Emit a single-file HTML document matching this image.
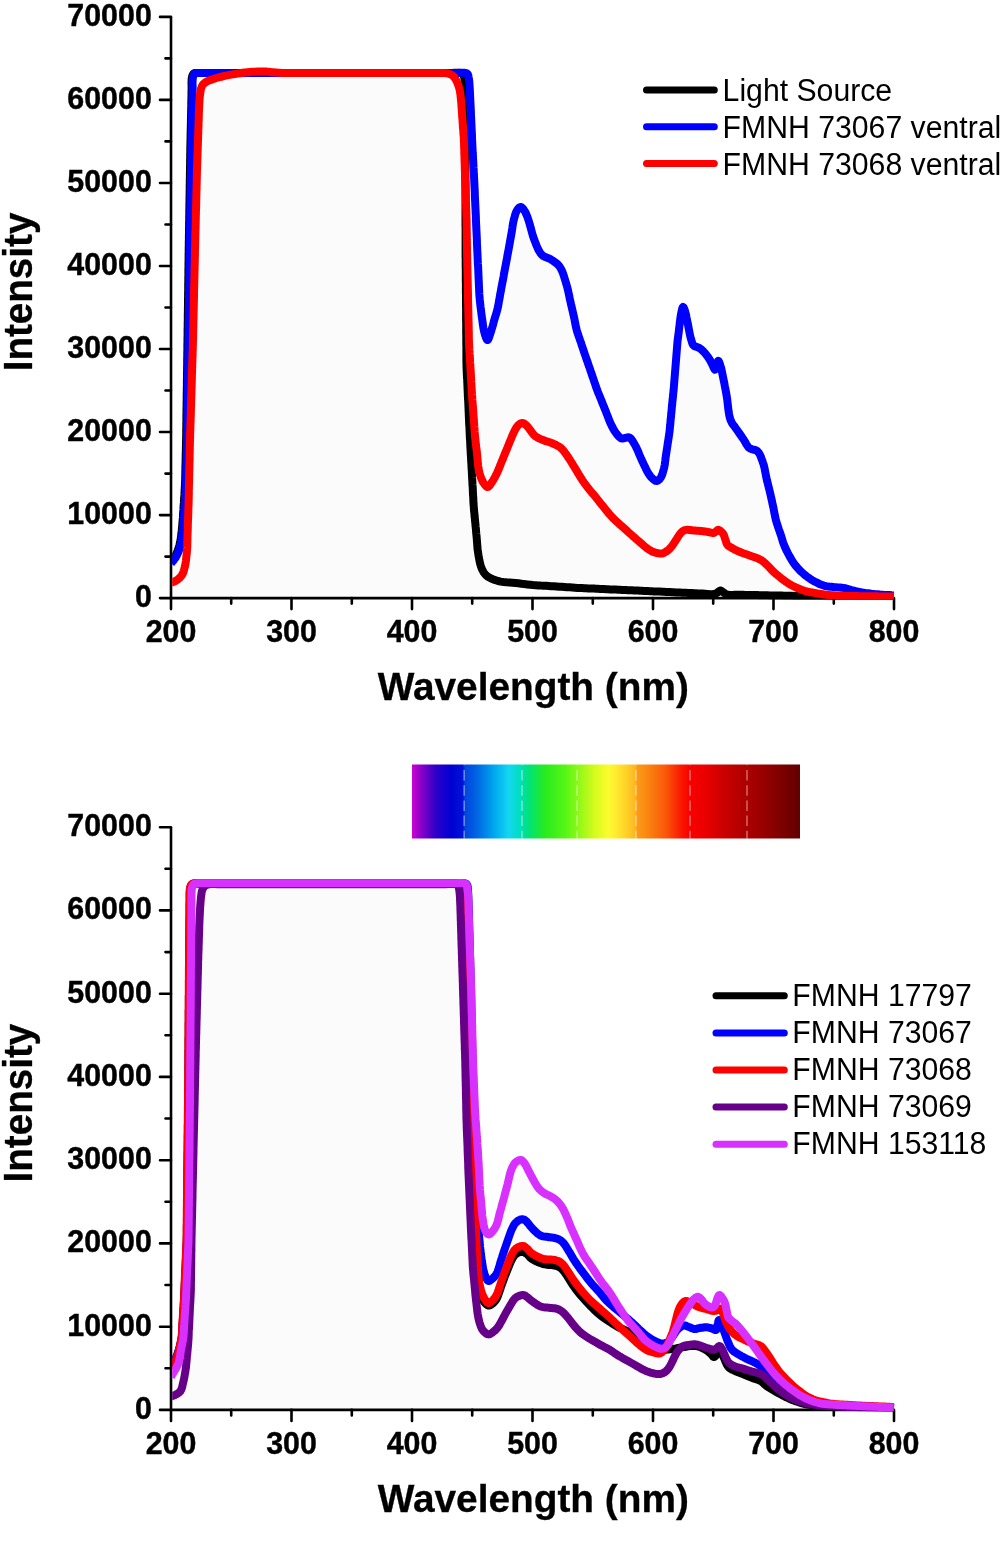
<!DOCTYPE html>
<html><head><meta charset="utf-8"><title>Spectra</title>
<style>
html,body{margin:0;padding:0;background:#fff;}
svg{display:block}
text{font-family:"Liberation Sans",sans-serif;fill:#000}
.tk{font-weight:bold;font-size:30.4px;stroke:#000;stroke-width:0.4px}
.ti{font-weight:bold;stroke:#000;stroke-width:0.3px}
.lg{font-weight:normal}
</style></head><body>
<svg width="1003" height="1548" viewBox="0 0 1003 1548">
<defs>
<clipPath id="ca"><rect x="172.2" y="10" width="722.6" height="589.4"/></clipPath>
<clipPath id="cb"><rect x="172.2" y="820" width="722.6" height="591.2"/></clipPath>
<linearGradient id="sp" x1="0" y1="0" x2="1" y2="0"><stop offset="0.0000" stop-color="rgb(205, 0, 210)"/><stop offset="0.0232" stop-color="rgb(140, 0, 200)"/><stop offset="0.0593" stop-color="rgb(50, 0, 200)"/><stop offset="0.1005" stop-color="rgb(0, 0, 210)"/><stop offset="0.1314" stop-color="rgb(0, 20, 215)"/><stop offset="0.1366" stop-color="rgb(0, 70, 222)"/><stop offset="0.1624" stop-color="rgb(0, 95, 226)"/><stop offset="0.2139" stop-color="rgb(0, 170, 240)"/><stop offset="0.2500" stop-color="rgb(20, 215, 240)"/><stop offset="0.2784" stop-color="rgb(0, 222, 190)"/><stop offset="0.3015" stop-color="rgb(0, 226, 120)"/><stop offset="0.3428" stop-color="rgb(40, 235, 30)"/><stop offset="0.3943" stop-color="rgb(85, 245, 20)"/><stop offset="0.4330" stop-color="rgb(150, 248, 25)"/><stop offset="0.4716" stop-color="rgb(215, 250, 30)"/><stop offset="0.5052" stop-color="rgb(250, 252, 45)"/><stop offset="0.5206" stop-color="rgb(255, 240, 50)"/><stop offset="0.5490" stop-color="rgb(255, 212, 40)"/><stop offset="0.5760" stop-color="rgb(252, 182, 34)"/><stop offset="0.5799" stop-color="rgb(250, 155, 24)"/><stop offset="0.6005" stop-color="rgb(250, 140, 18)"/><stop offset="0.6521" stop-color="rgb(250, 90, 10)"/><stop offset="0.6933" stop-color="rgb(250, 25, 0)"/><stop offset="0.7165" stop-color="rgb(248, 0, 0)"/><stop offset="0.7552" stop-color="rgb(235, 0, 0)"/><stop offset="0.8067" stop-color="rgb(200, 0, 0)"/><stop offset="0.8634" stop-color="rgb(172, 0, 0)"/><stop offset="0.9098" stop-color="rgb(150, 0, 0)"/><stop offset="0.9613" stop-color="rgb(120, 0, 0)"/><stop offset="1.0000" stop-color="rgb(98, 0, 0)"/></linearGradient>
</defs>
<rect width="1003" height="1548" fill="#fff"/>
<!-- plot A -->
<path d="M171.0,563.5 L171.9,562.3 L172.9,561.1 L173.9,559.9 L174.8,558.7 L175.7,557.4 L176.5,556.0 L177.3,554.4 L178.1,552.6 L178.8,550.8 L179.4,549.0 L180.0,547.0 L180.5,545.0 L181.1,542.4 L181.6,539.7 L182.0,536.9 L182.3,534.0 L182.7,531.0 L183.0,528.0 L183.3,524.5 L183.6,520.9 L183.9,517.2 L184.1,513.4 L184.4,509.7 L184.6,506.0 L184.9,502.3 L185.1,498.5 L185.4,494.7 L185.6,491.0 L185.8,487.4 L186.0,484.0 L186.1,481.4 L186.2,478.9 L186.2,476.5 L186.3,474.1 L186.3,471.7 L186.4,469.3 L186.4,466.9 L186.5,464.4 L186.6,462.0 L186.6,459.6 L186.7,457.1 L186.7,454.7 L186.8,452.2 L186.9,449.7 L186.9,447.3 L187.0,444.8 L187.0,442.4 L187.1,440.0 L187.1,437.9 L187.2,435.8 L187.2,433.7 L187.2,431.6 L187.2,429.6 L187.3,427.5 L187.3,425.4 L187.3,423.3 L187.4,421.2 L187.4,419.2 L187.4,417.1 L187.4,415.0 L187.5,412.9 L187.5,410.8 L187.5,408.8 L187.6,406.7 L187.6,404.6 L187.6,402.5 L187.7,400.4 L187.7,398.3 L187.7,396.2 L187.7,394.2 L187.8,392.1 L187.8,390.0 L187.8,387.9 L187.9,385.8 L187.9,383.8 L187.9,381.7 L187.9,379.6 L188.0,377.5 L188.0,375.4 L188.0,373.3 L188.1,371.2 L188.1,369.2 L188.1,367.1 L188.2,365.0 L188.2,362.9 L188.2,360.8 L188.2,358.8 L188.3,356.7 L188.3,354.6 L188.3,352.5 L188.4,350.4 L188.4,348.3 L188.4,346.3 L188.4,344.2 L188.5,342.1 L188.5,340.0 L188.5,337.9 L188.6,335.7 L188.6,333.6 L188.6,331.4 L188.6,329.3 L188.7,327.1 L188.7,325.0 L188.7,322.9 L188.8,320.7 L188.8,318.6 L188.8,316.4 L188.8,314.3 L188.9,312.1 L188.9,310.0 L188.9,307.9 L189.0,305.7 L189.0,303.6 L189.0,301.4 L189.0,299.3 L189.1,297.1 L189.1,295.0 L189.1,292.9 L189.2,290.7 L189.2,288.6 L189.2,286.4 L189.2,284.3 L189.3,282.1 L189.3,280.0 L189.3,277.9 L189.4,275.7 L189.4,273.6 L189.4,271.4 L189.4,269.3 L189.5,267.1 L189.5,265.0 L189.5,262.9 L189.6,260.7 L189.6,258.6 L189.6,256.4 L189.6,254.3 L189.7,252.1 L189.7,250.0 L189.7,247.9 L189.8,245.8 L189.8,243.7 L189.8,241.7 L189.9,239.6 L189.9,237.5 L189.9,235.4 L190.0,233.3 L190.0,231.2 L190.0,229.2 L190.1,227.1 L190.1,225.0 L190.1,222.9 L190.2,220.8 L190.2,218.8 L190.2,216.7 L190.3,214.6 L190.3,212.5 L190.3,210.4 L190.4,208.3 L190.4,206.2 L190.4,204.2 L190.5,202.1 L190.5,200.0 L190.5,197.9 L190.6,195.8 L190.6,193.8 L190.6,191.7 L190.7,189.6 L190.7,187.5 L190.7,185.4 L190.8,183.3 L190.8,181.2 L190.8,179.2 L190.9,177.1 L190.9,175.0 L190.9,172.9 L191.0,170.8 L191.0,168.8 L191.0,166.7 L191.1,164.6 L191.1,162.5 L191.1,160.4 L191.2,158.3 L191.2,156.2 L191.2,154.1 L191.3,152.1 L191.3,150.0 L191.3,148.0 L191.4,146.0 L191.4,144.0 L191.5,142.0 L191.5,140.0 L191.6,138.0 L191.6,136.0 L191.6,134.0 L191.7,132.0 L191.7,130.0 L191.8,128.0 L191.8,126.0 L191.9,124.0 L191.9,122.0 L191.9,120.0 L192.0,118.0 L192.0,116.0 L192.1,114.0 L192.1,112.0 L192.2,110.0 L192.2,108.0 L192.3,106.0 L192.3,104.0 L192.3,102.0 L192.4,100.0 L192.4,98.0 L192.5,96.0 L192.5,94.0 L192.5,92.0 L192.6,90.0 L192.6,87.8 L192.6,85.4 L192.5,83.0 L192.6,80.7 L192.7,78.7 L193.0,77.0 L193.2,76.2 L193.5,75.4 L193.8,74.8 L194.1,74.2 L194.5,73.7 L195.0,73.3 L195.6,73.0 L196.4,72.9 L197.2,72.9 L198.1,72.9 L199.0,73.0 L200.0,73.0 L201.8,73.0 L203.7,73.0 L205.9,73.0 L208.1,73.0 L210.4,73.0 L212.5,73.0 L214.6,73.0 L216.7,73.0 L218.8,73.0 L220.8,73.0 L222.9,73.0 L225.0,73.0 L227.1,73.0 L229.2,73.0 L231.2,73.0 L233.3,73.0 L235.4,73.0 L237.5,73.0 L239.6,73.0 L241.7,73.0 L243.8,73.0 L245.8,73.0 L247.9,73.0 L250.0,73.0 L252.1,73.0 L254.2,73.0 L256.2,73.0 L258.3,73.0 L260.4,73.0 L262.5,73.0 L264.6,73.0 L266.7,73.0 L268.8,73.0 L270.8,73.0 L272.9,73.0 L275.0,73.0 L277.1,73.0 L279.2,73.0 L281.2,73.0 L283.3,73.0 L285.4,73.0 L287.5,73.0 L289.6,73.0 L291.7,73.0 L293.7,73.0 L295.8,73.0 L297.9,73.0 L300.0,73.0 L302.1,73.0 L304.2,73.0 L306.4,73.0 L308.5,73.0 L310.6,73.0 L312.7,73.0 L314.9,73.0 L317.0,73.0 L319.1,73.0 L321.2,73.0 L323.3,73.0 L325.5,73.0 L327.6,73.0 L329.7,73.0 L331.8,73.0 L333.9,73.0 L336.1,73.0 L338.2,73.0 L340.3,73.0 L342.4,73.0 L344.6,73.0 L346.7,73.0 L348.8,73.0 L350.9,73.0 L353.0,73.0 L355.2,73.0 L357.3,73.0 L359.4,73.0 L361.5,73.0 L363.7,73.0 L365.8,73.0 L367.9,73.0 L370.0,73.0 L372.1,73.0 L374.3,73.0 L376.4,73.0 L378.5,73.0 L380.6,73.0 L382.8,73.0 L384.9,73.0 L387.0,73.0 L389.1,73.0 L391.2,73.0 L393.4,73.0 L395.5,73.0 L397.6,73.0 L399.7,73.0 L401.8,73.0 L404.0,73.0 L406.1,73.0 L408.2,73.0 L410.3,73.0 L412.5,73.0 L414.6,73.0 L416.7,73.0 L418.8,73.0 L420.9,73.0 L423.1,73.0 L425.2,73.0 L427.3,73.0 L429.4,73.0 L431.6,73.0 L433.7,73.0 L435.8,73.0 L437.9,73.0 L440.0,73.0 L442.2,73.0 L444.3,73.0 L446.4,73.0 L448.5,73.0 L450.6,73.0 L452.8,73.0 L455.0,73.0 L457.4,72.9 L459.8,72.8 L462.1,72.8 L464.0,72.8 L465.5,73.0 L466.0,73.1 L466.4,73.2 L466.7,73.4 L467.1,73.5 L467.3,73.7 L467.6,74.0 L467.9,74.4 L468.1,75.0 L468.3,75.6 L468.5,76.3 L468.6,77.1 L468.8,78.0 L469.2,80.9 L469.5,84.7 L469.8,89.1 L470.0,93.6 L470.2,98.0 L470.4,101.7 L470.5,103.9 L470.6,106.0 L470.7,108.0 L470.8,109.9 L470.9,111.8 L470.9,113.8 L471.0,115.8 L471.1,117.8 L471.2,119.8 L471.3,121.8 L471.4,123.8 L471.5,125.8 L471.6,127.9 L471.7,129.9 L471.8,131.9 L471.9,133.9 L472.0,135.9 L472.0,137.9 L472.1,139.9 L472.2,141.9 L472.3,143.9 L472.4,145.9 L472.5,147.9 L472.6,150.0 L472.7,152.4 L472.9,154.9 L473.0,157.4 L473.1,159.9 L473.3,162.5 L473.4,165.0 L473.5,167.5 L473.7,170.1 L473.8,172.6 L473.9,175.1 L474.1,177.6 L474.2,180.0 L474.3,182.1 L474.4,184.2 L474.5,186.3 L474.6,188.4 L474.7,190.4 L474.8,192.5 L474.8,194.5 L474.9,196.6 L475.0,198.7 L475.1,200.8 L475.2,202.9 L475.3,204.9 L475.4,207.0 L475.5,209.1 L475.6,211.2 L475.7,213.2 L475.8,215.3 L475.9,217.4 L475.9,219.5 L476.0,221.6 L476.1,223.6 L476.2,225.7 L476.3,227.8 L476.4,229.9 L476.5,231.9 L476.6,234.0 L476.7,236.1 L476.8,238.2 L476.9,240.3 L476.9,242.3 L477.0,244.4 L477.1,246.5 L477.2,248.5 L477.3,250.6 L477.4,252.7 L477.5,254.8 L477.6,257.1 L477.7,259.4 L477.8,261.7 L477.9,264.0 L478.1,266.4 L478.2,268.7 L478.3,271.0 L478.4,273.3 L478.5,275.6 L478.6,278.0 L478.7,280.3 L478.8,282.6 L478.9,284.9 L479.0,287.1 L479.1,289.4 L479.2,291.6 L479.3,294.0 L479.5,296.5 L479.8,299.9 L480.2,303.5 L480.6,307.2 L481.1,311.0 L481.5,314.6 L482.0,318.0 L482.4,320.7 L482.7,323.4 L483.1,326.0 L483.5,328.5 L484.0,330.9 L484.5,333.0 L484.9,334.5 L485.4,336.1 L485.9,337.6 L486.5,338.8 L487.0,339.7 L487.5,340.0 L488.0,339.7 L488.5,338.8 L489.0,337.5 L489.5,336.1 L490.0,334.5 L490.5,333.0 L491.2,330.9 L491.9,328.5 L492.7,325.9 L493.4,323.3 L494.0,320.8 L494.7,318.5 L495.2,316.8 L495.7,315.2 L496.2,313.7 L496.6,312.2 L497.1,310.6 L497.5,309.0 L497.9,307.1 L498.3,305.1 L498.7,303.0 L499.0,301.0 L499.4,298.9 L499.8,296.9 L500.1,294.8 L500.5,292.8 L500.9,290.8 L501.2,288.8 L501.6,286.7 L502.0,284.7 L502.4,282.6 L502.8,280.6 L503.2,278.5 L503.6,276.4 L503.9,274.3 L504.3,272.2 L504.7,270.2 L505.1,268.1 L505.5,266.0 L505.9,263.9 L506.3,261.8 L506.7,259.8 L507.1,257.7 L507.4,255.6 L507.8,253.6 L508.2,251.5 L508.6,249.4 L509.0,247.3 L509.4,245.0 L509.8,242.7 L510.2,240.3 L510.7,237.9 L511.1,235.5 L511.5,233.2 L511.9,230.8 L512.3,228.3 L512.6,225.9 L513.0,223.5 L513.5,221.2 L514.0,219.0 L514.5,217.2 L515.0,215.4 L515.5,213.7 L516.1,212.1 L516.8,210.7 L517.5,209.5 L518.0,208.9 L518.5,208.3 L519.1,207.7 L519.7,207.3 L520.3,207.1 L520.8,207.0 L521.4,207.1 L521.9,207.5 L522.4,208.0 L523.0,208.6 L523.5,209.3 L524.0,210.0 L524.6,211.0 L525.3,212.0 L525.8,213.2 L526.4,214.5 L527.0,215.9 L527.6,217.4 L528.6,220.5 L529.7,224.1 L530.8,228.1 L531.9,232.2 L533.0,236.2 L534.3,239.8 L535.4,242.6 L536.5,245.5 L537.7,248.2 L538.9,250.7 L540.3,252.9 L541.8,254.8 L543.1,255.9 L544.6,256.7 L546.1,257.3 L547.7,257.9 L549.2,258.5 L550.7,259.3 L552.3,260.3 L553.9,261.4 L555.4,262.5 L557.0,263.7 L558.4,265.1 L559.7,266.7 L561.2,269.2 L562.5,272.0 L563.6,275.1 L564.6,278.4 L565.6,281.6 L566.5,284.7 L567.3,287.5 L568.0,290.3 L568.6,293.0 L569.2,295.8 L569.7,298.6 L570.4,301.4 L571.0,304.2 L571.7,307.0 L572.3,309.8 L573.0,312.6 L573.6,315.4 L574.2,318.0 L574.6,320.1 L575.0,322.1 L575.4,324.1 L575.8,326.1 L576.2,328.0 L576.7,330.0 L577.3,332.1 L578.0,334.1 L578.7,336.2 L579.4,338.2 L580.1,340.3 L580.9,342.4 L581.5,344.4 L582.2,346.5 L582.9,348.6 L583.6,350.6 L584.3,352.7 L585.0,354.7 L585.7,356.7 L586.3,358.6 L587.0,360.5 L587.7,362.4 L588.3,364.4 L589.0,366.3 L589.7,368.2 L590.3,370.2 L591.0,372.1 L591.7,374.0 L592.3,376.0 L593.0,377.9 L593.7,379.8 L594.3,381.8 L595.0,383.7 L595.6,385.6 L596.3,387.6 L597.0,389.5 L597.7,391.4 L598.5,393.4 L599.3,395.3 L600.1,397.3 L600.9,399.2 L601.7,401.1 L602.4,403.1 L603.2,405.0 L604.0,406.9 L604.8,408.9 L605.6,410.8 L606.3,412.8 L607.1,414.7 L607.9,416.7 L608.6,418.7 L609.4,420.7 L610.2,422.6 L611.0,424.4 L611.8,426.0 L612.6,427.5 L613.4,429.0 L614.2,430.4 L615.1,431.7 L616.0,433.0 L616.8,434.1 L617.7,435.2 L618.7,436.3 L619.6,437.2 L620.5,437.9 L621.4,438.4 L622.0,438.5 L622.6,438.5 L623.2,438.4 L623.8,438.3 L624.4,438.1 L625.0,438.0 L625.7,437.9 L626.5,437.7 L627.3,437.5 L628.0,437.3 L628.8,437.3 L629.5,437.5 L630.5,438.2 L631.4,439.2 L632.3,440.5 L633.2,441.9 L634.1,443.5 L635.0,445.0 L636.1,447.1 L637.2,449.4 L638.3,451.9 L639.3,454.5 L640.4,457.0 L641.5,459.5 L642.7,462.0 L643.9,464.6 L645.1,467.1 L646.3,469.6 L647.5,471.9 L648.7,473.8 L649.4,474.9 L650.1,475.9 L650.8,476.8 L651.5,477.6 L652.3,478.3 L653.0,479.0 L653.6,479.5 L654.3,480.0 L654.9,480.4 L655.5,480.8 L656.2,481.0 L656.8,481.0 L657.4,480.8 L658.1,480.5 L658.7,480.0 L659.4,479.4 L659.9,478.7 L660.5,478.0 L661.2,476.8 L661.9,475.3 L662.5,473.7 L663.0,471.9 L663.5,470.1 L664.0,468.4 L664.4,466.5 L664.8,464.5 L665.0,462.5 L665.3,460.5 L665.5,458.4 L665.8,456.4 L666.1,454.4 L666.4,452.4 L666.7,450.4 L667.0,448.5 L667.3,446.5 L667.6,444.5 L667.9,442.5 L668.2,440.5 L668.5,438.6 L668.8,436.6 L669.1,434.6 L669.4,432.5 L669.7,430.1 L669.9,427.6 L670.2,425.1 L670.4,422.6 L670.6,420.1 L670.9,417.6 L671.1,415.1 L671.4,412.6 L671.6,410.1 L671.8,407.6 L672.1,405.1 L672.3,402.6 L672.6,400.1 L672.8,397.7 L673.1,395.2 L673.3,392.7 L673.6,390.2 L673.8,387.7 L674.0,385.2 L674.2,382.7 L674.4,380.2 L674.6,377.7 L674.8,375.2 L675.0,372.7 L675.2,370.2 L675.4,367.7 L675.6,365.2 L675.8,362.8 L676.0,360.3 L676.2,357.8 L676.4,355.3 L676.6,352.7 L676.8,350.2 L677.0,347.7 L677.2,345.2 L677.4,342.8 L677.6,340.5 L677.9,338.3 L678.2,336.1 L678.5,333.8 L678.8,331.6 L679.0,329.4 L679.3,327.1 L679.6,324.8 L679.8,322.5 L680.1,320.3 L680.4,318.1 L680.7,316.0 L681.0,314.2 L681.4,312.2 L681.8,310.3 L682.2,308.6 L682.6,307.5 L683.0,307.0 L683.3,307.2 L683.7,307.6 L684.0,308.3 L684.4,309.2 L684.7,310.1 L685.0,311.0 L685.4,312.4 L685.8,314.0 L686.2,315.7 L686.5,317.5 L686.9,319.4 L687.3,321.3 L687.9,324.1 L688.5,327.2 L689.1,330.4 L689.7,333.6 L690.3,336.5 L691.0,339.0 L691.4,340.3 L691.8,341.6 L692.1,342.8 L692.5,343.8 L693.0,344.8 L693.6,345.5 L694.1,345.9 L694.6,346.2 L695.2,346.4 L695.8,346.6 L696.4,346.8 L697.0,347.0 L697.6,347.3 L698.2,347.5 L698.9,347.8 L699.5,348.1 L700.1,348.5 L700.8,349.0 L701.9,350.0 L703.2,351.2 L704.5,352.6 L705.8,354.1 L706.9,355.6 L708.0,357.0 L708.8,358.2 L709.5,359.4 L710.2,360.5 L710.8,361.7 L711.4,362.9 L712.0,364.0 L712.5,365.1 L713.1,366.4 L713.6,367.6 L714.1,368.7 L714.6,369.4 L715.0,369.7 L715.3,369.5 L715.6,369.0 L715.8,368.3 L716.0,367.6 L716.3,366.7 L716.5,366.0 L716.8,365.1 L717.1,364.0 L717.4,362.8 L717.7,361.8 L718.0,361.1 L718.3,360.8 L718.6,361.0 L719.0,361.7 L719.4,362.6 L719.8,363.7 L720.1,364.9 L720.5,366.0 L721.0,367.5 L721.4,369.2 L721.8,371.0 L722.2,372.9 L722.6,374.9 L723.0,377.0 L723.6,379.9 L724.3,383.1 L724.9,386.5 L725.6,389.9 L726.2,393.3 L726.8,396.7 L727.3,400.1 L727.7,403.7 L728.1,407.2 L728.5,410.6 L729.0,413.7 L729.5,416.4 L729.9,417.7 L730.2,419.0 L730.6,420.1 L731.1,421.1 L731.5,422.1 L732.0,423.0 L732.4,423.7 L732.9,424.4 L733.3,424.9 L733.8,425.5 L734.3,426.2 L734.9,427.0 L736.1,428.7 L737.6,430.8 L739.2,433.1 L740.8,435.4 L742.4,437.7 L743.8,439.7 L744.7,441.2 L745.6,442.8 L746.4,444.3 L747.3,445.7 L748.1,446.9 L749.0,447.8 L749.6,448.3 L750.3,448.6 L751.0,448.9 L751.7,449.1 L752.3,449.3 L753.0,449.5 L753.6,449.7 L754.2,449.8 L754.8,449.9 L755.3,450.0 L755.9,450.2 L756.4,450.5 L757.0,450.9 L757.5,451.4 L758.1,452.0 L758.6,452.6 L759.1,453.3 L759.5,454.0 L760.0,454.8 L760.4,455.7 L760.7,456.6 L761.1,457.6 L761.4,458.5 L761.8,459.5 L762.2,460.5 L762.6,461.5 L762.9,462.6 L763.3,463.7 L763.7,464.8 L764.0,466.0 L764.4,467.7 L764.8,469.5 L765.1,471.3 L765.5,473.3 L765.9,475.3 L766.3,477.4 L766.9,480.1 L767.7,483.1 L768.4,486.1 L769.2,489.2 L769.9,492.2 L770.6,495.0 L771.1,497.3 L771.6,499.5 L772.1,501.7 L772.5,503.9 L773.0,506.0 L773.5,508.2 L773.9,510.4 L774.3,512.6 L774.8,514.8 L775.2,517.0 L775.7,519.2 L776.3,521.4 L776.9,523.5 L777.6,525.6 L778.3,527.7 L779.0,529.8 L779.8,531.9 L780.5,534.0 L781.2,536.0 L781.8,538.1 L782.4,540.1 L783.0,542.2 L783.8,544.3 L784.7,546.5 L786.1,549.6 L787.8,553.0 L789.6,556.4 L791.6,559.8 L793.7,563.1 L795.9,566.0 L798.0,568.4 L800.2,570.8 L802.5,572.9 L804.9,575.0 L807.4,576.9 L809.8,578.6 L812.1,580.1 L814.5,581.5 L816.9,582.7 L819.3,583.9 L821.6,584.8 L823.8,585.6 L825.4,586.0 L826.9,586.3 L828.5,586.6 L829.9,586.7 L831.5,586.8 L833.0,587.0 L834.7,587.2 L836.4,587.3 L838.1,587.4 L839.9,587.5 L841.6,587.7 L843.3,587.9 L844.9,588.2 L846.6,588.7 L848.2,589.1 L849.8,589.6 L851.4,590.1 L853.0,590.5 L854.6,590.9 L856.2,591.3 L857.8,591.6 L859.4,592.0 L861.1,592.3 L862.9,592.6 L865.5,593.0 L868.3,593.3 L871.3,593.7 L874.2,594.0 L877.2,594.2 L880.0,594.5 L882.4,594.7 L884.8,594.9 L887.1,595.0 L889.4,595.1 L891.7,595.3 L894.0,595.4 L894.0,598.1 L171.0,598.1 Z" fill="#fbfbfb" stroke="none" clip-path="url(#ca)"/>
<path d="M171,16.9 V598.1 H894" fill="none" stroke="#000" stroke-width="2.6" stroke-linejoin="miter"/>
<path d="M171,598.1 h-11 M171,556.6 h-5.5 M171,515.1 h-11 M171,473.6 h-5.5 M171,432.0 h-11 M171,390.5 h-5.5 M171,349.0 h-11 M171,307.5 h-5.5 M171,266.0 h-11 M171,224.5 h-5.5 M171,183.0 h-11 M171,141.4 h-5.5 M171,99.9 h-11 M171,58.4 h-5.5 M171,16.9 h-11 M171.0,598.1 v11 M231.2,598.1 v5.5 M291.5,598.1 v11 M351.8,598.1 v5.5 M412.0,598.1 v11 M472.2,598.1 v5.5 M532.5,598.1 v11 M592.8,598.1 v5.5 M653.0,598.1 v11 M713.2,598.1 v5.5 M773.5,598.1 v11 M833.8,598.1 v5.5 M894.0,598.1 v11" fill="none" stroke="#000" stroke-width="2.6" stroke-linecap="round"/>
<text transform="translate(151.8,607.0) scale(1,1.045)" text-anchor="end" class="tk">0</text>
<text transform="translate(151.8,524.0) scale(1,1.045)" text-anchor="end" class="tk">10000</text>
<text transform="translate(151.8,440.9) scale(1,1.045)" text-anchor="end" class="tk">20000</text>
<text transform="translate(151.8,357.9) scale(1,1.045)" text-anchor="end" class="tk">30000</text>
<text transform="translate(151.8,274.9) scale(1,1.045)" text-anchor="end" class="tk">40000</text>
<text transform="translate(151.8,191.9) scale(1,1.045)" text-anchor="end" class="tk">50000</text>
<text transform="translate(151.8,108.8) scale(1,1.045)" text-anchor="end" class="tk">60000</text>
<text transform="translate(151.8,25.8) scale(1,1.045)" text-anchor="end" class="tk">70000</text>
<text transform="translate(171.0,641.8) scale(1,1.04)" text-anchor="middle" class="tk">200</text>
<text transform="translate(291.5,641.8) scale(1,1.04)" text-anchor="middle" class="tk">300</text>
<text transform="translate(412.0,641.8) scale(1,1.04)" text-anchor="middle" class="tk">400</text>
<text transform="translate(532.5,641.8) scale(1,1.04)" text-anchor="middle" class="tk">500</text>
<text transform="translate(653.0,641.8) scale(1,1.04)" text-anchor="middle" class="tk">600</text>
<text transform="translate(773.5,641.8) scale(1,1.04)" text-anchor="middle" class="tk">700</text>
<text transform="translate(894.0,641.8) scale(1,1.04)" text-anchor="middle" class="tk">800</text>
<text x="533.3" y="700.3" text-anchor="middle" class="ti" font-size="38.8">Wavelength (nm)</text>
<text transform="translate(32.3,292.0) rotate(-90) scale(1,1.035)" text-anchor="middle" class="ti" font-size="38.6">Intensity</text>
<path d="M171.0,562.5 L171.8,561.4 L172.5,560.2 L173.3,559.1 L174.1,558.0 L174.8,556.8 L175.5,555.5 L176.3,553.9 L177.0,552.3 L177.7,550.6 L178.3,548.8 L179.0,546.9 L179.5,545.0 L180.1,542.4 L180.6,539.7 L181.0,536.9 L181.3,534.0 L181.7,531.0 L182.0,528.0 L182.3,524.5 L182.6,520.9 L182.9,517.2 L183.1,513.4 L183.4,509.7 L183.6,506.0 L183.9,502.3 L184.1,498.5 L184.4,494.7 L184.6,491.0 L184.8,487.4 L185.0,484.0 L185.1,481.4 L185.2,478.9 L185.2,476.5 L185.3,474.1 L185.3,471.7 L185.4,469.3 L185.4,466.9 L185.5,464.4 L185.6,462.0 L185.6,459.6 L185.7,457.1 L185.7,454.7 L185.8,452.2 L185.9,449.7 L185.9,447.3 L186.0,444.8 L186.0,442.4 L186.1,440.0 L186.1,437.9 L186.2,435.8 L186.2,433.7 L186.2,431.6 L186.2,429.6 L186.3,427.5 L186.3,425.4 L186.3,423.3 L186.4,421.2 L186.4,419.2 L186.4,417.1 L186.4,415.0 L186.5,412.9 L186.5,410.8 L186.5,408.8 L186.6,406.7 L186.6,404.6 L186.6,402.5 L186.7,400.4 L186.7,398.3 L186.7,396.2 L186.7,394.2 L186.8,392.1 L186.8,390.0 L186.8,387.9 L186.9,385.8 L186.9,383.8 L186.9,381.7 L186.9,379.6 L187.0,377.5 L187.0,375.4 L187.0,373.3 L187.1,371.2 L187.1,369.2 L187.1,367.1 L187.2,365.0 L187.2,362.9 L187.2,360.8 L187.2,358.8 L187.3,356.7 L187.3,354.6 L187.3,352.5 L187.4,350.4 L187.4,348.3 L187.4,346.3 L187.4,344.2 L187.5,342.1 L187.5,340.0 L187.5,337.9 L187.6,335.7 L187.6,333.6 L187.6,331.4 L187.6,329.3 L187.7,327.1 L187.7,325.0 L187.7,322.9 L187.8,320.7 L187.8,318.6 L187.8,316.4 L187.8,314.3 L187.9,312.1 L187.9,310.0 L187.9,307.9 L188.0,305.7 L188.0,303.6 L188.0,301.4 L188.0,299.3 L188.1,297.1 L188.1,295.0 L188.1,292.9 L188.2,290.7 L188.2,288.6 L188.2,286.4 L188.2,284.3 L188.3,282.1 L188.3,280.0 L188.3,277.9 L188.4,275.7 L188.4,273.6 L188.4,271.4 L188.4,269.3 L188.5,267.1 L188.5,265.0 L188.5,262.9 L188.6,260.7 L188.6,258.6 L188.6,256.4 L188.6,254.3 L188.7,252.1 L188.7,250.0 L188.7,247.9 L188.8,245.8 L188.8,243.7 L188.8,241.7 L188.9,239.6 L188.9,237.5 L188.9,235.4 L189.0,233.3 L189.0,231.2 L189.0,229.2 L189.1,227.1 L189.1,225.0 L189.1,222.9 L189.2,220.8 L189.2,218.8 L189.2,216.7 L189.3,214.6 L189.3,212.5 L189.3,210.4 L189.4,208.3 L189.4,206.2 L189.4,204.2 L189.5,202.1 L189.5,200.0 L189.5,197.9 L189.6,195.8 L189.6,193.8 L189.6,191.7 L189.7,189.6 L189.7,187.5 L189.7,185.4 L189.8,183.3 L189.8,181.2 L189.8,179.2 L189.9,177.1 L189.9,175.0 L189.9,172.9 L190.0,170.8 L190.0,168.8 L190.0,166.7 L190.1,164.6 L190.1,162.5 L190.1,160.4 L190.2,158.3 L190.2,156.2 L190.2,154.1 L190.3,152.1 L190.3,150.0 L190.3,148.0 L190.4,146.0 L190.4,144.0 L190.5,142.0 L190.5,140.0 L190.6,138.0 L190.6,136.0 L190.6,134.0 L190.7,132.0 L190.7,130.0 L190.8,128.0 L190.8,126.0 L190.9,124.0 L190.9,122.0 L190.9,120.0 L191.0,118.0 L191.0,116.0 L191.1,114.0 L191.1,112.0 L191.2,110.0 L191.2,108.0 L191.3,106.0 L191.3,104.0 L191.3,102.0 L191.4,100.0 L191.4,98.0 L191.5,96.0 L191.5,94.0 L191.5,92.0 L191.6,90.0 L191.6,87.8 L191.6,85.4 L191.5,83.0 L191.6,80.7 L191.7,78.7 L192.0,77.0 L192.2,76.2 L192.5,75.4 L192.8,74.8 L193.1,74.2 L193.5,73.7 L194.0,73.3 L194.6,73.0 L195.4,72.9 L196.2,72.9 L197.1,72.9 L198.0,73.0 L199.0,73.0 L200.8,73.0 L202.8,73.0 L205.0,73.0 L207.2,73.0 L209.5,73.0 L211.6,73.0 L213.7,73.0 L215.8,73.0 L217.9,73.0 L220.0,73.0 L222.1,73.0 L224.2,73.0 L226.4,73.0 L228.5,73.0 L230.6,73.0 L232.7,73.0 L234.8,73.0 L236.9,73.0 L239.0,73.0 L241.1,73.0 L243.2,73.0 L245.3,73.0 L247.4,73.0 L249.5,73.0 L251.6,73.0 L253.7,73.0 L255.8,73.0 L257.9,73.0 L260.0,73.0 L262.1,73.0 L264.2,73.0 L266.3,73.0 L268.4,73.0 L270.5,73.0 L272.6,73.0 L274.8,73.0 L276.9,73.0 L279.0,73.0 L281.1,73.0 L283.2,73.0 L285.3,73.0 L287.4,73.0 L289.5,73.0 L291.6,73.0 L293.7,73.0 L295.8,73.0 L297.9,73.0 L300.0,73.0 L302.1,73.0 L304.1,73.0 L306.2,73.0 L308.2,73.0 L310.3,73.0 L312.3,73.0 L314.4,73.0 L316.4,73.0 L318.5,73.0 L320.5,73.0 L322.6,73.0 L324.6,73.0 L326.7,73.0 L328.7,73.0 L330.8,73.0 L332.8,73.0 L334.9,73.0 L336.9,73.0 L339.0,73.0 L341.0,73.0 L343.1,73.0 L345.1,73.0 L347.2,73.0 L349.2,73.0 L351.3,73.0 L353.3,73.0 L355.4,73.0 L357.4,73.0 L359.5,73.0 L361.5,73.0 L363.6,73.0 L365.6,73.0 L367.7,73.0 L369.7,73.0 L371.8,73.0 L373.8,73.0 L375.9,73.0 L377.9,73.0 L380.0,73.0 L382.1,73.0 L384.1,73.0 L386.2,73.0 L388.2,73.0 L390.3,73.0 L392.3,73.0 L394.4,73.0 L396.4,73.0 L398.5,73.0 L400.5,73.0 L402.6,73.0 L404.6,73.0 L406.7,73.0 L408.7,73.0 L410.8,73.0 L412.8,73.0 L414.9,73.0 L416.9,73.0 L419.0,73.0 L421.0,73.0 L423.1,73.0 L425.1,73.0 L427.2,73.0 L429.2,73.0 L431.3,73.0 L433.3,73.0 L435.4,73.0 L437.4,73.0 L439.5,73.0 L441.5,73.0 L443.6,73.0 L445.6,73.0 L447.7,73.0 L449.9,73.0 L452.1,72.9 L454.4,72.8 L456.6,72.8 L458.5,72.8 L460.0,73.0 L460.5,73.1 L461.0,73.2 L461.4,73.3 L461.8,73.5 L462.2,73.7 L462.5,74.0 L462.9,74.5 L463.3,75.0 L463.6,75.6 L463.8,76.3 L464.1,77.1 L464.3,78.0 L464.6,80.1 L464.8,82.7 L464.9,85.7 L464.9,88.8 L465.0,91.9 L465.0,95.0 L465.1,98.3 L465.1,101.7 L465.2,105.2 L465.2,108.6 L465.3,111.9 L465.3,115.0 L465.3,117.2 L465.3,119.3 L465.3,121.3 L465.3,123.3 L465.3,125.3 L465.3,127.3 L465.3,129.3 L465.3,131.4 L465.3,133.4 L465.3,135.5 L465.3,137.5 L465.4,139.5 L465.4,141.6 L465.4,143.6 L465.4,145.7 L465.4,147.7 L465.4,149.8 L465.4,151.8 L465.4,153.9 L465.4,155.9 L465.4,158.0 L465.4,160.0 L465.4,162.0 L465.4,164.1 L465.4,166.1 L465.4,168.2 L465.4,170.2 L465.4,172.3 L465.4,174.3 L465.4,176.4 L465.4,178.4 L465.4,180.5 L465.5,182.5 L465.5,184.5 L465.5,186.6 L465.5,188.6 L465.5,190.7 L465.5,192.7 L465.5,194.8 L465.5,196.8 L465.5,198.9 L465.5,200.9 L465.5,203.0 L465.5,205.0 L465.5,207.0 L465.5,209.1 L465.5,211.1 L465.5,213.2 L465.5,215.2 L465.5,217.3 L465.5,219.3 L465.5,221.4 L465.5,223.4 L465.5,225.5 L465.6,227.5 L465.6,229.5 L465.6,231.6 L465.6,233.6 L465.6,235.7 L465.6,237.7 L465.6,239.8 L465.6,241.8 L465.6,243.8 L465.6,245.9 L465.6,247.9 L465.6,250.0 L465.6,252.1 L465.6,254.3 L465.6,256.4 L465.7,258.6 L465.7,260.7 L465.7,262.9 L465.7,265.0 L465.7,267.2 L465.8,269.3 L465.8,271.5 L465.8,273.6 L465.8,275.8 L465.8,277.9 L465.8,280.1 L465.9,282.2 L465.9,284.4 L465.9,286.5 L465.9,288.7 L465.9,290.8 L465.9,293.0 L466.0,295.1 L466.0,297.3 L466.0,299.4 L466.0,301.6 L466.0,303.7 L466.0,305.9 L466.1,308.0 L466.1,310.1 L466.1,312.3 L466.1,314.4 L466.1,316.6 L466.1,318.7 L466.1,320.9 L466.2,323.0 L466.2,325.2 L466.2,327.3 L466.2,329.5 L466.2,331.6 L466.2,333.8 L466.3,335.9 L466.3,338.1 L466.3,340.2 L466.3,342.4 L466.3,344.5 L466.4,346.7 L466.4,348.8 L466.4,351.0 L466.4,353.1 L466.4,355.3 L466.4,357.4 L466.4,359.5 L466.4,361.7 L466.5,363.8 L466.5,366.0 L466.6,368.3 L466.7,370.6 L466.8,373.0 L466.9,375.3 L467.0,377.7 L467.2,380.0 L467.3,382.3 L467.4,384.7 L467.5,387.0 L467.6,389.3 L467.7,391.7 L467.8,394.0 L467.9,396.3 L468.0,398.7 L468.2,401.0 L468.3,403.3 L468.4,405.7 L468.5,408.0 L468.6,410.3 L468.7,412.7 L468.8,415.0 L468.9,417.3 L469.0,419.7 L469.1,422.0 L469.2,424.3 L469.4,426.7 L469.5,429.0 L469.6,431.3 L469.7,433.7 L469.8,436.0 L469.9,438.3 L470.1,440.7 L470.2,443.0 L470.3,445.3 L470.4,447.7 L470.6,450.0 L470.7,452.3 L470.8,454.7 L471.0,457.0 L471.1,459.3 L471.2,461.7 L471.4,464.0 L471.5,466.3 L471.6,468.7 L471.8,471.0 L471.9,473.3 L472.0,475.7 L472.1,478.0 L472.3,480.3 L472.4,482.7 L472.5,485.0 L472.7,487.3 L472.8,489.7 L472.9,492.0 L473.0,494.3 L473.2,496.6 L473.3,499.0 L473.4,501.3 L473.5,503.6 L473.7,506.0 L473.9,508.5 L474.1,511.1 L474.4,513.6 L474.6,516.2 L474.9,518.8 L475.1,521.3 L475.4,523.9 L475.6,526.4 L475.9,529.0 L476.1,531.6 L476.3,534.1 L476.6,536.7 L476.8,539.2 L477.0,541.8 L477.2,544.3 L477.4,546.9 L477.6,549.4 L478.0,552.0 L478.4,554.7 L478.9,557.6 L479.4,560.4 L480.0,563.2 L480.7,565.7 L481.5,568.0 L482.2,569.5 L482.9,570.9 L483.6,572.2 L484.4,573.4 L485.4,574.5 L486.5,575.6 L488.0,576.8 L489.8,577.8 L491.7,578.8 L493.7,579.6 L495.8,580.3 L498.0,581.0 L500.7,581.6 L503.5,582.0 L506.5,582.3 L509.5,582.5 L512.5,582.7 L515.5,583.0 L518.4,583.3 L521.4,583.7 L524.3,584.1 L527.2,584.4 L530.1,584.7 L533.0,585.0 L535.7,585.2 L538.3,585.4 L540.9,585.6 L543.5,585.7 L546.1,585.8 L548.7,586.0 L551.3,586.2 L553.9,586.3 L556.5,586.5 L559.1,586.7 L561.7,586.8 L564.3,587.0 L567.0,587.2 L569.6,587.3 L572.3,587.5 L574.9,587.7 L577.5,587.9 L580.0,588.0 L582.1,588.1 L584.1,588.2 L586.1,588.3 L588.1,588.4 L590.0,588.5 L592.0,588.5 L594.0,588.6 L596.0,588.7 L598.0,588.8 L600.0,588.9 L602.0,589.0 L604.0,589.1 L606.0,589.2 L608.0,589.3 L610.0,589.4 L612.0,589.4 L614.0,589.5 L616.0,589.6 L618.0,589.7 L620.0,589.8 L622.0,589.9 L624.0,590.0 L626.0,590.1 L628.0,590.2 L630.0,590.2 L632.0,590.3 L634.0,590.4 L636.0,590.5 L638.0,590.6 L640.0,590.7 L642.0,590.8 L644.0,590.9 L646.0,591.0 L648.0,591.1 L650.0,591.2 L652.0,591.3 L654.0,591.4 L656.0,591.4 L658.0,591.5 L660.0,591.6 L662.0,591.7 L664.0,591.8 L666.0,591.9 L668.0,592.0 L670.0,592.1 L672.0,592.2 L674.0,592.3 L676.0,592.4 L678.0,592.5 L680.0,592.6 L682.0,592.7 L684.0,592.8 L686.0,592.8 L688.0,592.9 L690.0,593.0 L692.0,593.1 L693.9,593.2 L695.9,593.3 L697.9,593.4 L700.0,593.5 L702.4,593.6 L704.9,593.8 L707.5,594.0 L710.0,594.2 L712.2,594.2 L714.0,594.0 L714.7,593.8 L715.4,593.6 L715.9,593.4 L716.5,593.1 L717.0,592.8 L717.5,592.5 L718.0,592.2 L718.5,591.7 L719.0,591.3 L719.5,590.9 L720.0,590.6 L720.5,590.5 L721.0,590.6 L721.5,590.9 L722.0,591.3 L722.5,591.7 L723.0,592.1 L723.5,592.5 L724.0,592.9 L724.5,593.2 L725.1,593.6 L725.6,593.9 L726.3,594.2 L727.0,594.5 L728.6,594.8 L730.5,594.9 L732.6,594.9 L734.8,594.8 L737.0,594.8 L739.2,594.8 L741.2,594.8 L743.2,594.8 L745.3,594.9 L747.3,594.9 L749.3,595.0 L751.3,595.0 L753.4,595.0 L755.4,595.1 L757.4,595.1 L759.4,595.2 L761.5,595.2 L763.5,595.2 L765.5,595.3 L767.6,595.3 L769.6,595.4 L771.6,595.4 L773.6,595.5 L775.7,595.5 L777.7,595.5 L779.7,595.6 L781.8,595.6 L783.8,595.7 L785.8,595.7 L787.8,595.8 L789.9,595.8 L791.9,595.8 L793.9,595.9 L795.9,595.9 L797.9,596.0 L800.0,596.0 L802.2,596.0 L804.4,596.1 L806.7,596.1 L808.9,596.1 L811.2,596.1 L813.4,596.1 L815.7,596.2 L817.9,596.2 L820.1,596.2 L822.4,596.2 L824.6,596.3 L826.9,596.3 L829.1,596.3 L831.3,596.3 L833.6,596.4 L835.8,596.4 L838.0,596.4 L840.3,596.4 L842.5,596.5 L844.8,596.5 L847.0,596.5 L849.2,596.5 L851.5,596.5 L853.7,596.6 L856.0,596.6 L858.2,596.6 L860.4,596.6 L862.7,596.7 L864.9,596.7 L867.1,596.7 L869.4,596.7 L871.6,596.8 L873.9,596.8 L876.1,596.8 L878.3,596.8 L880.6,596.9 L882.8,596.9 L885.0,596.9 L887.3,596.9 L889.5,597.0 L891.8,597.0 L894.0,597.0" fill="none" stroke="#000000" stroke-width="8" stroke-linejoin="round" stroke-linecap="butt" clip-path="url(#ca)"/>
<path d="M171.0,563.5 L171.9,562.3 L172.9,561.1 L173.9,559.9 L174.8,558.7 L175.7,557.4 L176.5,556.0 L177.3,554.4 L178.1,552.6 L178.8,550.8 L179.4,549.0 L180.0,547.0 L180.5,545.0 L181.1,542.4 L181.6,539.7 L182.0,536.9 L182.3,534.0 L182.7,531.0 L183.0,528.0 L183.3,524.5 L183.6,520.9 L183.9,517.2 L184.1,513.4 L184.4,509.7 L184.6,506.0 L184.9,502.3 L185.1,498.5 L185.4,494.7 L185.6,491.0 L185.8,487.4 L186.0,484.0 L186.1,481.4 L186.2,478.9 L186.2,476.5 L186.3,474.1 L186.3,471.7 L186.4,469.3 L186.4,466.9 L186.5,464.4 L186.6,462.0 L186.6,459.6 L186.7,457.1 L186.7,454.7 L186.8,452.2 L186.9,449.7 L186.9,447.3 L187.0,444.8 L187.0,442.4 L187.1,440.0 L187.1,437.9 L187.2,435.8 L187.2,433.7 L187.2,431.6 L187.2,429.6 L187.3,427.5 L187.3,425.4 L187.3,423.3 L187.4,421.2 L187.4,419.2 L187.4,417.1 L187.4,415.0 L187.5,412.9 L187.5,410.8 L187.5,408.8 L187.6,406.7 L187.6,404.6 L187.6,402.5 L187.7,400.4 L187.7,398.3 L187.7,396.2 L187.7,394.2 L187.8,392.1 L187.8,390.0 L187.8,387.9 L187.9,385.8 L187.9,383.8 L187.9,381.7 L187.9,379.6 L188.0,377.5 L188.0,375.4 L188.0,373.3 L188.1,371.2 L188.1,369.2 L188.1,367.1 L188.2,365.0 L188.2,362.9 L188.2,360.8 L188.2,358.8 L188.3,356.7 L188.3,354.6 L188.3,352.5 L188.4,350.4 L188.4,348.3 L188.4,346.3 L188.4,344.2 L188.5,342.1 L188.5,340.0 L188.5,337.9 L188.6,335.7 L188.6,333.6 L188.6,331.4 L188.6,329.3 L188.7,327.1 L188.7,325.0 L188.7,322.9 L188.8,320.7 L188.8,318.6 L188.8,316.4 L188.8,314.3 L188.9,312.1 L188.9,310.0 L188.9,307.9 L189.0,305.7 L189.0,303.6 L189.0,301.4 L189.0,299.3 L189.1,297.1 L189.1,295.0 L189.1,292.9 L189.2,290.7 L189.2,288.6 L189.2,286.4 L189.2,284.3 L189.3,282.1 L189.3,280.0 L189.3,277.9 L189.4,275.7 L189.4,273.6 L189.4,271.4 L189.4,269.3 L189.5,267.1 L189.5,265.0 L189.5,262.9 L189.6,260.7 L189.6,258.6 L189.6,256.4 L189.6,254.3 L189.7,252.1 L189.7,250.0 L189.7,247.9 L189.8,245.8 L189.8,243.7 L189.8,241.7 L189.9,239.6 L189.9,237.5 L189.9,235.4 L190.0,233.3 L190.0,231.2 L190.0,229.2 L190.1,227.1 L190.1,225.0 L190.1,222.9 L190.2,220.8 L190.2,218.8 L190.2,216.7 L190.3,214.6 L190.3,212.5 L190.3,210.4 L190.4,208.3 L190.4,206.2 L190.4,204.2 L190.5,202.1 L190.5,200.0 L190.5,197.9 L190.6,195.8 L190.6,193.8 L190.6,191.7 L190.7,189.6 L190.7,187.5 L190.7,185.4 L190.8,183.3 L190.8,181.2 L190.8,179.2 L190.9,177.1 L190.9,175.0 L190.9,172.9 L191.0,170.8 L191.0,168.8 L191.0,166.7 L191.1,164.6 L191.1,162.5 L191.1,160.4 L191.2,158.3 L191.2,156.2 L191.2,154.1 L191.3,152.1 L191.3,150.0 L191.3,148.0 L191.4,146.0 L191.4,144.0 L191.5,142.0 L191.5,140.0 L191.6,138.0 L191.6,136.0 L191.6,134.0 L191.7,132.0 L191.7,130.0 L191.8,128.0 L191.8,126.0 L191.9,124.0 L191.9,122.0 L191.9,120.0 L192.0,118.0 L192.0,116.0 L192.1,114.0 L192.1,112.0 L192.2,110.0 L192.2,108.0 L192.3,106.0 L192.3,104.0 L192.3,102.0 L192.4,100.0 L192.4,98.0 L192.5,96.0 L192.5,94.0 L192.5,92.0 L192.6,90.0 L192.6,87.8 L192.6,85.4 L192.5,83.0 L192.6,80.7 L192.7,78.7 L193.0,77.0 L193.2,76.2 L193.5,75.4 L193.8,74.8 L194.1,74.2 L194.5,73.7 L195.0,73.3 L195.6,73.0 L196.4,72.9 L197.2,72.9 L198.1,72.9 L199.0,73.0 L200.0,73.0 L201.8,73.0 L203.7,73.0 L205.9,73.0 L208.1,73.0 L210.4,73.0 L212.5,73.0 L214.6,73.0 L216.7,73.0 L218.8,73.0 L220.8,73.0 L222.9,73.0 L225.0,73.0 L227.1,73.0 L229.2,73.0 L231.2,73.0 L233.3,73.0 L235.4,73.0 L237.5,73.0 L239.6,73.0 L241.7,73.0 L243.8,73.0 L245.8,73.0 L247.9,73.0 L250.0,73.0 L252.1,73.0 L254.2,73.0 L256.2,73.0 L258.3,73.0 L260.4,73.0 L262.5,73.0 L264.6,73.0 L266.7,73.0 L268.8,73.0 L270.8,73.0 L272.9,73.0 L275.0,73.0 L277.1,73.0 L279.2,73.0 L281.2,73.0 L283.3,73.0 L285.4,73.0 L287.5,73.0 L289.6,73.0 L291.7,73.0 L293.7,73.0 L295.8,73.0 L297.9,73.0 L300.0,73.0 L302.1,73.0 L304.2,73.0 L306.4,73.0 L308.5,73.0 L310.6,73.0 L312.7,73.0 L314.9,73.0 L317.0,73.0 L319.1,73.0 L321.2,73.0 L323.3,73.0 L325.5,73.0 L327.6,73.0 L329.7,73.0 L331.8,73.0 L333.9,73.0 L336.1,73.0 L338.2,73.0 L340.3,73.0 L342.4,73.0 L344.6,73.0 L346.7,73.0 L348.8,73.0 L350.9,73.0 L353.0,73.0 L355.2,73.0 L357.3,73.0 L359.4,73.0 L361.5,73.0 L363.7,73.0 L365.8,73.0 L367.9,73.0 L370.0,73.0 L372.1,73.0 L374.3,73.0 L376.4,73.0 L378.5,73.0 L380.6,73.0 L382.8,73.0 L384.9,73.0 L387.0,73.0 L389.1,73.0 L391.2,73.0 L393.4,73.0 L395.5,73.0 L397.6,73.0 L399.7,73.0 L401.8,73.0 L404.0,73.0 L406.1,73.0 L408.2,73.0 L410.3,73.0 L412.5,73.0 L414.6,73.0 L416.7,73.0 L418.8,73.0 L420.9,73.0 L423.1,73.0 L425.2,73.0 L427.3,73.0 L429.4,73.0 L431.6,73.0 L433.7,73.0 L435.8,73.0 L437.9,73.0 L440.0,73.0 L442.2,73.0 L444.3,73.0 L446.4,73.0 L448.5,73.0 L450.6,73.0 L452.8,73.0 L455.0,73.0 L457.4,72.9 L459.8,72.8 L462.1,72.8 L464.0,72.8 L465.5,73.0 L466.0,73.1 L466.4,73.2 L466.7,73.4 L467.1,73.5 L467.3,73.7 L467.6,74.0 L467.9,74.4 L468.1,75.0 L468.3,75.6 L468.5,76.3 L468.6,77.1 L468.8,78.0 L469.2,80.9 L469.5,84.7 L469.8,89.1 L470.0,93.6 L470.2,98.0 L470.4,101.7 L470.5,103.9 L470.6,106.0 L470.7,108.0 L470.8,109.9 L470.9,111.8 L470.9,113.8 L471.0,115.8 L471.1,117.8 L471.2,119.8 L471.3,121.8 L471.4,123.8 L471.5,125.8 L471.6,127.9 L471.7,129.9 L471.8,131.9 L471.9,133.9 L472.0,135.9 L472.0,137.9 L472.1,139.9 L472.2,141.9 L472.3,143.9 L472.4,145.9 L472.5,147.9 L472.6,150.0 L472.7,152.4 L472.9,154.9 L473.0,157.4 L473.1,159.9 L473.3,162.5 L473.4,165.0 L473.5,167.5 L473.7,170.1 L473.8,172.6 L473.9,175.1 L474.1,177.6 L474.2,180.0 L474.3,182.1 L474.4,184.2 L474.5,186.3 L474.6,188.4 L474.7,190.4 L474.8,192.5 L474.8,194.5 L474.9,196.6 L475.0,198.7 L475.1,200.8 L475.2,202.9 L475.3,204.9 L475.4,207.0 L475.5,209.1 L475.6,211.2 L475.7,213.2 L475.8,215.3 L475.9,217.4 L475.9,219.5 L476.0,221.6 L476.1,223.6 L476.2,225.7 L476.3,227.8 L476.4,229.9 L476.5,231.9 L476.6,234.0 L476.7,236.1 L476.8,238.2 L476.9,240.3 L476.9,242.3 L477.0,244.4 L477.1,246.5 L477.2,248.5 L477.3,250.6 L477.4,252.7 L477.5,254.8 L477.6,257.1 L477.7,259.4 L477.8,261.7 L477.9,264.0 L478.1,266.4 L478.2,268.7 L478.3,271.0 L478.4,273.3 L478.5,275.6 L478.6,278.0 L478.7,280.3 L478.8,282.6 L478.9,284.9 L479.0,287.1 L479.1,289.4 L479.2,291.6 L479.3,294.0 L479.5,296.5 L479.8,299.9 L480.2,303.5 L480.6,307.2 L481.1,311.0 L481.5,314.6 L482.0,318.0 L482.4,320.7 L482.7,323.4 L483.1,326.0 L483.5,328.5 L484.0,330.9 L484.5,333.0 L484.9,334.5 L485.4,336.1 L485.9,337.6 L486.5,338.8 L487.0,339.7 L487.5,340.0 L488.0,339.7 L488.5,338.8 L489.0,337.5 L489.5,336.1 L490.0,334.5 L490.5,333.0 L491.2,330.9 L491.9,328.5 L492.7,325.9 L493.4,323.3 L494.0,320.8 L494.7,318.5 L495.2,316.8 L495.7,315.2 L496.2,313.7 L496.6,312.2 L497.1,310.6 L497.5,309.0 L497.9,307.1 L498.3,305.1 L498.7,303.0 L499.0,301.0 L499.4,298.9 L499.8,296.9 L500.1,294.8 L500.5,292.8 L500.9,290.8 L501.2,288.8 L501.6,286.7 L502.0,284.7 L502.4,282.6 L502.8,280.6 L503.2,278.5 L503.6,276.4 L503.9,274.3 L504.3,272.2 L504.7,270.2 L505.1,268.1 L505.5,266.0 L505.9,263.9 L506.3,261.8 L506.7,259.8 L507.1,257.7 L507.4,255.6 L507.8,253.6 L508.2,251.5 L508.6,249.4 L509.0,247.3 L509.4,245.0 L509.8,242.7 L510.2,240.3 L510.7,237.9 L511.1,235.5 L511.5,233.2 L511.9,230.8 L512.3,228.3 L512.6,225.9 L513.0,223.5 L513.5,221.2 L514.0,219.0 L514.5,217.2 L515.0,215.4 L515.5,213.7 L516.1,212.1 L516.8,210.7 L517.5,209.5 L518.0,208.9 L518.5,208.3 L519.1,207.7 L519.7,207.3 L520.3,207.1 L520.8,207.0 L521.4,207.1 L521.9,207.5 L522.4,208.0 L523.0,208.6 L523.5,209.3 L524.0,210.0 L524.6,211.0 L525.3,212.0 L525.8,213.2 L526.4,214.5 L527.0,215.9 L527.6,217.4 L528.6,220.5 L529.7,224.1 L530.8,228.1 L531.9,232.2 L533.0,236.2 L534.3,239.8 L535.4,242.6 L536.5,245.5 L537.7,248.2 L538.9,250.7 L540.3,252.9 L541.8,254.8 L543.1,255.9 L544.6,256.7 L546.1,257.3 L547.7,257.9 L549.2,258.5 L550.7,259.3 L552.3,260.3 L553.9,261.4 L555.4,262.5 L557.0,263.7 L558.4,265.1 L559.7,266.7 L561.2,269.2 L562.5,272.0 L563.6,275.1 L564.6,278.4 L565.6,281.6 L566.5,284.7 L567.3,287.5 L568.0,290.3 L568.6,293.0 L569.2,295.8 L569.7,298.6 L570.4,301.4 L571.0,304.2 L571.7,307.0 L572.3,309.8 L573.0,312.6 L573.6,315.4 L574.2,318.0 L574.6,320.1 L575.0,322.1 L575.4,324.1 L575.8,326.1 L576.2,328.0 L576.7,330.0 L577.3,332.1 L578.0,334.1 L578.7,336.2 L579.4,338.2 L580.1,340.3 L580.9,342.4 L581.5,344.4 L582.2,346.5 L582.9,348.6 L583.6,350.6 L584.3,352.7 L585.0,354.7 L585.7,356.7 L586.3,358.6 L587.0,360.5 L587.7,362.4 L588.3,364.4 L589.0,366.3 L589.7,368.2 L590.3,370.2 L591.0,372.1 L591.7,374.0 L592.3,376.0 L593.0,377.9 L593.7,379.8 L594.3,381.8 L595.0,383.7 L595.6,385.6 L596.3,387.6 L597.0,389.5 L597.7,391.4 L598.5,393.4 L599.3,395.3 L600.1,397.3 L600.9,399.2 L601.7,401.1 L602.4,403.1 L603.2,405.0 L604.0,406.9 L604.8,408.9 L605.6,410.8 L606.3,412.8 L607.1,414.7 L607.9,416.7 L608.6,418.7 L609.4,420.7 L610.2,422.6 L611.0,424.4 L611.8,426.0 L612.6,427.5 L613.4,429.0 L614.2,430.4 L615.1,431.7 L616.0,433.0 L616.8,434.1 L617.7,435.2 L618.7,436.3 L619.6,437.2 L620.5,437.9 L621.4,438.4 L622.0,438.5 L622.6,438.5 L623.2,438.4 L623.8,438.3 L624.4,438.1 L625.0,438.0 L625.7,437.9 L626.5,437.7 L627.3,437.5 L628.0,437.3 L628.8,437.3 L629.5,437.5 L630.5,438.2 L631.4,439.2 L632.3,440.5 L633.2,441.9 L634.1,443.5 L635.0,445.0 L636.1,447.1 L637.2,449.4 L638.3,451.9 L639.3,454.5 L640.4,457.0 L641.5,459.5 L642.7,462.0 L643.9,464.6 L645.1,467.1 L646.3,469.6 L647.5,471.9 L648.7,473.8 L649.4,474.9 L650.1,475.9 L650.8,476.8 L651.5,477.6 L652.3,478.3 L653.0,479.0 L653.6,479.5 L654.3,480.0 L654.9,480.4 L655.5,480.8 L656.2,481.0 L656.8,481.0 L657.4,480.8 L658.1,480.5 L658.7,480.0 L659.4,479.4 L659.9,478.7 L660.5,478.0 L661.2,476.8 L661.9,475.3 L662.5,473.7 L663.0,471.9 L663.5,470.1 L664.0,468.4 L664.4,466.5 L664.8,464.5 L665.0,462.5 L665.3,460.5 L665.5,458.4 L665.8,456.4 L666.1,454.4 L666.4,452.4 L666.7,450.4 L667.0,448.5 L667.3,446.5 L667.6,444.5 L667.9,442.5 L668.2,440.5 L668.5,438.6 L668.8,436.6 L669.1,434.6 L669.4,432.5 L669.7,430.1 L669.9,427.6 L670.2,425.1 L670.4,422.6 L670.6,420.1 L670.9,417.6 L671.1,415.1 L671.4,412.6 L671.6,410.1 L671.8,407.6 L672.1,405.1 L672.3,402.6 L672.6,400.1 L672.8,397.7 L673.1,395.2 L673.3,392.7 L673.6,390.2 L673.8,387.7 L674.0,385.2 L674.2,382.7 L674.4,380.2 L674.6,377.7 L674.8,375.2 L675.0,372.7 L675.2,370.2 L675.4,367.7 L675.6,365.2 L675.8,362.8 L676.0,360.3 L676.2,357.8 L676.4,355.3 L676.6,352.7 L676.8,350.2 L677.0,347.7 L677.2,345.2 L677.4,342.8 L677.6,340.5 L677.9,338.3 L678.2,336.1 L678.5,333.8 L678.8,331.6 L679.0,329.4 L679.3,327.1 L679.6,324.8 L679.8,322.5 L680.1,320.3 L680.4,318.1 L680.7,316.0 L681.0,314.2 L681.4,312.2 L681.8,310.3 L682.2,308.6 L682.6,307.5 L683.0,307.0 L683.3,307.2 L683.7,307.6 L684.0,308.3 L684.4,309.2 L684.7,310.1 L685.0,311.0 L685.4,312.4 L685.8,314.0 L686.2,315.7 L686.5,317.5 L686.9,319.4 L687.3,321.3 L687.9,324.1 L688.5,327.2 L689.1,330.4 L689.7,333.6 L690.3,336.5 L691.0,339.0 L691.4,340.3 L691.8,341.6 L692.1,342.8 L692.5,343.8 L693.0,344.8 L693.6,345.5 L694.1,345.9 L694.6,346.2 L695.2,346.4 L695.8,346.6 L696.4,346.8 L697.0,347.0 L697.6,347.3 L698.2,347.5 L698.9,347.8 L699.5,348.1 L700.1,348.5 L700.8,349.0 L701.9,350.0 L703.2,351.2 L704.5,352.6 L705.8,354.1 L706.9,355.6 L708.0,357.0 L708.8,358.2 L709.5,359.4 L710.2,360.5 L710.8,361.7 L711.4,362.9 L712.0,364.0 L712.5,365.1 L713.1,366.4 L713.6,367.6 L714.1,368.7 L714.6,369.4 L715.0,369.7 L715.3,369.5 L715.6,369.0 L715.8,368.3 L716.0,367.6 L716.3,366.7 L716.5,366.0 L716.8,365.1 L717.1,364.0 L717.4,362.8 L717.7,361.8 L718.0,361.1 L718.3,360.8 L718.6,361.0 L719.0,361.7 L719.4,362.6 L719.8,363.7 L720.1,364.9 L720.5,366.0 L721.0,367.5 L721.4,369.2 L721.8,371.0 L722.2,372.9 L722.6,374.9 L723.0,377.0 L723.6,379.9 L724.3,383.1 L724.9,386.5 L725.6,389.9 L726.2,393.3 L726.8,396.7 L727.3,400.1 L727.7,403.7 L728.1,407.2 L728.5,410.6 L729.0,413.7 L729.5,416.4 L729.9,417.7 L730.2,419.0 L730.6,420.1 L731.1,421.1 L731.5,422.1 L732.0,423.0 L732.4,423.7 L732.9,424.4 L733.3,424.9 L733.8,425.5 L734.3,426.2 L734.9,427.0 L736.1,428.7 L737.6,430.8 L739.2,433.1 L740.8,435.4 L742.4,437.7 L743.8,439.7 L744.7,441.2 L745.6,442.8 L746.4,444.3 L747.3,445.7 L748.1,446.9 L749.0,447.8 L749.6,448.3 L750.3,448.6 L751.0,448.9 L751.7,449.1 L752.3,449.3 L753.0,449.5 L753.6,449.7 L754.2,449.8 L754.8,449.9 L755.3,450.0 L755.9,450.2 L756.4,450.5 L757.0,450.9 L757.5,451.4 L758.1,452.0 L758.6,452.6 L759.1,453.3 L759.5,454.0 L760.0,454.8 L760.4,455.7 L760.7,456.6 L761.1,457.6 L761.4,458.5 L761.8,459.5 L762.2,460.5 L762.6,461.5 L762.9,462.6 L763.3,463.7 L763.7,464.8 L764.0,466.0 L764.4,467.7 L764.8,469.5 L765.1,471.3 L765.5,473.3 L765.9,475.3 L766.3,477.4 L766.9,480.1 L767.7,483.1 L768.4,486.1 L769.2,489.2 L769.9,492.2 L770.6,495.0 L771.1,497.3 L771.6,499.5 L772.1,501.7 L772.5,503.9 L773.0,506.0 L773.5,508.2 L773.9,510.4 L774.3,512.6 L774.8,514.8 L775.2,517.0 L775.7,519.2 L776.3,521.4 L776.9,523.5 L777.6,525.6 L778.3,527.7 L779.0,529.8 L779.8,531.9 L780.5,534.0 L781.2,536.0 L781.8,538.1 L782.4,540.1 L783.0,542.2 L783.8,544.3 L784.7,546.5 L786.1,549.6 L787.8,553.0 L789.6,556.4 L791.6,559.8 L793.7,563.1 L795.9,566.0 L798.0,568.4 L800.2,570.8 L802.5,572.9 L804.9,575.0 L807.4,576.9 L809.8,578.6 L812.1,580.1 L814.5,581.5 L816.9,582.7 L819.3,583.9 L821.6,584.8 L823.8,585.6 L825.4,586.0 L826.9,586.3 L828.5,586.6 L829.9,586.7 L831.5,586.8 L833.0,587.0 L834.7,587.2 L836.4,587.3 L838.1,587.4 L839.9,587.5 L841.6,587.7 L843.3,587.9 L844.9,588.2 L846.6,588.7 L848.2,589.1 L849.8,589.6 L851.4,590.1 L853.0,590.5 L854.6,590.9 L856.2,591.3 L857.8,591.6 L859.4,592.0 L861.1,592.3 L862.9,592.6 L865.5,593.0 L868.3,593.3 L871.3,593.7 L874.2,594.0 L877.2,594.2 L880.0,594.5 L882.4,594.7 L884.8,594.9 L887.1,595.0 L889.4,595.1 L891.7,595.3 L894.0,595.4" fill="none" stroke="#0000ff" stroke-width="8" stroke-linejoin="round" stroke-linecap="butt" clip-path="url(#ca)"/>
<path d="M171.0,583.0 L172.0,582.5 L173.0,582.1 L174.1,581.6 L175.1,581.1 L176.1,580.6 L177.0,580.0 L177.9,579.3 L178.8,578.6 L179.7,577.8 L180.5,576.9 L181.3,576.0 L182.0,575.0 L182.7,573.7 L183.3,572.4 L183.8,570.9 L184.2,569.3 L184.6,567.7 L185.0,566.0 L185.5,563.6 L185.9,561.0 L186.2,558.3 L186.5,555.5 L186.8,552.7 L187.0,550.0 L187.2,547.5 L187.3,545.1 L187.3,542.6 L187.4,540.2 L187.4,537.8 L187.5,535.3 L187.6,532.9 L187.7,530.4 L187.8,528.0 L187.8,525.6 L187.9,523.1 L188.0,520.7 L188.1,518.2 L188.2,515.7 L188.3,513.3 L188.3,510.8 L188.4,508.4 L188.5,506.0 L188.6,503.8 L188.6,501.5 L188.7,499.4 L188.7,497.2 L188.8,495.0 L188.8,492.8 L188.8,490.6 L188.9,488.4 L188.9,486.2 L189.0,484.0 L189.1,481.8 L189.1,479.6 L189.1,477.4 L189.2,475.2 L189.2,473.0 L189.3,470.8 L189.3,468.6 L189.4,466.4 L189.4,464.2 L189.5,462.0 L189.6,459.8 L189.6,457.6 L189.6,455.4 L189.7,453.2 L189.7,451.0 L189.8,448.8 L189.8,446.6 L189.9,444.4 L189.9,442.2 L190.0,440.0 L190.1,437.9 L190.1,435.8 L190.2,433.7 L190.2,431.7 L190.3,429.6 L190.4,427.5 L190.4,425.4 L190.5,423.3 L190.6,421.2 L190.6,419.2 L190.7,417.1 L190.8,415.0 L190.8,412.9 L190.9,410.8 L190.9,408.8 L191.0,406.7 L191.1,404.6 L191.1,402.5 L191.2,400.4 L191.2,398.3 L191.3,396.2 L191.4,394.2 L191.4,392.1 L191.5,390.0 L191.6,387.9 L191.6,385.8 L191.7,383.8 L191.8,381.7 L191.8,379.6 L191.9,377.5 L191.9,375.4 L192.0,373.3 L192.1,371.2 L192.1,369.2 L192.2,367.1 L192.2,365.0 L192.3,362.9 L192.4,360.8 L192.4,358.8 L192.5,356.7 L192.6,354.6 L192.6,352.5 L192.7,350.4 L192.8,348.3 L192.8,346.3 L192.9,344.2 L192.9,342.1 L193.0,340.0 L193.1,337.9 L193.1,335.7 L193.1,333.6 L193.2,331.4 L193.2,329.3 L193.3,327.1 L193.3,325.0 L193.4,322.9 L193.4,320.7 L193.5,318.6 L193.5,316.4 L193.6,314.3 L193.6,312.1 L193.7,310.0 L193.7,307.9 L193.8,305.7 L193.8,303.6 L193.9,301.4 L193.9,299.3 L194.0,297.1 L194.0,295.0 L194.0,292.9 L194.1,290.7 L194.1,288.6 L194.2,286.4 L194.2,284.3 L194.3,282.1 L194.3,280.0 L194.4,277.9 L194.4,275.7 L194.5,273.6 L194.5,271.4 L194.6,269.3 L194.6,267.1 L194.7,265.0 L194.7,262.9 L194.8,260.7 L194.8,258.6 L194.9,256.4 L194.9,254.3 L194.9,252.2 L195.0,250.0 L195.1,247.8 L195.1,245.6 L195.2,243.3 L195.2,241.1 L195.3,238.9 L195.3,236.7 L195.4,234.4 L195.4,232.2 L195.5,230.0 L195.6,227.8 L195.6,225.6 L195.7,223.3 L195.7,221.1 L195.8,218.9 L195.8,216.7 L195.9,214.4 L195.9,212.2 L196.0,210.0 L196.1,207.8 L196.1,205.6 L196.2,203.3 L196.2,201.1 L196.3,198.9 L196.3,196.7 L196.4,194.4 L196.4,192.2 L196.5,190.0 L196.6,187.8 L196.6,185.6 L196.7,183.3 L196.7,181.1 L196.8,178.9 L196.8,176.6 L196.9,174.4 L196.9,172.2 L197.0,170.0 L197.1,168.0 L197.1,166.0 L197.2,164.0 L197.3,162.0 L197.3,160.0 L197.4,158.0 L197.5,156.0 L197.5,154.0 L197.6,152.0 L197.7,150.0 L197.7,148.0 L197.8,146.0 L197.9,144.0 L197.9,142.0 L198.0,140.0 L198.1,138.0 L198.1,136.0 L198.2,134.0 L198.3,132.0 L198.3,130.0 L198.4,128.0 L198.5,126.0 L198.5,124.0 L198.6,122.0 L198.7,120.0 L198.7,118.0 L198.8,116.1 L198.8,114.1 L198.9,112.1 L199.0,110.0 L199.1,107.6 L199.2,105.0 L199.4,102.4 L199.5,99.8 L199.7,97.3 L200.0,95.0 L200.2,93.3 L200.5,91.7 L200.7,90.1 L201.0,88.6 L201.5,87.2 L202.0,86.0 L202.5,85.2 L203.1,84.4 L203.8,83.7 L204.5,83.1 L205.2,82.5 L206.0,82.0 L206.9,81.5 L207.8,81.0 L208.8,80.6 L209.9,80.2 L210.9,79.9 L212.0,79.5 L213.2,79.1 L214.5,78.6 L215.8,78.2 L217.1,77.8 L218.5,77.4 L220.0,77.0 L222.2,76.5 L224.6,75.9 L227.2,75.4 L229.8,74.9 L232.4,74.4 L235.0,74.0 L237.5,73.6 L240.0,73.2 L242.5,72.8 L245.0,72.5 L247.5,72.2 L250.0,72.0 L252.5,71.8 L255.1,71.7 L257.7,71.5 L260.2,71.5 L262.7,71.5 L265.0,71.5 L266.8,71.6 L268.5,71.8 L270.1,72.0 L271.7,72.2 L273.4,72.3 L275.0,72.5 L276.7,72.6 L278.3,72.7 L279.9,72.8 L281.6,72.9 L283.3,72.9 L285.0,73.0 L287.1,73.0 L289.2,73.0 L291.4,73.0 L293.5,73.0 L295.7,73.0 L297.9,73.0 L300.1,73.0 L302.2,73.0 L304.4,73.0 L306.5,73.0 L308.7,73.0 L310.8,73.0 L313.0,73.0 L315.1,73.0 L317.3,73.0 L319.4,73.0 L321.6,73.0 L323.8,73.0 L325.9,73.0 L328.1,73.0 L330.2,73.0 L332.4,73.0 L334.5,73.0 L336.7,73.0 L338.8,73.0 L341.0,73.0 L343.1,73.0 L345.3,73.0 L347.4,73.0 L349.6,73.0 L351.7,73.0 L353.9,73.0 L356.0,73.0 L358.2,73.0 L360.3,73.0 L362.5,73.0 L364.7,73.0 L366.8,73.0 L369.0,73.0 L371.1,73.0 L373.3,73.0 L375.4,73.0 L377.6,73.0 L379.7,73.0 L381.9,73.0 L384.0,73.0 L386.2,73.0 L388.3,73.0 L390.5,73.0 L392.6,73.0 L394.8,73.0 L396.9,73.0 L399.1,73.0 L401.2,73.0 L403.4,73.0 L405.6,73.0 L407.7,73.0 L409.9,73.0 L412.0,73.0 L414.2,73.0 L416.3,73.0 L418.5,73.0 L420.6,73.0 L422.8,73.0 L424.9,73.0 L427.1,73.0 L429.3,73.0 L431.5,73.0 L433.7,73.0 L435.9,72.9 L438.0,73.0 L440.0,73.0 L441.5,73.0 L442.9,73.0 L444.3,73.1 L445.6,73.1 L446.8,73.3 L448.0,73.5 L448.9,73.8 L449.8,74.1 L450.7,74.5 L451.5,74.9 L452.3,75.4 L453.0,76.0 L453.7,76.7 L454.3,77.4 L454.9,78.3 L455.5,79.1 L456.0,80.0 L456.5,81.0 L457.1,82.2 L457.6,83.4 L458.1,84.7 L458.6,86.0 L459.0,87.4 L459.4,88.8 L459.8,90.5 L460.1,92.3 L460.4,94.2 L460.6,96.1 L460.8,98.0 L461.0,100.0 L461.2,102.2 L461.4,104.4 L461.5,106.6 L461.7,108.8 L461.8,111.1 L462.0,113.3 L462.1,115.6 L462.3,117.8 L462.5,120.0 L462.6,122.2 L462.8,124.4 L462.9,126.7 L463.1,128.9 L463.3,131.1 L463.4,133.3 L463.6,135.6 L463.8,137.8 L463.9,140.0 L464.0,142.2 L464.1,144.3 L464.1,146.5 L464.2,148.7 L464.3,150.8 L464.3,153.0 L464.4,155.2 L464.5,157.3 L464.5,159.5 L464.6,161.7 L464.7,163.8 L464.8,166.0 L464.8,168.2 L464.9,170.3 L465.0,172.5 L465.1,174.7 L465.1,176.8 L465.2,179.0 L465.3,181.2 L465.3,183.3 L465.4,185.5 L465.5,187.7 L465.6,189.8 L465.6,192.0 L465.7,194.2 L465.8,196.3 L465.9,198.5 L465.9,200.7 L466.0,202.8 L466.1,205.0 L466.1,207.2 L466.2,209.3 L466.3,211.4 L466.4,213.6 L466.4,215.8 L466.5,218.0 L466.6,220.6 L466.6,223.2 L466.6,225.9 L466.7,228.6 L466.7,231.3 L466.8,234.0 L466.8,236.7 L466.8,239.4 L466.9,242.1 L466.9,244.8 L467.0,247.4 L467.0,250.0 L467.0,252.3 L467.1,254.5 L467.1,256.7 L467.2,258.9 L467.2,261.1 L467.3,263.3 L467.3,265.5 L467.4,267.7 L467.4,269.9 L467.5,272.1 L467.5,274.4 L467.6,276.6 L467.6,278.8 L467.7,281.0 L467.7,283.2 L467.8,285.4 L467.8,287.6 L467.9,289.9 L467.9,292.1 L468.0,294.3 L468.0,296.5 L468.0,298.7 L468.1,300.9 L468.1,303.1 L468.2,305.4 L468.2,307.6 L468.3,309.8 L468.3,312.0 L468.4,314.2 L468.4,316.4 L468.5,318.6 L468.5,320.9 L468.6,323.1 L468.6,325.3 L468.7,327.5 L468.7,329.7 L468.8,331.9 L468.8,334.1 L468.8,336.4 L468.9,338.6 L468.9,340.8 L469.0,343.0 L469.1,345.2 L469.2,347.3 L469.3,349.5 L469.5,351.7 L469.6,353.8 L469.8,356.0 L469.9,358.2 L470.0,360.3 L470.1,362.5 L470.3,364.7 L470.4,366.8 L470.5,369.0 L470.6,371.2 L470.8,373.3 L470.9,375.5 L471.0,377.7 L471.1,379.8 L471.2,382.0 L471.4,384.2 L471.5,386.3 L471.6,388.5 L471.7,390.6 L471.9,392.8 L472.0,395.0 L472.2,397.3 L472.3,399.5 L472.5,401.8 L472.7,404.1 L472.8,406.4 L473.0,408.7 L473.2,410.9 L473.3,413.2 L473.5,415.5 L473.7,417.8 L473.8,420.1 L474.0,422.3 L474.2,424.6 L474.3,426.8 L474.5,429.1 L474.6,431.3 L474.8,433.6 L475.0,436.0 L475.3,438.8 L475.6,441.7 L475.9,444.6 L476.3,447.6 L476.7,450.6 L477.0,453.5 L477.3,456.5 L477.5,459.5 L477.8,462.5 L478.1,465.5 L478.5,468.3 L479.0,471.0 L479.5,473.1 L480.1,475.1 L480.7,477.0 L481.4,478.8 L482.2,480.5 L483.0,482.0 L483.7,483.1 L484.5,484.3 L485.3,485.3 L486.1,486.2 L486.9,486.8 L487.7,487.0 L488.4,486.8 L489.2,486.1 L489.9,485.2 L490.6,484.2 L491.3,483.1 L492.0,482.0 L492.9,480.7 L493.7,479.3 L494.6,477.8 L495.4,476.2 L496.2,474.6 L497.0,473.0 L497.9,471.0 L498.8,469.0 L499.6,466.8 L500.5,464.7 L501.3,462.5 L502.2,460.4 L503.1,458.3 L503.9,456.2 L504.7,454.2 L505.6,452.1 L506.5,449.9 L507.4,447.7 L508.6,444.8 L509.9,441.6 L511.2,438.4 L512.5,435.2 L513.8,432.4 L515.0,430.0 L515.7,428.8 L516.3,427.7 L517.0,426.8 L517.6,425.9 L518.3,425.1 L519.0,424.5 L519.6,424.1 L520.2,423.7 L520.8,423.4 L521.4,423.1 L522.0,423.0 L522.6,423.0 L523.3,423.2 L524.0,423.5 L524.7,424.0 L525.5,424.6 L526.2,425.3 L527.0,426.0 L528.2,427.4 L529.5,429.1 L530.8,430.9 L532.2,432.8 L533.6,434.6 L535.0,436.0 L536.3,436.9 L537.6,437.7 L538.9,438.3 L540.3,438.9 L541.6,439.4 L543.0,440.0 L544.4,440.6 L545.9,441.1 L547.4,441.5 L548.8,442.0 L550.2,442.5 L551.6,443.0 L552.8,443.5 L553.9,444.0 L555.0,444.4 L556.0,444.9 L557.0,445.5 L558.0,446.0 L558.7,446.4 L559.4,446.9 L560.1,447.3 L560.7,447.8 L561.3,448.4 L562.0,449.0 L563.0,450.1 L564.0,451.3 L564.9,452.6 L566.0,454.0 L567.0,455.5 L568.0,457.0 L569.3,458.9 L570.6,461.0 L572.0,463.2 L573.3,465.4 L574.7,467.6 L576.0,469.8 L577.3,471.9 L578.5,474.0 L579.8,476.1 L581.1,478.2 L582.5,480.4 L584.0,482.6 L586.1,485.4 L588.3,488.3 L590.7,491.2 L593.2,494.1 L595.6,497.1 L598.0,500.0 L600.3,502.9 L602.6,505.8 L605.0,508.8 L607.3,511.6 L609.6,514.4 L612.0,517.0 L614.1,519.2 L616.3,521.3 L618.5,523.2 L620.7,525.2 L622.9,527.1 L625.0,529.0 L627.0,530.8 L628.9,532.6 L630.9,534.4 L632.8,536.1 L634.8,537.8 L636.8,539.6 L639.1,541.6 L641.5,543.6 L643.9,545.7 L646.3,547.7 L648.6,549.4 L650.7,550.7 L651.9,551.3 L652.9,551.8 L654.0,552.2 L655.0,552.5 L656.0,552.8 L657.0,553.0 L657.8,553.2 L658.7,553.4 L659.5,553.5 L660.3,553.6 L661.1,553.6 L661.9,553.5 L662.8,553.3 L663.6,553.0 L664.5,552.6 L665.4,552.1 L666.2,551.5 L667.0,551.0 L667.8,550.4 L668.6,549.7 L669.4,549.0 L670.1,548.2 L670.9,547.3 L671.6,546.5 L672.4,545.5 L673.1,544.4 L673.9,543.3 L674.6,542.2 L675.3,541.1 L676.0,540.0 L676.7,539.0 L677.4,537.9 L678.0,536.8 L678.7,535.8 L679.3,534.9 L680.0,534.0 L680.5,533.4 L681.0,532.8 L681.4,532.3 L681.9,531.8 L682.4,531.4 L683.0,531.0 L683.6,530.7 L684.2,530.4 L684.9,530.2 L685.5,530.0 L686.3,529.9 L687.0,529.8 L688.0,529.8 L689.2,529.9 L690.4,530.0 L691.6,530.2 L692.8,530.4 L694.0,530.5 L695.2,530.6 L696.3,530.7 L697.5,530.7 L698.7,530.8 L699.8,530.9 L701.0,531.0 L702.2,531.1 L703.4,531.3 L704.6,531.5 L705.7,531.6 L706.9,531.8 L708.0,532.0 L709.0,532.2 L710.0,532.5 L710.9,532.7 L711.9,532.9 L712.7,533.0 L713.5,533.0 L714.0,532.9 L714.4,532.6 L714.8,532.4 L715.2,532.1 L715.6,531.8 L716.0,531.5 L716.4,531.2 L716.8,530.8 L717.1,530.5 L717.5,530.1 L717.9,529.9 L718.3,529.8 L718.7,529.9 L719.2,530.1 L719.7,530.4 L720.1,530.7 L720.6,531.1 L721.0,531.5 L721.4,531.9 L721.8,532.2 L722.2,532.6 L722.6,533.0 L723.0,533.5 L723.3,534.0 L723.7,534.8 L724.1,535.8 L724.5,536.9 L724.8,537.9 L725.1,539.0 L725.5,540.0 L725.8,540.9 L726.1,541.8 L726.3,542.7 L726.6,543.5 L727.0,544.3 L727.5,545.0 L728.1,545.6 L728.8,546.2 L729.6,546.6 L730.4,547.1 L731.2,547.5 L732.0,548.0 L732.8,548.5 L733.5,548.9 L734.3,549.3 L735.1,549.8 L736.0,550.2 L737.0,550.7 L739.0,551.5 L741.3,552.5 L743.8,553.4 L746.4,554.3 L748.9,555.2 L751.0,556.0 L752.3,556.5 L753.6,556.9 L754.8,557.3 L755.9,557.7 L757.0,558.1 L758.0,558.5 L758.8,558.9 L759.6,559.3 L760.3,559.6 L761.0,560.0 L761.7,560.5 L762.4,561.0 L763.3,561.7 L764.3,562.5 L765.2,563.3 L766.1,564.2 L767.1,565.1 L768.0,566.0 L768.9,566.9 L769.7,567.8 L770.6,568.7 L771.4,569.7 L772.4,570.7 L773.5,571.7 L775.4,573.4 L777.6,575.3 L780.0,577.3 L782.5,579.3 L785.0,581.1 L787.5,582.8 L789.7,584.2 L792.0,585.5 L794.3,586.7 L796.6,587.8 L799.0,588.8 L801.5,589.8 L804.5,590.8 L807.7,591.6 L810.9,592.3 L814.3,592.9 L817.6,593.5 L821.0,594.0 L824.6,594.5 L828.4,594.9 L832.3,595.3 L836.0,595.6 L839.7,595.8 L843.0,596.0 L845.3,596.1 L847.5,596.1 L849.6,596.1 L851.6,596.1 L853.7,596.1 L855.8,596.1 L857.9,596.1 L860.0,596.2 L862.1,596.2 L864.2,596.2 L866.4,596.2 L868.5,596.2 L870.6,596.3 L872.8,596.3 L874.9,596.3 L877.0,596.3 L879.1,596.4 L881.2,596.4 L883.4,596.4 L885.5,596.4 L887.6,596.4 L889.8,596.5 L891.9,596.5 L894.0,596.5" fill="none" stroke="#ff0000" stroke-width="8" stroke-linejoin="round" stroke-linecap="butt" clip-path="url(#ca)"/>
<line x1="646.5" y1="89.9" x2="714.3" y2="89.9" stroke="#000000" stroke-width="7" stroke-linecap="round"/>
<text transform="translate(722.6,101.1) scale(1,1.02)" class="lg" font-size="30.2">Light Source</text>
<line x1="646.5" y1="126.7" x2="714.3" y2="126.7" stroke="#0000ff" stroke-width="7" stroke-linecap="round"/>
<text transform="translate(722.6,137.9) scale(1,1.02)" class="lg" font-size="30.2">FMNH 73067 ventral</text>
<line x1="646.5" y1="163.5" x2="714.3" y2="163.5" stroke="#ff0000" stroke-width="7" stroke-linecap="round"/>
<text transform="translate(722.6,174.7) scale(1,1.02)" class="lg" font-size="30.2">FMNH 73068 ventral</text>
<!-- spectrum -->
<rect x="412" y="764.5" width="388" height="74" fill="url(#sp)"/>
<g stroke="#fff" stroke-opacity="0.42" stroke-width="1.5" stroke-dasharray="10.5 4.7" stroke-dashoffset="-5.5"><line x1="464.2" y1="764.5" x2="464.2" y2="838.5"/><line x1="522" y1="764.5" x2="522" y2="838.5"/><line x1="577" y1="764.5" x2="577" y2="838.5"/><line x1="636" y1="764.5" x2="636" y2="838.5"/><line x1="690" y1="764.5" x2="690" y2="838.5"/><line x1="747" y1="764.5" x2="747" y2="838.5"/></g>
<!-- plot B -->
<path d="M171.0,1377.0 L172.3,1374.6 L173.7,1372.2 L175.1,1369.9 L176.5,1367.5 L177.6,1365.1 L178.6,1362.7 L179.2,1360.6 L179.7,1358.4 L180.1,1356.3 L180.4,1354.1 L180.6,1352.0 L181.0,1349.8 L181.4,1347.7 L181.9,1345.6 L182.3,1343.4 L182.7,1341.3 L183.1,1339.2 L183.4,1337.0 L183.6,1334.8 L183.8,1332.7 L183.9,1330.5 L184.0,1328.3 L184.1,1326.2 L184.3,1324.0 L184.4,1321.8 L184.6,1319.7 L184.7,1317.5 L184.8,1315.3 L185.0,1313.2 L185.1,1311.0 L185.3,1308.8 L185.4,1306.7 L185.6,1304.5 L185.7,1302.4 L185.9,1300.2 L186.0,1298.0 L186.1,1295.6 L186.2,1293.2 L186.3,1290.8 L186.4,1288.4 L186.5,1285.9 L186.6,1283.5 L186.7,1281.1 L186.8,1278.7 L186.9,1276.2 L187.0,1273.8 L187.1,1271.4 L187.2,1269.0 L187.4,1266.6 L187.5,1264.2 L187.6,1261.8 L187.7,1259.3 L187.8,1256.9 L187.9,1254.5 L188.0,1252.1 L188.1,1249.6 L188.2,1247.2 L188.3,1244.8 L188.4,1242.4 L188.5,1240.0 L188.5,1237.8 L188.6,1235.7 L188.6,1233.6 L188.6,1231.5 L188.6,1229.4 L188.6,1227.3 L188.7,1225.2 L188.7,1223.0 L188.7,1220.9 L188.7,1218.8 L188.8,1216.7 L188.8,1214.5 L188.8,1212.4 L188.8,1210.3 L188.8,1208.2 L188.9,1206.1 L188.9,1203.9 L188.9,1201.8 L188.9,1199.7 L189.0,1197.6 L189.0,1195.5 L189.0,1193.3 L189.0,1191.2 L189.0,1189.1 L189.1,1187.0 L189.1,1184.8 L189.1,1182.7 L189.1,1180.6 L189.2,1178.5 L189.2,1176.4 L189.2,1174.2 L189.2,1172.1 L189.2,1170.0 L189.3,1167.9 L189.3,1165.8 L189.3,1163.6 L189.3,1161.5 L189.4,1159.4 L189.4,1157.3 L189.4,1155.2 L189.4,1153.0 L189.5,1150.9 L189.5,1148.8 L189.5,1146.7 L189.5,1144.5 L189.5,1142.4 L189.6,1140.3 L189.6,1138.2 L189.6,1136.1 L189.6,1133.9 L189.7,1131.8 L189.7,1129.7 L189.7,1127.6 L189.7,1125.5 L189.8,1123.3 L189.8,1121.2 L189.8,1119.1 L189.8,1117.0 L189.8,1114.8 L189.9,1112.7 L189.9,1110.6 L189.9,1108.5 L189.9,1106.4 L190.0,1104.2 L190.0,1102.1 L190.0,1100.0 L190.0,1097.9 L190.0,1095.8 L190.0,1093.6 L190.1,1091.5 L190.1,1089.4 L190.1,1087.3 L190.1,1085.2 L190.1,1083.0 L190.1,1080.9 L190.2,1078.8 L190.2,1076.7 L190.2,1074.5 L190.2,1072.4 L190.2,1070.3 L190.2,1068.2 L190.2,1066.1 L190.3,1063.9 L190.3,1061.8 L190.3,1059.7 L190.3,1057.6 L190.3,1055.5 L190.3,1053.3 L190.3,1051.2 L190.4,1049.1 L190.4,1047.0 L190.4,1044.8 L190.4,1042.7 L190.4,1040.6 L190.4,1038.5 L190.5,1036.4 L190.5,1034.2 L190.5,1032.1 L190.5,1030.0 L190.5,1027.9 L190.5,1025.8 L190.5,1023.6 L190.6,1021.5 L190.6,1019.4 L190.6,1017.3 L190.6,1015.2 L190.6,1013.0 L190.6,1010.9 L190.7,1008.8 L190.7,1006.7 L190.7,1004.5 L190.7,1002.4 L190.7,1000.3 L190.7,998.2 L190.7,996.1 L190.8,993.9 L190.8,991.8 L190.8,989.7 L190.8,987.6 L190.8,985.5 L190.8,983.3 L190.8,981.2 L190.9,979.1 L190.9,977.0 L190.9,974.8 L190.9,972.7 L190.9,970.6 L190.9,968.5 L191.0,966.3 L191.0,964.2 L191.0,962.1 L191.0,960.0 L191.0,958.0 L191.0,956.0 L191.0,954.0 L191.1,952.0 L191.1,950.0 L191.1,948.0 L191.1,946.0 L191.1,944.0 L191.1,942.0 L191.2,940.0 L191.2,938.0 L191.2,936.0 L191.2,934.0 L191.2,932.0 L191.2,930.0 L191.3,928.0 L191.3,926.0 L191.3,924.0 L191.3,922.0 L191.3,920.0 L191.4,918.0 L191.4,916.0 L191.4,914.0 L191.4,912.0 L191.4,910.0 L191.4,908.0 L191.4,906.0 L191.4,904.0 L191.5,902.0 L191.5,900.0 L191.5,897.9 L191.5,895.7 L191.5,893.6 L191.6,891.5 L191.7,889.6 L192.0,888.0 L192.2,887.1 L192.5,886.4 L192.8,885.6 L193.1,885.0 L193.5,884.4 L194.0,884.0 L194.6,883.7 L195.2,883.5 L195.9,883.4 L196.7,883.4 L197.6,883.3 L198.5,883.3 L200.2,883.2 L202.2,883.2 L204.4,883.2 L206.7,883.2 L209.0,883.3 L211.2,883.3 L213.3,883.3 L215.4,883.3 L217.5,883.3 L219.6,883.3 L221.8,883.3 L223.9,883.3 L226.0,883.3 L228.1,883.3 L230.2,883.3 L232.3,883.3 L234.4,883.3 L236.6,883.3 L238.7,883.3 L240.8,883.3 L242.9,883.3 L245.0,883.3 L247.1,883.3 L249.2,883.3 L251.4,883.3 L253.5,883.3 L255.6,883.3 L257.7,883.3 L259.8,883.3 L261.9,883.3 L264.1,883.3 L266.2,883.3 L268.3,883.3 L270.4,883.3 L272.5,883.3 L274.6,883.3 L276.7,883.3 L278.9,883.3 L281.0,883.3 L283.1,883.3 L285.2,883.3 L287.3,883.3 L289.4,883.3 L291.5,883.3 L293.7,883.3 L295.8,883.3 L297.9,883.3 L300.0,883.3 L302.1,883.3 L304.2,883.3 L306.3,883.3 L308.4,883.3 L310.5,883.3 L312.6,883.3 L314.7,883.3 L316.9,883.3 L319.0,883.3 L321.1,883.3 L323.2,883.3 L325.3,883.3 L327.4,883.3 L329.5,883.3 L331.6,883.3 L333.7,883.3 L335.8,883.3 L337.9,883.3 L340.0,883.3 L342.1,883.3 L344.2,883.3 L346.3,883.3 L348.4,883.3 L350.6,883.3 L352.7,883.3 L354.8,883.3 L356.9,883.3 L359.0,883.3 L361.1,883.3 L363.2,883.3 L365.3,883.3 L367.4,883.3 L369.5,883.3 L371.6,883.3 L373.7,883.3 L375.8,883.3 L377.9,883.3 L380.0,883.3 L382.1,883.3 L384.3,883.3 L386.4,883.3 L388.5,883.3 L390.6,883.3 L392.7,883.3 L394.8,883.3 L396.9,883.3 L399.0,883.3 L401.1,883.3 L403.2,883.3 L405.3,883.3 L407.4,883.3 L409.5,883.3 L411.6,883.3 L413.7,883.3 L415.9,883.3 L418.0,883.3 L420.1,883.3 L422.2,883.3 L424.3,883.3 L426.4,883.3 L428.5,883.3 L430.6,883.3 L432.7,883.3 L434.8,883.3 L436.9,883.3 L439.0,883.3 L441.1,883.3 L443.2,883.3 L445.3,883.3 L447.4,883.3 L449.6,883.3 L451.7,883.3 L453.9,883.3 L456.3,883.2 L458.7,883.1 L460.9,883.0 L462.8,883.1 L464.3,883.3 L464.8,883.4 L465.2,883.6 L465.5,883.7 L465.8,883.9 L466.0,884.2 L466.3,884.5 L466.7,885.1 L466.9,885.9 L467.1,886.9 L467.3,887.9 L467.4,888.9 L467.6,890.0 L467.8,891.5 L467.9,893.1 L468.0,894.7 L468.1,896.5 L468.2,898.2 L468.3,900.0 L468.4,902.0 L468.5,904.1 L468.5,906.3 L468.6,908.4 L468.6,910.6 L468.7,912.7 L468.8,914.8 L468.9,917.0 L468.9,919.1 L469.0,921.2 L469.1,923.3 L469.1,925.4 L469.2,927.5 L469.3,929.7 L469.3,931.8 L469.4,933.9 L469.5,936.0 L469.5,938.1 L469.6,940.3 L469.7,942.4 L469.8,944.5 L469.8,946.6 L469.9,948.7 L470.0,950.9 L470.0,953.0 L470.1,955.1 L470.2,957.2 L470.2,959.3 L470.3,961.5 L470.4,963.6 L470.4,965.7 L470.5,967.8 L470.6,969.9 L470.6,972.0 L470.7,974.2 L470.8,976.3 L470.9,978.4 L470.9,980.5 L471.0,982.6 L471.1,984.7 L471.1,986.8 L471.2,989.0 L471.3,991.3 L471.3,993.7 L471.4,996.1 L471.4,998.4 L471.5,1000.8 L471.6,1003.2 L471.6,1005.6 L471.7,1007.9 L471.7,1010.3 L471.8,1012.7 L471.9,1015.0 L471.9,1017.4 L472.0,1019.8 L472.0,1022.1 L472.1,1024.5 L472.2,1026.9 L472.2,1029.2 L472.3,1031.6 L472.3,1034.0 L472.4,1036.3 L472.5,1038.7 L472.5,1041.1 L472.6,1043.4 L472.6,1045.8 L472.7,1048.2 L472.8,1050.6 L472.8,1053.0 L472.9,1055.3 L472.9,1057.7 L473.0,1060.0 L473.1,1062.1 L473.2,1064.2 L473.2,1066.3 L473.3,1068.4 L473.4,1070.4 L473.5,1072.5 L473.6,1074.6 L473.7,1076.7 L473.8,1078.8 L473.8,1080.8 L473.9,1082.9 L474.0,1085.0 L474.1,1087.1 L474.2,1089.2 L474.2,1091.2 L474.3,1093.3 L474.4,1095.4 L474.5,1097.5 L474.6,1099.6 L474.7,1101.6 L474.7,1103.7 L474.8,1105.8 L474.9,1107.9 L475.0,1110.0 L475.1,1112.3 L475.3,1114.7 L475.5,1117.1 L475.6,1119.5 L475.8,1121.9 L476.0,1124.3 L476.2,1126.7 L476.3,1129.1 L476.5,1131.5 L476.7,1133.9 L476.8,1136.3 L477.0,1138.7 L477.2,1141.1 L477.3,1143.5 L477.5,1145.9 L477.7,1148.3 L477.9,1150.7 L478.0,1153.0 L478.1,1155.1 L478.2,1157.2 L478.3,1159.2 L478.5,1161.3 L478.6,1163.3 L478.7,1165.3 L478.8,1167.4 L478.9,1169.4 L479.0,1171.5 L479.1,1173.6 L479.2,1175.6 L479.3,1177.7 L479.4,1179.7 L479.5,1181.7 L479.6,1183.8 L479.7,1185.8 L479.9,1187.9 L480.0,1190.0 L480.2,1192.3 L480.4,1194.6 L480.6,1196.9 L480.8,1199.3 L481.1,1201.7 L481.3,1204.0 L481.5,1206.3 L481.7,1208.7 L481.9,1211.1 L482.1,1213.4 L482.3,1215.7 L482.6,1218.0 L482.9,1220.1 L483.2,1222.3 L483.5,1224.5 L483.9,1226.5 L484.4,1228.4 L485.0,1230.0 L485.5,1231.0 L486.0,1232.0 L486.6,1232.9 L487.2,1233.6 L487.8,1234.1 L488.4,1234.4 L489.0,1234.4 L489.6,1234.1 L490.2,1233.7 L490.8,1233.2 L491.4,1232.6 L492.0,1232.0 L492.8,1231.1 L493.6,1230.1 L494.4,1228.9 L495.1,1227.7 L495.8,1226.4 L496.5,1225.0 L497.2,1223.1 L497.8,1221.1 L498.4,1218.9 L498.9,1216.7 L499.4,1214.4 L500.0,1212.2 L500.6,1210.1 L501.2,1208.0 L501.7,1205.9 L502.3,1203.8 L502.9,1201.7 L503.5,1199.5 L504.2,1197.0 L504.8,1194.5 L505.5,1192.0 L506.2,1189.4 L506.9,1186.8 L507.6,1184.2 L508.2,1181.6 L508.8,1178.9 L509.4,1176.2 L510.1,1173.6 L510.8,1171.2 L511.6,1169.0 L512.2,1167.6 L512.9,1166.2 L513.6,1165.0 L514.3,1163.8 L515.1,1162.8 L516.0,1162.0 L516.8,1161.4 L517.6,1160.9 L518.5,1160.4 L519.4,1160.1 L520.2,1160.0 L521.0,1160.0 L521.7,1160.3 L522.4,1160.8 L523.1,1161.5 L523.8,1162.3 L524.4,1163.2 L525.0,1164.0 L525.7,1165.1 L526.3,1166.2 L526.9,1167.4 L527.6,1168.8 L528.2,1170.1 L529.0,1171.6 L530.3,1174.1 L531.8,1177.0 L533.5,1180.1 L535.2,1183.1 L536.8,1185.8 L538.4,1188.0 L539.3,1189.1 L540.3,1190.0 L541.2,1190.9 L542.1,1191.6 L543.0,1192.3 L544.0,1193.0 L545.0,1193.6 L546.0,1194.1 L547.0,1194.6 L548.0,1195.0 L549.0,1195.5 L550.0,1196.0 L551.0,1196.6 L552.0,1197.2 L553.1,1197.8 L554.1,1198.5 L555.1,1199.2 L556.0,1200.0 L557.0,1200.9 L558.0,1201.9 L558.9,1203.0 L559.9,1204.1 L560.8,1205.3 L561.6,1206.5 L562.4,1207.8 L563.2,1209.1 L563.9,1210.5 L564.6,1212.0 L565.3,1213.5 L566.0,1215.0 L566.8,1216.9 L567.7,1218.9 L568.5,1221.0 L569.3,1223.2 L570.1,1225.3 L571.0,1227.4 L571.9,1229.5 L572.9,1231.7 L573.9,1233.8 L574.8,1235.9 L575.8,1238.1 L576.8,1240.2 L577.7,1242.3 L578.6,1244.5 L579.5,1246.6 L580.5,1248.7 L581.5,1250.9 L582.6,1253.0 L584.0,1255.3 L585.4,1257.7 L587.0,1260.0 L588.6,1262.3 L590.2,1264.7 L591.8,1267.0 L593.3,1269.3 L594.9,1271.7 L596.4,1274.1 L597.9,1276.4 L599.4,1278.7 L601.0,1281.0 L602.5,1283.1 L604.0,1285.1 L605.6,1287.1 L607.1,1289.0 L608.6,1291.0 L610.0,1293.0 L611.3,1295.0 L612.5,1296.9 L613.7,1298.9 L614.9,1300.9 L616.1,1302.9 L617.4,1305.0 L619.0,1307.5 L620.8,1310.2 L622.6,1312.9 L624.4,1315.6 L626.2,1318.1 L628.0,1320.5 L629.5,1322.4 L631.0,1324.1 L632.5,1325.7 L634.0,1327.4 L635.5,1329.0 L637.0,1330.7 L638.5,1332.4 L640.0,1334.2 L641.4,1336.0 L642.9,1337.7 L644.4,1339.3 L646.0,1340.8 L647.5,1342.0 L649.0,1343.0 L650.5,1344.0 L652.0,1345.0 L653.5,1345.8 L655.0,1346.5 L656.2,1347.1 L657.4,1347.6 L658.6,1348.2 L659.8,1348.5 L660.9,1348.8 L662.0,1348.8 L662.9,1348.6 L663.8,1348.3 L664.7,1347.9 L665.5,1347.3 L666.3,1346.7 L667.0,1346.0 L667.8,1345.1 L668.5,1344.0 L669.1,1342.9 L669.7,1341.6 L670.3,1340.3 L671.0,1339.0 L671.9,1337.3 L672.8,1335.6 L673.7,1333.8 L674.6,1331.9 L675.5,1330.0 L676.4,1328.2 L677.3,1326.4 L678.1,1324.6 L679.0,1322.9 L679.9,1321.1 L680.8,1319.3 L681.8,1317.4 L683.2,1315.0 L684.7,1312.4 L686.3,1309.8 L687.9,1307.2 L689.5,1304.9 L690.8,1303.0 L691.5,1302.1 L692.1,1301.2 L692.7,1300.4 L693.3,1299.7 L693.9,1299.1 L694.5,1298.5 L695.1,1298.1 L695.6,1297.6 L696.2,1297.3 L696.8,1297.0 L697.4,1296.8 L698.0,1296.8 L698.6,1297.0 L699.2,1297.3 L699.8,1297.8 L700.4,1298.3 L700.9,1298.9 L701.5,1299.5 L702.1,1300.2 L702.7,1301.0 L703.2,1301.8 L703.8,1302.6 L704.4,1303.3 L705.0,1304.0 L705.6,1304.5 L706.3,1305.0 L707.0,1305.4 L707.7,1305.8 L708.3,1306.2 L709.0,1306.5 L709.6,1306.8 L710.1,1307.1 L710.7,1307.3 L711.3,1307.5 L711.8,1307.6 L712.3,1307.6 L712.7,1307.5 L713.1,1307.3 L713.5,1307.0 L713.9,1306.7 L714.2,1306.4 L714.5,1306.0 L714.8,1305.6 L715.1,1305.1 L715.3,1304.6 L715.5,1304.1 L715.7,1303.6 L715.9,1303.0 L716.2,1302.2 L716.4,1301.4 L716.7,1300.5 L716.9,1299.6 L717.2,1298.8 L717.5,1298.0 L717.8,1297.4 L718.1,1296.7 L718.4,1296.1 L718.8,1295.6 L719.1,1295.2 L719.5,1295.0 L719.9,1295.1 L720.3,1295.4 L720.7,1295.8 L721.2,1296.4 L721.6,1296.9 L722.0,1297.5 L722.5,1298.3 L723.1,1299.1 L723.6,1300.0 L724.1,1301.0 L724.5,1302.0 L724.9,1303.0 L725.3,1304.1 L725.5,1305.2 L725.8,1306.4 L726.0,1307.6 L726.2,1308.8 L726.5,1310.0 L726.8,1311.3 L727.0,1312.6 L727.3,1313.9 L727.6,1315.2 L727.9,1316.4 L728.4,1317.4 L728.9,1318.1 L729.5,1318.8 L730.1,1319.4 L730.7,1319.9 L731.4,1320.5 L732.0,1321.0 L732.6,1321.5 L733.2,1321.9 L733.7,1322.3 L734.3,1322.7 L735.0,1323.1 L735.6,1323.7 L736.7,1324.7 L737.8,1326.0 L739.0,1327.3 L740.2,1328.7 L741.5,1330.2 L742.8,1331.8 L744.5,1333.9 L746.3,1336.2 L748.1,1338.6 L750.0,1341.1 L751.8,1343.6 L753.6,1346.0 L755.3,1348.4 L757.0,1350.8 L758.7,1353.2 L760.4,1355.6 L762.2,1358.1 L764.0,1360.5 L766.0,1363.2 L768.2,1366.0 L770.3,1368.8 L772.5,1371.6 L774.7,1374.2 L777.0,1376.7 L779.1,1378.8 L781.2,1380.9 L783.3,1382.8 L785.5,1384.7 L787.7,1386.5 L790.0,1388.3 L792.4,1390.1 L794.8,1391.8 L797.3,1393.5 L799.8,1395.2 L802.3,1396.6 L804.9,1398.0 L807.3,1399.1 L809.8,1400.2 L812.3,1401.1 L814.8,1402.0 L817.3,1402.7 L819.8,1403.3 L822.3,1403.8 L824.8,1404.1 L827.3,1404.3 L829.8,1404.5 L832.3,1404.6 L834.8,1404.8 L837.3,1405.0 L839.8,1405.1 L842.3,1405.2 L844.8,1405.3 L847.3,1405.4 L849.8,1405.5 L852.2,1405.7 L854.7,1405.8 L857.2,1405.9 L859.7,1406.1 L862.2,1406.2 L864.7,1406.3 L867.1,1406.4 L869.6,1406.5 L872.0,1406.6 L874.4,1406.7 L876.8,1406.8 L879.2,1406.9 L881.7,1407.0 L884.1,1407.1 L886.5,1407.2 L889.0,1407.3 L891.4,1407.4 L893.8,1407.5 L893.8,1409.9 L171.0,1409.9 Z" fill="#fbfbfb" stroke="none" clip-path="url(#cb)"/>
<path d="M171,827.2 V1409.9 H894" fill="none" stroke="#000" stroke-width="2.6" stroke-linejoin="miter"/>
<path d="M171,1409.9 h-11 M171,1368.3 h-5.5 M171,1326.7 h-11 M171,1285.0 h-5.5 M171,1243.4 h-11 M171,1201.8 h-5.5 M171,1160.2 h-11 M171,1118.5 h-5.5 M171,1076.9 h-11 M171,1035.3 h-5.5 M171,993.7 h-11 M171,952.1 h-5.5 M171,910.4 h-11 M171,868.8 h-5.5 M171,827.2 h-11 M171.0,1409.9 v11 M231.2,1409.9 v5.5 M291.5,1409.9 v11 M351.8,1409.9 v5.5 M412.0,1409.9 v11 M472.2,1409.9 v5.5 M532.5,1409.9 v11 M592.8,1409.9 v5.5 M653.0,1409.9 v11 M713.2,1409.9 v5.5 M773.5,1409.9 v11 M833.8,1409.9 v5.5 M894.0,1409.9 v11" fill="none" stroke="#000" stroke-width="2.6" stroke-linecap="round"/>
<text transform="translate(151.8,1418.8) scale(1,1.045)" text-anchor="end" class="tk">0</text>
<text transform="translate(151.8,1335.6) scale(1,1.045)" text-anchor="end" class="tk">10000</text>
<text transform="translate(151.8,1252.3) scale(1,1.045)" text-anchor="end" class="tk">20000</text>
<text transform="translate(151.8,1169.1) scale(1,1.045)" text-anchor="end" class="tk">30000</text>
<text transform="translate(151.8,1085.8) scale(1,1.045)" text-anchor="end" class="tk">40000</text>
<text transform="translate(151.8,1002.6) scale(1,1.045)" text-anchor="end" class="tk">50000</text>
<text transform="translate(151.8,919.3) scale(1,1.045)" text-anchor="end" class="tk">60000</text>
<text transform="translate(151.8,836.1) scale(1,1.045)" text-anchor="end" class="tk">70000</text>
<text transform="translate(171.0,1453.6) scale(1,1.04)" text-anchor="middle" class="tk">200</text>
<text transform="translate(291.5,1453.6) scale(1,1.04)" text-anchor="middle" class="tk">300</text>
<text transform="translate(412.0,1453.6) scale(1,1.04)" text-anchor="middle" class="tk">400</text>
<text transform="translate(532.5,1453.6) scale(1,1.04)" text-anchor="middle" class="tk">500</text>
<text transform="translate(653.0,1453.6) scale(1,1.04)" text-anchor="middle" class="tk">600</text>
<text transform="translate(773.5,1453.6) scale(1,1.04)" text-anchor="middle" class="tk">700</text>
<text transform="translate(894.0,1453.6) scale(1,1.04)" text-anchor="middle" class="tk">800</text>
<text x="533.3" y="1512.1" text-anchor="middle" class="ti" font-size="38.8">Wavelength (nm)</text>
<text transform="translate(32.3,1103.1) rotate(-90) scale(1,1.035)" text-anchor="middle" class="ti" font-size="38.6">Intensity</text>
<path d="M171.0,1367.0 L172.0,1365.2 L173.1,1363.5 L174.1,1361.7 L175.1,1359.9 L176.1,1358.0 L177.0,1356.0 L178.0,1353.1 L179.0,1350.0 L179.9,1346.7 L180.6,1343.3 L181.3,1340.0 L181.8,1337.0 L182.1,1334.7 L182.3,1332.5 L182.4,1330.4 L182.4,1328.3 L182.5,1326.1 L182.6,1324.0 L182.7,1321.8 L182.9,1319.7 L183.0,1317.5 L183.1,1315.3 L183.3,1313.2 L183.4,1311.0 L183.5,1308.8 L183.7,1306.7 L183.8,1304.5 L183.9,1302.4 L184.1,1300.2 L184.2,1298.0 L184.3,1295.6 L184.4,1293.2 L184.5,1290.8 L184.6,1288.4 L184.7,1285.9 L184.8,1283.5 L185.0,1281.1 L185.1,1278.7 L185.2,1276.2 L185.3,1273.8 L185.4,1271.4 L185.5,1269.0 L185.6,1266.6 L185.7,1264.2 L185.8,1261.8 L185.9,1259.3 L186.0,1256.9 L186.2,1254.5 L186.3,1252.1 L186.4,1249.6 L186.5,1247.2 L186.6,1244.8 L186.7,1242.4 L186.8,1240.0 L186.8,1237.8 L186.9,1235.7 L186.9,1233.6 L186.9,1231.5 L186.9,1229.4 L186.9,1227.3 L186.9,1225.2 L187.0,1223.0 L187.0,1220.9 L187.0,1218.8 L187.0,1216.7 L187.1,1214.5 L187.1,1212.4 L187.1,1210.3 L187.1,1208.2 L187.1,1206.1 L187.2,1203.9 L187.2,1201.8 L187.2,1199.7 L187.2,1197.6 L187.2,1195.5 L187.3,1193.3 L187.3,1191.2 L187.3,1189.1 L187.3,1187.0 L187.4,1184.8 L187.4,1182.7 L187.4,1180.6 L187.4,1178.5 L187.4,1176.4 L187.5,1174.2 L187.5,1172.1 L187.5,1170.0 L187.5,1167.9 L187.5,1165.8 L187.6,1163.6 L187.6,1161.5 L187.6,1159.4 L187.6,1157.3 L187.6,1155.2 L187.7,1153.0 L187.7,1150.9 L187.7,1148.8 L187.7,1146.7 L187.8,1144.5 L187.8,1142.4 L187.8,1140.3 L187.8,1138.2 L187.8,1136.1 L187.9,1133.9 L187.9,1131.8 L187.9,1129.7 L187.9,1127.6 L187.9,1125.5 L188.0,1123.3 L188.0,1121.2 L188.0,1119.1 L188.0,1117.0 L188.1,1114.8 L188.1,1112.7 L188.1,1110.6 L188.1,1108.5 L188.1,1106.4 L188.2,1104.2 L188.2,1102.1 L188.2,1100.0 L188.2,1097.9 L188.2,1095.8 L188.2,1093.6 L188.3,1091.5 L188.3,1089.4 L188.3,1087.3 L188.3,1085.2 L188.3,1083.0 L188.3,1080.9 L188.4,1078.8 L188.4,1076.7 L188.4,1074.5 L188.4,1072.4 L188.4,1070.3 L188.4,1068.2 L188.4,1066.1 L188.5,1063.9 L188.5,1061.8 L188.5,1059.7 L188.5,1057.6 L188.5,1055.5 L188.5,1053.3 L188.5,1051.2 L188.6,1049.1 L188.6,1047.0 L188.6,1044.8 L188.6,1042.7 L188.6,1040.6 L188.6,1038.5 L188.7,1036.4 L188.7,1034.2 L188.7,1032.1 L188.7,1030.0 L188.7,1027.9 L188.7,1025.8 L188.7,1023.6 L188.8,1021.5 L188.8,1019.4 L188.8,1017.3 L188.8,1015.2 L188.8,1013.0 L188.8,1010.9 L188.9,1008.8 L188.9,1006.7 L188.9,1004.5 L188.9,1002.4 L188.9,1000.3 L188.9,998.2 L188.9,996.1 L189.0,993.9 L189.0,991.8 L189.0,989.7 L189.0,987.6 L189.0,985.5 L189.0,983.3 L189.0,981.2 L189.1,979.1 L189.1,977.0 L189.1,974.8 L189.1,972.7 L189.1,970.6 L189.1,968.5 L189.2,966.3 L189.2,964.2 L189.2,962.1 L189.2,960.0 L189.2,958.0 L189.2,956.0 L189.3,954.0 L189.3,952.0 L189.3,950.0 L189.3,948.0 L189.3,946.0 L189.4,944.0 L189.4,942.0 L189.4,940.0 L189.4,938.0 L189.4,936.0 L189.5,934.0 L189.5,932.0 L189.5,930.0 L189.5,928.0 L189.5,926.0 L189.6,924.0 L189.6,922.0 L189.6,920.0 L189.6,918.0 L189.6,916.0 L189.7,914.0 L189.7,912.0 L189.7,910.0 L189.7,908.0 L189.7,906.0 L189.7,904.0 L189.8,902.0 L189.8,900.0 L189.8,897.9 L189.8,895.7 L189.8,893.6 L189.9,891.5 L190.0,889.6 L190.3,888.0 L190.5,887.1 L190.8,886.3 L191.1,885.6 L191.4,885.0 L191.8,884.4 L192.3,884.0 L192.8,883.7 L193.4,883.6 L194.1,883.5 L194.8,883.5 L195.6,883.5 L196.5,883.5 L198.2,883.4 L200.3,883.4 L202.5,883.4 L204.9,883.5 L207.2,883.5 L209.4,883.5 L211.6,883.5 L213.8,883.5 L215.9,883.5 L218.1,883.5 L220.2,883.5 L222.4,883.5 L224.5,883.5 L226.7,883.5 L228.8,883.5 L231.0,883.5 L233.2,883.5 L235.3,883.5 L237.5,883.5 L239.6,883.5 L241.8,883.5 L243.9,883.5 L246.1,883.5 L248.2,883.5 L250.4,883.5 L252.6,883.5 L254.7,883.5 L256.9,883.5 L259.0,883.5 L261.2,883.5 L263.3,883.5 L265.5,883.5 L267.7,883.5 L269.8,883.5 L272.0,883.5 L274.1,883.5 L276.3,883.5 L278.4,883.5 L280.6,883.5 L282.8,883.5 L284.9,883.5 L287.1,883.5 L289.2,883.5 L291.4,883.5 L293.5,883.5 L295.7,883.5 L297.9,883.5 L300.0,883.5 L302.1,883.5 L304.2,883.5 L306.2,883.5 L308.3,883.5 L310.4,883.5 L312.5,883.5 L314.5,883.5 L316.6,883.5 L318.7,883.5 L320.8,883.5 L322.8,883.5 L324.9,883.5 L327.0,883.5 L329.1,883.5 L331.2,883.5 L333.2,883.5 L335.3,883.5 L337.4,883.5 L339.5,883.5 L341.5,883.5 L343.6,883.5 L345.7,883.5 L347.8,883.5 L349.8,883.5 L351.9,883.5 L354.0,883.5 L356.1,883.5 L358.2,883.5 L360.2,883.5 L362.3,883.5 L364.4,883.5 L366.5,883.5 L368.5,883.5 L370.6,883.5 L372.7,883.5 L374.8,883.5 L376.8,883.5 L378.9,883.5 L381.0,883.5 L383.1,883.5 L385.2,883.5 L387.2,883.5 L389.3,883.5 L391.4,883.5 L393.5,883.5 L395.5,883.5 L397.6,883.5 L399.7,883.5 L401.8,883.5 L403.8,883.5 L405.9,883.5 L408.0,883.5 L410.1,883.5 L412.2,883.5 L414.2,883.5 L416.3,883.5 L418.4,883.5 L420.5,883.5 L422.5,883.5 L424.6,883.5 L426.7,883.5 L428.8,883.5 L430.8,883.5 L432.9,883.5 L435.0,883.5 L437.1,883.5 L439.2,883.5 L441.2,883.5 L443.3,883.5 L445.4,883.5 L447.5,883.5 L449.5,883.5 L451.7,883.4 L454.1,883.3 L456.5,883.2 L458.7,883.2 L460.6,883.2 L462.0,883.5 L462.5,883.7 L462.9,883.9 L463.2,884.1 L463.5,884.3 L463.7,884.6 L464.0,885.0 L464.3,885.6 L464.6,886.4 L464.8,887.2 L464.9,888.1 L465.1,889.0 L465.2,890.0 L465.4,891.4 L465.6,893.0 L465.7,894.7 L465.8,896.4 L465.9,898.2 L466.0,900.0 L466.1,902.0 L466.2,904.1 L466.2,906.3 L466.3,908.4 L466.3,910.6 L466.4,912.7 L466.4,914.8 L466.5,917.0 L466.5,919.1 L466.6,921.2 L466.7,923.3 L466.7,925.4 L466.8,927.5 L466.8,929.7 L466.9,931.8 L467.0,933.9 L467.0,936.0 L467.1,938.1 L467.1,940.3 L467.2,942.4 L467.2,944.5 L467.3,946.6 L467.4,948.7 L467.4,950.9 L467.5,953.0 L467.5,955.1 L467.6,957.2 L467.7,959.3 L467.7,961.5 L467.8,963.6 L467.8,965.7 L467.9,967.8 L468.0,969.9 L468.0,972.0 L468.1,974.2 L468.1,976.3 L468.2,978.4 L468.3,980.5 L468.3,982.6 L468.4,984.7 L468.4,986.8 L468.5,989.0 L468.6,991.3 L468.6,993.7 L468.7,996.1 L468.7,998.4 L468.8,1000.8 L468.8,1003.2 L468.9,1005.6 L468.9,1007.9 L469.0,1010.3 L469.0,1012.7 L469.0,1015.0 L469.1,1017.4 L469.1,1019.8 L469.2,1022.1 L469.2,1024.5 L469.3,1026.9 L469.3,1029.2 L469.4,1031.6 L469.4,1034.0 L469.5,1036.3 L469.5,1038.7 L469.6,1041.1 L469.6,1043.4 L469.7,1045.8 L469.7,1048.2 L469.8,1050.5 L469.8,1052.9 L469.9,1055.3 L469.9,1057.6 L470.0,1060.0 L470.1,1062.3 L470.1,1064.7 L470.2,1067.0 L470.3,1069.3 L470.3,1071.7 L470.4,1074.0 L470.5,1076.3 L470.5,1078.7 L470.6,1081.0 L470.7,1083.3 L470.7,1085.7 L470.8,1088.0 L470.9,1090.3 L470.9,1092.7 L471.0,1095.0 L471.1,1097.3 L471.1,1099.7 L471.2,1102.0 L471.3,1104.3 L471.3,1106.7 L471.4,1109.0 L471.5,1111.3 L471.5,1113.7 L471.6,1116.0 L471.7,1118.3 L471.7,1120.7 L471.8,1123.0 L471.9,1125.3 L471.9,1127.7 L472.0,1130.0 L472.1,1132.3 L472.2,1134.7 L472.2,1137.0 L472.3,1139.3 L472.4,1141.7 L472.5,1144.0 L472.6,1146.3 L472.7,1148.7 L472.8,1151.0 L472.8,1153.3 L472.9,1155.7 L473.0,1158.0 L473.1,1160.3 L473.2,1162.7 L473.2,1165.0 L473.3,1167.3 L473.4,1169.7 L473.5,1172.0 L473.6,1174.3 L473.7,1176.7 L473.8,1179.0 L473.8,1181.3 L473.9,1183.7 L474.0,1186.0 L474.1,1188.3 L474.2,1190.7 L474.2,1193.0 L474.3,1195.3 L474.4,1197.7 L474.5,1200.0 L474.6,1202.4 L474.7,1204.8 L474.8,1207.2 L474.9,1209.7 L475.0,1212.1 L475.1,1214.5 L475.2,1216.9 L475.3,1219.3 L475.4,1221.8 L475.5,1224.2 L475.6,1226.6 L475.8,1229.0 L475.9,1231.4 L476.0,1233.8 L476.1,1236.2 L476.2,1238.7 L476.3,1241.1 L476.4,1243.5 L476.5,1245.9 L476.6,1248.4 L476.7,1250.8 L476.8,1253.2 L476.9,1255.6 L477.0,1258.0 L477.1,1260.3 L477.3,1262.5 L477.5,1264.8 L477.7,1267.0 L477.8,1269.3 L478.0,1271.5 L478.1,1273.7 L478.2,1276.0 L478.3,1278.2 L478.5,1280.5 L478.7,1282.7 L479.0,1285.0 L479.4,1287.6 L479.9,1290.3 L480.5,1293.0 L481.2,1295.6 L482.0,1298.0 L483.0,1300.0 L483.8,1301.3 L484.7,1302.5 L485.6,1303.6 L486.6,1304.5 L487.5,1305.1 L488.4,1305.5 L489.0,1305.5 L489.6,1305.4 L490.2,1305.2 L490.8,1304.8 L491.4,1304.4 L492.0,1304.0 L492.8,1303.4 L493.6,1302.7 L494.3,1301.9 L495.1,1301.0 L495.8,1300.1 L496.5,1299.0 L497.4,1297.3 L498.2,1295.3 L498.9,1293.1 L499.7,1290.9 L500.4,1288.7 L501.1,1286.5 L501.9,1284.4 L502.6,1282.4 L503.4,1280.4 L504.1,1278.3 L504.9,1276.2 L505.8,1274.0 L507.0,1271.0 L508.3,1267.7 L509.7,1264.3 L511.1,1261.0 L512.6,1258.2 L514.0,1256.0 L514.7,1255.1 L515.5,1254.4 L516.2,1253.8 L516.9,1253.3 L517.7,1252.9 L518.5,1252.5 L519.3,1252.2 L520.1,1252.0 L520.9,1251.9 L521.7,1251.9 L522.5,1251.9 L523.3,1252.0 L524.0,1252.2 L524.6,1252.4 L525.2,1252.8 L525.8,1253.1 L526.4,1253.6 L527.0,1254.0 L527.7,1254.6 L528.4,1255.4 L529.0,1256.1 L529.7,1257.0 L530.5,1257.8 L531.4,1258.5 L533.0,1259.5 L534.8,1260.6 L536.8,1261.6 L538.9,1262.5 L541.0,1263.3 L543.0,1264.0 L545.0,1264.4 L547.0,1264.7 L549.1,1264.9 L551.1,1265.0 L553.0,1265.2 L554.7,1265.5 L555.7,1265.8 L556.7,1266.0 L557.6,1266.3 L558.4,1266.7 L559.2,1267.0 L560.0,1267.5 L560.7,1268.0 L561.4,1268.6 L562.0,1269.2 L562.6,1269.8 L563.3,1270.6 L564.0,1271.5 L565.6,1273.7 L567.4,1276.4 L569.3,1279.5 L571.4,1282.8 L573.5,1286.0 L575.6,1289.0 L577.8,1291.8 L580.1,1294.6 L582.5,1297.4 L584.9,1300.0 L587.2,1302.6 L589.5,1305.0 L591.3,1306.9 L593.1,1308.6 L594.8,1310.3 L596.5,1312.0 L598.2,1313.5 L600.0,1315.0 L601.7,1316.3 L603.3,1317.5 L605.0,1318.7 L606.7,1319.8 L608.4,1320.9 L610.0,1322.0 L611.4,1322.9 L612.7,1323.8 L614.0,1324.6 L615.3,1325.4 L616.6,1326.2 L618.0,1327.0 L619.6,1327.8 L621.3,1328.5 L623.0,1329.2 L624.7,1330.0 L626.4,1330.7 L628.0,1331.5 L629.5,1332.3 L631.1,1333.2 L632.6,1334.1 L634.0,1335.1 L635.5,1336.0 L637.0,1337.0 L638.5,1338.0 L640.0,1339.2 L641.5,1340.3 L643.0,1341.4 L644.5,1342.5 L646.0,1343.5 L647.5,1344.4 L649.1,1345.4 L650.6,1346.3 L652.2,1347.1 L653.6,1347.9 L655.0,1348.5 L655.9,1348.9 L656.7,1349.2 L657.4,1349.5 L658.2,1349.7 L659.0,1349.9 L660.0,1350.0 L661.7,1350.1 L663.6,1350.0 L665.7,1349.8 L667.8,1349.6 L669.9,1349.3 L672.0,1349.0 L674.0,1348.7 L676.0,1348.4 L678.0,1348.0 L680.0,1347.6 L682.0,1347.3 L684.0,1347.0 L686.0,1346.7 L688.0,1346.4 L690.1,1346.1 L692.1,1345.9 L694.1,1345.8 L696.0,1346.0 L697.8,1346.4 L699.6,1346.9 L701.3,1347.6 L703.0,1348.4 L704.6,1349.2 L706.0,1350.0 L707.0,1350.6 L707.9,1351.3 L708.7,1352.0 L709.5,1352.7 L710.3,1353.3 L711.0,1354.0 L711.6,1354.6 L712.1,1355.2 L712.6,1355.9 L713.0,1356.5 L713.5,1356.8 L714.0,1357.0 L714.5,1356.9 L715.0,1356.5 L715.5,1355.9 L716.0,1355.3 L716.5,1354.6 L717.0,1354.0 L717.5,1353.3 L717.9,1352.4 L718.3,1351.6 L718.7,1350.8 L719.1,1350.2 L719.5,1350.0 L719.9,1350.2 L720.4,1350.7 L720.8,1351.5 L721.2,1352.4 L721.6,1353.2 L722.0,1354.0 L722.3,1354.6 L722.7,1355.3 L723.0,1355.9 L723.3,1356.5 L723.6,1357.2 L724.0,1358.0 L724.6,1359.3 L725.2,1360.9 L725.9,1362.6 L726.6,1364.2 L727.5,1365.7 L728.4,1367.0 L729.3,1367.9 L730.4,1368.6 L731.5,1369.3 L732.6,1369.9 L733.8,1370.4 L735.0,1371.0 L736.2,1371.6 L737.5,1372.1 L738.8,1372.5 L740.1,1373.0 L741.4,1373.5 L742.8,1374.0 L744.5,1374.7 L746.4,1375.5 L748.2,1376.3 L750.1,1377.1 L751.9,1377.8 L753.6,1378.5 L754.9,1378.9 L756.2,1379.3 L757.4,1379.7 L758.6,1380.0 L759.7,1380.5 L760.8,1381.0 L761.7,1381.6 L762.6,1382.4 L763.4,1383.2 L764.2,1384.0 L765.1,1384.8 L766.0,1385.6 L767.1,1386.4 L768.2,1387.1 L769.4,1387.9 L770.6,1388.6 L771.8,1389.3 L773.0,1390.0 L774.1,1390.7 L775.3,1391.4 L776.4,1392.0 L777.6,1392.7 L778.8,1393.3 L780.0,1394.0 L781.5,1394.8 L783.1,1395.7 L784.7,1396.5 L786.4,1397.4 L788.2,1398.2 L790.0,1399.0 L792.3,1399.9 L794.7,1400.9 L797.3,1401.8 L799.9,1402.6 L802.4,1403.4 L805.0,1404.0 L807.5,1404.5 L810.0,1404.9 L812.6,1405.3 L815.1,1405.6 L817.6,1405.8 L820.0,1406.0 L822.1,1406.1 L824.2,1406.2 L826.2,1406.3 L828.3,1406.3 L830.3,1406.3 L832.3,1406.4 L834.4,1406.4 L836.4,1406.5 L838.5,1406.6 L840.6,1406.6 L842.6,1406.7 L844.7,1406.7 L846.7,1406.8 L848.8,1406.9 L850.8,1406.9 L852.9,1407.0 L854.9,1407.0 L857.0,1407.1 L859.1,1407.2 L861.1,1407.2 L863.2,1407.3 L865.2,1407.3 L867.3,1407.4 L869.3,1407.5 L871.4,1407.5 L873.4,1407.6 L875.5,1407.7 L877.6,1407.7 L879.6,1407.8 L881.7,1407.8 L883.7,1407.9 L885.8,1408.0 L887.8,1408.0 L889.9,1408.1 L891.9,1408.1 L894.0,1408.2" fill="none" stroke="#000000" stroke-width="8" stroke-linejoin="round" stroke-linecap="butt" clip-path="url(#cb)"/>
<path d="M171.0,1366.6 L172.0,1364.7 L173.1,1362.8 L174.1,1361.0 L175.1,1359.1 L176.1,1357.1 L177.0,1355.0 L178.0,1352.2 L179.0,1349.2 L179.9,1346.1 L180.7,1343.0 L181.4,1339.9 L182.0,1337.0 L182.3,1334.7 L182.5,1332.5 L182.6,1330.4 L182.7,1328.3 L182.7,1326.1 L182.8,1324.0 L183.0,1321.8 L183.1,1319.7 L183.2,1317.5 L183.4,1315.3 L183.5,1313.2 L183.7,1311.0 L183.8,1308.8 L184.0,1306.7 L184.1,1304.5 L184.2,1302.4 L184.4,1300.2 L184.5,1298.0 L184.6,1295.6 L184.7,1293.2 L184.8,1290.8 L184.9,1288.4 L185.0,1285.9 L185.1,1283.5 L185.2,1281.1 L185.3,1278.7 L185.4,1276.2 L185.5,1273.8 L185.6,1271.4 L185.8,1269.0 L185.9,1266.6 L186.0,1264.2 L186.1,1261.8 L186.2,1259.3 L186.3,1256.9 L186.4,1254.5 L186.5,1252.1 L186.6,1249.6 L186.7,1247.2 L186.8,1244.8 L186.9,1242.4 L187.0,1240.0 L187.0,1237.8 L187.1,1235.7 L187.1,1233.6 L187.1,1231.5 L187.1,1229.4 L187.1,1227.3 L187.2,1225.2 L187.2,1223.0 L187.2,1220.9 L187.2,1218.8 L187.2,1216.7 L187.3,1214.5 L187.3,1212.4 L187.3,1210.3 L187.3,1208.2 L187.4,1206.1 L187.4,1203.9 L187.4,1201.8 L187.4,1199.7 L187.5,1197.6 L187.5,1195.5 L187.5,1193.3 L187.5,1191.2 L187.5,1189.1 L187.6,1187.0 L187.6,1184.8 L187.6,1182.7 L187.6,1180.6 L187.7,1178.5 L187.7,1176.4 L187.7,1174.2 L187.7,1172.1 L187.8,1170.0 L187.8,1167.9 L187.8,1165.8 L187.8,1163.6 L187.8,1161.5 L187.9,1159.4 L187.9,1157.3 L187.9,1155.2 L187.9,1153.0 L188.0,1150.9 L188.0,1148.8 L188.0,1146.7 L188.0,1144.5 L188.0,1142.4 L188.1,1140.3 L188.1,1138.2 L188.1,1136.1 L188.1,1133.9 L188.2,1131.8 L188.2,1129.7 L188.2,1127.6 L188.2,1125.5 L188.2,1123.3 L188.3,1121.2 L188.3,1119.1 L188.3,1117.0 L188.3,1114.8 L188.4,1112.7 L188.4,1110.6 L188.4,1108.5 L188.4,1106.4 L188.5,1104.2 L188.5,1102.1 L188.5,1100.0 L188.5,1097.9 L188.5,1095.8 L188.5,1093.6 L188.6,1091.5 L188.6,1089.4 L188.6,1087.3 L188.6,1085.2 L188.6,1083.0 L188.6,1080.9 L188.7,1078.8 L188.7,1076.7 L188.7,1074.5 L188.7,1072.4 L188.7,1070.3 L188.7,1068.2 L188.7,1066.1 L188.8,1063.9 L188.8,1061.8 L188.8,1059.7 L188.8,1057.6 L188.8,1055.5 L188.8,1053.3 L188.8,1051.2 L188.9,1049.1 L188.9,1047.0 L188.9,1044.8 L188.9,1042.7 L188.9,1040.6 L188.9,1038.5 L189.0,1036.4 L189.0,1034.2 L189.0,1032.1 L189.0,1030.0 L189.0,1027.9 L189.0,1025.8 L189.0,1023.6 L189.1,1021.5 L189.1,1019.4 L189.1,1017.3 L189.1,1015.2 L189.1,1013.0 L189.1,1010.9 L189.2,1008.8 L189.2,1006.7 L189.2,1004.5 L189.2,1002.4 L189.2,1000.3 L189.2,998.2 L189.2,996.1 L189.3,993.9 L189.3,991.8 L189.3,989.7 L189.3,987.6 L189.3,985.5 L189.3,983.3 L189.3,981.2 L189.4,979.1 L189.4,977.0 L189.4,974.8 L189.4,972.7 L189.4,970.6 L189.4,968.5 L189.5,966.3 L189.5,964.2 L189.5,962.1 L189.5,960.0 L189.5,958.0 L189.5,956.0 L189.5,954.0 L189.6,952.0 L189.6,950.0 L189.6,948.0 L189.6,946.0 L189.6,944.0 L189.6,942.0 L189.7,940.0 L189.7,938.0 L189.7,936.0 L189.7,934.0 L189.7,932.0 L189.8,930.0 L189.8,928.0 L189.8,926.0 L189.8,924.0 L189.8,922.0 L189.8,920.0 L189.9,918.0 L189.9,916.0 L189.9,914.0 L189.9,912.0 L189.9,910.0 L189.9,908.0 L189.9,906.0 L189.9,904.0 L190.0,902.0 L190.0,900.0 L190.0,897.9 L190.0,895.7 L190.0,893.6 L190.1,891.5 L190.2,889.6 L190.5,888.0 L190.7,887.1 L191.0,886.4 L191.3,885.6 L191.6,885.0 L192.0,884.4 L192.5,884.0 L193.1,883.7 L193.7,883.6 L194.4,883.5 L195.2,883.5 L196.1,883.5 L197.0,883.5 L198.8,883.4 L200.8,883.4 L203.0,883.4 L205.3,883.5 L207.7,883.5 L209.9,883.5 L212.0,883.5 L214.2,883.5 L216.3,883.5 L218.5,883.5 L220.6,883.5 L222.8,883.5 L224.9,883.5 L227.0,883.5 L229.2,883.5 L231.3,883.5 L233.5,883.5 L235.6,883.5 L237.8,883.5 L239.9,883.5 L242.1,883.5 L244.2,883.5 L246.4,883.5 L248.5,883.5 L250.6,883.5 L252.8,883.5 L254.9,883.5 L257.1,883.5 L259.2,883.5 L261.4,883.5 L263.5,883.5 L265.7,883.5 L267.8,883.5 L270.0,883.5 L272.1,883.5 L274.2,883.5 L276.4,883.5 L278.5,883.5 L280.7,883.5 L282.8,883.5 L285.0,883.5 L287.1,883.5 L289.3,883.5 L291.4,883.5 L293.6,883.5 L295.7,883.5 L297.9,883.5 L300.0,883.5 L302.1,883.5 L304.2,883.5 L306.4,883.5 L308.5,883.5 L310.6,883.5 L312.7,883.5 L314.9,883.5 L317.0,883.5 L319.1,883.5 L321.2,883.5 L323.3,883.5 L325.5,883.5 L327.6,883.5 L329.7,883.5 L331.8,883.5 L333.9,883.5 L336.1,883.5 L338.2,883.5 L340.3,883.5 L342.4,883.5 L344.6,883.5 L346.7,883.5 L348.8,883.5 L350.9,883.5 L353.0,883.5 L355.2,883.5 L357.3,883.5 L359.4,883.5 L361.5,883.5 L363.7,883.5 L365.8,883.5 L367.9,883.5 L370.0,883.5 L372.1,883.5 L374.3,883.5 L376.4,883.5 L378.5,883.5 L380.6,883.5 L382.8,883.5 L384.9,883.5 L387.0,883.5 L389.1,883.5 L391.2,883.5 L393.4,883.5 L395.5,883.5 L397.6,883.5 L399.7,883.5 L401.8,883.5 L404.0,883.5 L406.1,883.5 L408.2,883.5 L410.3,883.5 L412.5,883.5 L414.6,883.5 L416.7,883.5 L418.8,883.5 L420.9,883.5 L423.1,883.5 L425.2,883.5 L427.3,883.5 L429.4,883.5 L431.6,883.5 L433.7,883.5 L435.8,883.5 L437.9,883.5 L440.0,883.5 L442.2,883.5 L444.3,883.5 L446.4,883.5 L448.5,883.5 L450.6,883.5 L452.8,883.5 L455.0,883.4 L457.5,883.3 L459.9,883.2 L462.2,883.1 L464.1,883.2 L465.5,883.5 L465.9,883.7 L466.3,883.9 L466.5,884.1 L466.8,884.4 L467.0,884.7 L467.2,885.0 L467.5,885.6 L467.6,886.4 L467.8,887.2 L467.8,888.1 L467.9,889.0 L468.0,890.0 L468.1,891.5 L468.2,893.0 L468.3,894.7 L468.4,896.4 L468.4,898.2 L468.5,900.0 L468.6,902.0 L468.6,904.1 L468.7,906.3 L468.7,908.4 L468.8,910.6 L468.9,912.7 L468.9,914.8 L469.0,917.0 L469.0,919.1 L469.1,921.2 L469.2,923.3 L469.2,925.4 L469.3,927.5 L469.3,929.7 L469.4,931.8 L469.5,933.9 L469.5,936.0 L469.6,938.1 L469.6,940.3 L469.7,942.4 L469.8,944.5 L469.8,946.6 L469.9,948.7 L469.9,950.9 L470.0,953.0 L470.0,955.1 L470.1,957.2 L470.2,959.3 L470.2,961.5 L470.3,963.6 L470.3,965.7 L470.4,967.8 L470.5,969.9 L470.5,972.0 L470.6,974.2 L470.6,976.3 L470.7,978.4 L470.8,980.5 L470.8,982.6 L470.9,984.7 L470.9,986.8 L471.0,989.0 L471.1,991.3 L471.1,993.7 L471.2,996.1 L471.2,998.4 L471.3,1000.8 L471.3,1003.2 L471.3,1005.6 L471.4,1007.9 L471.5,1010.3 L471.5,1012.7 L471.6,1015.0 L471.6,1017.4 L471.6,1019.8 L471.7,1022.1 L471.8,1024.5 L471.8,1026.9 L471.8,1029.2 L471.9,1031.6 L471.9,1034.0 L472.0,1036.3 L472.0,1038.7 L472.1,1041.1 L472.1,1043.4 L472.2,1045.8 L472.2,1048.2 L472.3,1050.5 L472.3,1052.9 L472.4,1055.3 L472.4,1057.6 L472.5,1060.0 L472.6,1062.3 L472.6,1064.7 L472.7,1067.0 L472.8,1069.3 L472.8,1071.7 L472.9,1074.0 L473.0,1076.3 L473.0,1078.7 L473.1,1081.0 L473.2,1083.3 L473.2,1085.7 L473.3,1088.0 L473.4,1090.3 L473.4,1092.7 L473.5,1095.0 L473.6,1097.3 L473.6,1099.7 L473.7,1102.0 L473.8,1104.3 L473.8,1106.7 L473.9,1109.0 L474.0,1111.3 L474.0,1113.7 L474.1,1116.0 L474.2,1118.3 L474.2,1120.7 L474.3,1123.0 L474.4,1125.3 L474.4,1127.7 L474.5,1130.0 L474.6,1132.3 L474.7,1134.7 L474.7,1137.0 L474.8,1139.3 L474.9,1141.7 L475.0,1144.0 L475.1,1146.3 L475.2,1148.7 L475.2,1151.0 L475.3,1153.3 L475.4,1155.7 L475.5,1158.0 L475.6,1160.3 L475.7,1162.7 L475.8,1165.0 L475.8,1167.3 L475.9,1169.7 L476.0,1172.0 L476.1,1174.3 L476.2,1176.7 L476.2,1179.0 L476.3,1181.3 L476.4,1183.7 L476.5,1186.0 L476.6,1188.3 L476.7,1190.6 L476.7,1192.9 L476.8,1195.2 L476.9,1197.6 L477.0,1200.0 L477.1,1202.8 L477.3,1205.7 L477.5,1208.6 L477.6,1211.6 L477.8,1214.6 L478.0,1217.5 L478.2,1220.4 L478.3,1223.3 L478.4,1226.1 L478.6,1229.0 L478.8,1232.0 L479.0,1235.0 L479.3,1238.7 L479.7,1242.5 L480.0,1246.4 L480.5,1250.3 L480.9,1254.1 L481.4,1257.7 L481.8,1260.7 L482.3,1263.6 L482.7,1266.5 L483.2,1269.2 L483.8,1271.7 L484.5,1274.0 L485.1,1275.5 L485.6,1277.0 L486.3,1278.4 L487.0,1279.6 L487.7,1280.5 L488.4,1281.0 L489.0,1281.0 L489.6,1280.8 L490.2,1280.5 L490.8,1280.0 L491.4,1279.5 L492.0,1279.0 L492.8,1278.4 L493.5,1277.7 L494.3,1276.9 L495.1,1276.0 L495.8,1275.1 L496.5,1274.0 L497.4,1272.1 L498.2,1269.9 L499.0,1267.5 L499.7,1265.0 L500.4,1262.4 L501.1,1260.0 L501.9,1257.7 L502.6,1255.4 L503.4,1253.2 L504.1,1250.9 L504.9,1248.5 L505.8,1246.0 L507.0,1242.5 L508.3,1238.7 L509.7,1234.7 L511.1,1230.9 L512.6,1227.6 L514.0,1225.0 L514.7,1223.9 L515.5,1223.0 L516.2,1222.3 L516.9,1221.6 L517.7,1221.0 L518.5,1220.5 L519.2,1220.1 L520.0,1219.8 L520.7,1219.5 L521.5,1219.3 L522.3,1219.3 L523.0,1219.3 L523.7,1219.5 L524.4,1219.8 L525.1,1220.3 L525.7,1220.8 L526.4,1221.4 L527.0,1222.0 L527.7,1222.8 L528.4,1223.6 L529.1,1224.5 L529.8,1225.5 L530.5,1226.4 L531.4,1227.4 L532.7,1228.8 L534.2,1230.3 L535.8,1231.9 L537.4,1233.4 L539.1,1234.6 L540.7,1235.6 L541.9,1236.1 L543.1,1236.4 L544.4,1236.6 L545.6,1236.7 L546.8,1236.8 L548.0,1237.0 L549.1,1237.2 L550.3,1237.3 L551.4,1237.4 L552.5,1237.6 L553.6,1237.8 L554.7,1238.0 L555.6,1238.3 L556.6,1238.5 L557.5,1238.8 L558.4,1239.2 L559.2,1239.6 L560.0,1240.0 L560.7,1240.5 L561.4,1241.0 L562.0,1241.5 L562.6,1242.1 L563.3,1242.8 L564.0,1243.7 L565.6,1245.9 L567.4,1248.8 L569.4,1252.1 L571.4,1255.6 L573.5,1259.1 L575.6,1262.3 L577.8,1265.5 L580.2,1268.8 L582.6,1272.0 L585.0,1275.2 L587.3,1278.2 L589.5,1281.0 L591.1,1283.0 L592.7,1284.8 L594.2,1286.5 L595.7,1288.1 L597.2,1289.8 L598.8,1291.5 L600.3,1293.3 L601.7,1295.0 L603.2,1296.8 L604.7,1298.5 L606.3,1300.3 L608.0,1302.0 L610.2,1304.0 L612.5,1306.1 L614.9,1308.2 L617.4,1310.2 L619.8,1312.1 L622.0,1314.0 L623.7,1315.4 L625.2,1316.7 L626.8,1318.0 L628.3,1319.2 L629.8,1320.6 L631.5,1322.0 L633.8,1324.1 L636.2,1326.4 L638.7,1328.9 L641.3,1331.3 L643.7,1333.5 L646.0,1335.4 L647.6,1336.6 L649.1,1337.6 L650.6,1338.6 L652.1,1339.5 L653.6,1340.3 L655.0,1341.0 L656.2,1341.6 L657.4,1342.1 L658.6,1342.6 L659.7,1343.1 L660.9,1343.4 L662.0,1343.5 L663.0,1343.5 L664.1,1343.4 L665.1,1343.2 L666.1,1342.9 L667.1,1342.5 L668.0,1342.0 L668.9,1341.3 L669.8,1340.4 L670.6,1339.3 L671.4,1338.2 L672.2,1337.1 L673.0,1336.0 L673.8,1334.8 L674.6,1333.6 L675.4,1332.3 L676.2,1331.1 L677.1,1330.0 L678.0,1329.0 L678.9,1328.2 L679.8,1327.5 L680.7,1326.8 L681.7,1326.2 L682.6,1325.7 L683.6,1325.5 L684.5,1325.5 L685.4,1325.6 L686.3,1325.9 L687.2,1326.3 L688.1,1326.7 L689.0,1327.0 L689.9,1327.3 L690.8,1327.7 L691.7,1328.2 L692.6,1328.5 L693.5,1328.8 L694.4,1329.0 L695.3,1329.0 L696.2,1328.9 L697.1,1328.7 L698.1,1328.4 L699.0,1328.2 L700.0,1328.0 L701.1,1327.8 L702.3,1327.7 L703.5,1327.5 L704.7,1327.3 L705.9,1327.3 L707.0,1327.3 L707.9,1327.4 L708.8,1327.6 L709.6,1327.8 L710.4,1328.0 L711.2,1328.3 L712.0,1328.5 L712.7,1328.8 L713.5,1329.2 L714.2,1329.6 L714.9,1329.9 L715.5,1330.1 L716.0,1330.0 L716.4,1329.6 L716.7,1328.9 L716.9,1327.9 L717.1,1326.9 L717.3,1325.9 L717.5,1325.0 L717.7,1324.1 L718.0,1323.0 L718.2,1321.9 L718.4,1321.0 L718.7,1320.3 L719.0,1320.0 L719.3,1320.1 L719.6,1320.5 L720.0,1321.0 L720.3,1321.7 L720.7,1322.4 L721.0,1323.0 L721.4,1323.7 L721.7,1324.5 L722.0,1325.3 L722.3,1326.1 L722.6,1327.0 L723.0,1328.0 L723.6,1329.8 L724.3,1331.9 L725.1,1334.2 L725.9,1336.5 L726.7,1338.7 L727.5,1340.8 L728.2,1342.4 L728.9,1344.1 L729.5,1345.6 L730.3,1347.1 L731.1,1348.5 L732.0,1349.7 L732.9,1350.6 L733.8,1351.4 L734.8,1352.1 L735.9,1352.7 L736.9,1353.4 L738.0,1354.0 L739.0,1354.7 L740.1,1355.3 L741.1,1355.9 L742.2,1356.5 L743.3,1357.1 L744.6,1357.8 L746.7,1358.9 L749.2,1360.0 L751.8,1361.2 L754.4,1362.4 L756.9,1363.7 L759.0,1365.0 L760.4,1366.0 L761.6,1367.0 L762.6,1367.9 L763.7,1369.0 L764.8,1370.1 L766.0,1371.3 L767.7,1373.1 L769.4,1375.2 L771.2,1377.5 L773.1,1379.7 L775.0,1381.8 L777.0,1383.8 L779.0,1385.5 L781.1,1387.2 L783.3,1388.7 L785.5,1390.2 L787.7,1391.6 L790.0,1393.0 L792.4,1394.3 L794.9,1395.6 L797.4,1396.8 L799.9,1398.0 L802.5,1399.0 L805.0,1400.0 L807.5,1400.9 L810.0,1401.6 L812.5,1402.3 L815.0,1403.0 L817.5,1403.5 L820.0,1404.0 L822.5,1404.4 L825.0,1404.6 L827.5,1404.8 L830.0,1404.9 L832.5,1405.1 L835.0,1405.2 L837.5,1405.5 L840.0,1405.7 L842.5,1405.9 L845.0,1406.1 L847.5,1406.3 L850.0,1406.5 L852.5,1406.6 L854.9,1406.7 L857.3,1406.8 L859.8,1406.8 L862.2,1406.8 L864.7,1406.9 L867.1,1407.0 L869.6,1407.0 L872.0,1407.1 L874.4,1407.2 L876.9,1407.2 L879.3,1407.3 L881.8,1407.4 L884.2,1407.4 L886.7,1407.5 L889.1,1407.6 L891.6,1407.6 L894.0,1407.7" fill="none" stroke="#0000ff" stroke-width="8" stroke-linejoin="round" stroke-linecap="butt" clip-path="url(#cb)"/>
<path d="M171.0,1368.0 L172.0,1366.2 L173.1,1364.5 L174.1,1362.8 L175.2,1361.0 L176.1,1359.1 L177.0,1357.0 L178.0,1354.0 L178.9,1350.7 L179.7,1347.2 L180.4,1343.6 L181.0,1340.2 L181.5,1337.0 L181.8,1334.7 L182.0,1332.5 L182.1,1330.3 L182.1,1328.2 L182.2,1326.1 L182.3,1324.0 L182.5,1321.8 L182.6,1319.7 L182.8,1317.5 L182.9,1315.3 L183.0,1313.2 L183.2,1311.0 L183.3,1308.8 L183.5,1306.7 L183.6,1304.5 L183.7,1302.4 L183.9,1300.2 L184.0,1298.0 L184.1,1295.6 L184.2,1293.2 L184.3,1290.8 L184.4,1288.4 L184.5,1285.9 L184.6,1283.5 L184.7,1281.1 L184.8,1278.7 L184.9,1276.2 L185.0,1273.8 L185.1,1271.4 L185.2,1269.0 L185.4,1266.6 L185.5,1264.2 L185.6,1261.8 L185.7,1259.3 L185.8,1256.9 L185.9,1254.5 L186.0,1252.1 L186.1,1249.6 L186.2,1247.2 L186.3,1244.8 L186.4,1242.4 L186.5,1240.0 L186.5,1237.8 L186.6,1235.7 L186.6,1233.6 L186.6,1231.5 L186.6,1229.4 L186.6,1227.3 L186.7,1225.2 L186.7,1223.0 L186.7,1220.9 L186.7,1218.8 L186.8,1216.7 L186.8,1214.5 L186.8,1212.4 L186.8,1210.3 L186.8,1208.2 L186.9,1206.1 L186.9,1203.9 L186.9,1201.8 L186.9,1199.7 L187.0,1197.6 L187.0,1195.5 L187.0,1193.3 L187.0,1191.2 L187.0,1189.1 L187.1,1187.0 L187.1,1184.8 L187.1,1182.7 L187.1,1180.6 L187.2,1178.5 L187.2,1176.4 L187.2,1174.2 L187.2,1172.1 L187.2,1170.0 L187.3,1167.9 L187.3,1165.8 L187.3,1163.6 L187.3,1161.5 L187.4,1159.4 L187.4,1157.3 L187.4,1155.2 L187.4,1153.0 L187.5,1150.9 L187.5,1148.8 L187.5,1146.7 L187.5,1144.5 L187.5,1142.4 L187.6,1140.3 L187.6,1138.2 L187.6,1136.1 L187.6,1133.9 L187.7,1131.8 L187.7,1129.7 L187.7,1127.6 L187.7,1125.5 L187.8,1123.3 L187.8,1121.2 L187.8,1119.1 L187.8,1117.0 L187.8,1114.8 L187.9,1112.7 L187.9,1110.6 L187.9,1108.5 L187.9,1106.4 L188.0,1104.2 L188.0,1102.1 L188.0,1100.0 L188.0,1097.9 L188.0,1095.8 L188.0,1093.6 L188.1,1091.5 L188.1,1089.4 L188.1,1087.3 L188.1,1085.2 L188.1,1083.0 L188.1,1080.9 L188.2,1078.8 L188.2,1076.7 L188.2,1074.5 L188.2,1072.4 L188.2,1070.3 L188.2,1068.2 L188.2,1066.1 L188.3,1063.9 L188.3,1061.8 L188.3,1059.7 L188.3,1057.6 L188.3,1055.5 L188.3,1053.3 L188.3,1051.2 L188.4,1049.1 L188.4,1047.0 L188.4,1044.8 L188.4,1042.7 L188.4,1040.6 L188.4,1038.5 L188.5,1036.4 L188.5,1034.2 L188.5,1032.1 L188.5,1030.0 L188.5,1027.9 L188.5,1025.8 L188.5,1023.6 L188.6,1021.5 L188.6,1019.4 L188.6,1017.3 L188.6,1015.2 L188.6,1013.0 L188.6,1010.9 L188.7,1008.8 L188.7,1006.7 L188.7,1004.5 L188.7,1002.4 L188.7,1000.3 L188.7,998.2 L188.7,996.1 L188.8,993.9 L188.8,991.8 L188.8,989.7 L188.8,987.6 L188.8,985.5 L188.8,983.3 L188.8,981.2 L188.9,979.1 L188.9,977.0 L188.9,974.8 L188.9,972.7 L188.9,970.6 L188.9,968.5 L189.0,966.3 L189.0,964.2 L189.0,962.1 L189.0,960.0 L189.0,958.0 L189.0,956.0 L189.0,954.0 L189.1,952.0 L189.1,950.0 L189.1,948.0 L189.1,946.0 L189.1,944.0 L189.1,942.0 L189.2,940.0 L189.2,938.0 L189.2,936.0 L189.2,934.0 L189.2,932.0 L189.2,930.0 L189.3,928.0 L189.3,926.0 L189.3,924.0 L189.3,922.0 L189.3,920.0 L189.4,918.0 L189.4,916.0 L189.4,914.0 L189.4,912.0 L189.4,910.0 L189.4,908.0 L189.4,906.0 L189.4,904.0 L189.5,902.0 L189.5,900.0 L189.5,897.9 L189.5,895.7 L189.5,893.6 L189.6,891.5 L189.7,889.6 L190.0,888.0 L190.2,887.1 L190.5,886.4 L190.8,885.6 L191.1,885.0 L191.5,884.4 L192.0,884.0 L192.5,883.7 L193.1,883.6 L193.7,883.5 L194.4,883.5 L195.2,883.4 L196.0,883.4 L197.7,883.3 L199.8,883.3 L202.0,883.3 L204.4,883.3 L206.7,883.4 L209.0,883.4 L211.2,883.4 L213.3,883.4 L215.5,883.4 L217.7,883.4 L219.8,883.4 L222.0,883.4 L224.2,883.4 L226.3,883.4 L228.5,883.4 L230.7,883.4 L232.8,883.4 L235.0,883.4 L237.2,883.4 L239.3,883.4 L241.5,883.4 L243.7,883.4 L245.8,883.4 L248.0,883.4 L250.2,883.4 L252.3,883.4 L254.5,883.4 L256.7,883.4 L258.8,883.4 L261.0,883.4 L263.2,883.4 L265.3,883.4 L267.5,883.4 L269.7,883.4 L271.8,883.4 L274.0,883.4 L276.2,883.4 L278.3,883.4 L280.5,883.4 L282.7,883.4 L284.8,883.4 L287.0,883.4 L289.2,883.4 L291.3,883.4 L293.5,883.4 L295.7,883.4 L297.8,883.4 L300.0,883.4 L302.1,883.4 L304.2,883.4 L306.2,883.4 L308.3,883.4 L310.4,883.4 L312.5,883.4 L314.5,883.4 L316.6,883.4 L318.7,883.4 L320.8,883.4 L322.8,883.4 L324.9,883.4 L327.0,883.4 L329.1,883.4 L331.2,883.4 L333.2,883.4 L335.3,883.4 L337.4,883.4 L339.5,883.4 L341.5,883.4 L343.6,883.4 L345.7,883.4 L347.8,883.4 L349.8,883.4 L351.9,883.4 L354.0,883.4 L356.1,883.4 L358.2,883.4 L360.2,883.4 L362.3,883.4 L364.4,883.4 L366.5,883.4 L368.5,883.4 L370.6,883.4 L372.7,883.4 L374.8,883.4 L376.8,883.4 L378.9,883.4 L381.0,883.4 L383.1,883.4 L385.2,883.4 L387.2,883.4 L389.3,883.4 L391.4,883.4 L393.5,883.4 L395.5,883.4 L397.6,883.4 L399.7,883.4 L401.8,883.4 L403.8,883.4 L405.9,883.4 L408.0,883.4 L410.1,883.4 L412.2,883.4 L414.2,883.4 L416.3,883.4 L418.4,883.4 L420.5,883.4 L422.5,883.4 L424.6,883.4 L426.7,883.4 L428.8,883.4 L430.8,883.4 L432.9,883.4 L435.0,883.4 L437.1,883.4 L439.2,883.4 L441.2,883.4 L443.3,883.4 L445.4,883.4 L447.5,883.4 L449.5,883.4 L451.7,883.3 L454.1,883.2 L456.5,883.1 L458.7,883.0 L460.6,883.1 L462.0,883.4 L462.5,883.6 L462.9,883.8 L463.2,884.0 L463.5,884.3 L463.7,884.6 L464.0,885.0 L464.3,885.6 L464.6,886.4 L464.8,887.2 L464.9,888.1 L465.1,889.0 L465.2,890.0 L465.4,891.4 L465.6,893.0 L465.7,894.7 L465.8,896.4 L465.9,898.2 L466.0,900.0 L466.1,902.0 L466.2,904.1 L466.2,906.3 L466.3,908.4 L466.3,910.6 L466.4,912.7 L466.4,914.8 L466.5,917.0 L466.5,919.1 L466.6,921.2 L466.7,923.3 L466.7,925.4 L466.8,927.5 L466.8,929.7 L466.9,931.8 L467.0,933.9 L467.0,936.0 L467.1,938.1 L467.1,940.3 L467.2,942.4 L467.2,944.5 L467.3,946.6 L467.4,948.7 L467.4,950.9 L467.5,953.0 L467.5,955.1 L467.6,957.2 L467.7,959.3 L467.7,961.5 L467.8,963.6 L467.8,965.7 L467.9,967.8 L468.0,969.9 L468.0,972.0 L468.1,974.2 L468.1,976.3 L468.2,978.4 L468.3,980.5 L468.3,982.6 L468.4,984.7 L468.4,986.8 L468.5,989.0 L468.6,991.3 L468.6,993.7 L468.7,996.1 L468.7,998.4 L468.8,1000.8 L468.8,1003.2 L468.9,1005.6 L468.9,1007.9 L469.0,1010.3 L469.0,1012.7 L469.0,1015.0 L469.1,1017.4 L469.1,1019.8 L469.2,1022.1 L469.2,1024.5 L469.3,1026.9 L469.3,1029.2 L469.4,1031.6 L469.4,1034.0 L469.5,1036.3 L469.5,1038.7 L469.6,1041.1 L469.6,1043.4 L469.7,1045.8 L469.7,1048.2 L469.8,1050.5 L469.8,1052.9 L469.9,1055.3 L469.9,1057.6 L470.0,1060.0 L470.1,1062.3 L470.1,1064.7 L470.2,1067.0 L470.3,1069.3 L470.3,1071.7 L470.4,1074.0 L470.5,1076.3 L470.5,1078.7 L470.6,1081.0 L470.7,1083.3 L470.7,1085.7 L470.8,1088.0 L470.9,1090.3 L470.9,1092.7 L471.0,1095.0 L471.1,1097.3 L471.1,1099.7 L471.2,1102.0 L471.3,1104.3 L471.3,1106.7 L471.4,1109.0 L471.5,1111.3 L471.5,1113.7 L471.6,1116.0 L471.7,1118.3 L471.7,1120.7 L471.8,1123.0 L471.9,1125.3 L471.9,1127.7 L472.0,1130.0 L472.1,1132.3 L472.2,1134.7 L472.2,1137.0 L472.3,1139.3 L472.4,1141.7 L472.5,1144.0 L472.6,1146.3 L472.7,1148.7 L472.8,1151.0 L472.8,1153.3 L472.9,1155.7 L473.0,1158.0 L473.1,1160.3 L473.2,1162.7 L473.2,1165.0 L473.3,1167.3 L473.4,1169.7 L473.5,1172.0 L473.6,1174.3 L473.7,1176.7 L473.8,1179.0 L473.8,1181.3 L473.9,1183.7 L474.0,1186.0 L474.1,1188.3 L474.2,1190.7 L474.2,1193.0 L474.3,1195.3 L474.4,1197.7 L474.5,1200.0 L474.6,1202.3 L474.7,1204.6 L474.8,1206.9 L474.9,1209.2 L475.0,1211.5 L475.1,1213.8 L475.2,1216.0 L475.3,1218.3 L475.4,1220.6 L475.5,1222.9 L475.6,1225.2 L475.8,1227.5 L475.9,1229.8 L476.0,1232.1 L476.1,1234.4 L476.2,1236.7 L476.3,1239.0 L476.4,1241.2 L476.5,1243.5 L476.6,1245.8 L476.7,1248.1 L476.8,1250.4 L476.9,1252.7 L477.0,1255.0 L477.1,1257.2 L477.3,1259.4 L477.5,1261.5 L477.7,1263.7 L477.8,1265.8 L478.0,1268.0 L478.1,1270.2 L478.2,1272.3 L478.3,1274.5 L478.5,1276.6 L478.7,1278.8 L479.0,1281.0 L479.4,1283.5 L480.0,1286.2 L480.6,1288.9 L481.3,1291.5 L482.1,1293.9 L483.0,1296.0 L483.8,1297.5 L484.7,1299.0 L485.6,1300.5 L486.5,1301.7 L487.5,1302.6 L488.4,1303.0 L489.0,1303.0 L489.6,1302.8 L490.2,1302.5 L490.8,1302.0 L491.4,1301.5 L492.0,1301.0 L492.8,1300.3 L493.6,1299.4 L494.3,1298.4 L495.1,1297.4 L495.8,1296.2 L496.5,1295.0 L497.4,1293.2 L498.2,1291.1 L498.9,1288.9 L499.7,1286.6 L500.4,1284.4 L501.1,1282.2 L501.9,1280.0 L502.6,1277.9 L503.4,1275.9 L504.1,1273.7 L504.9,1271.6 L505.8,1269.3 L507.0,1266.2 L508.3,1262.8 L509.7,1259.2 L511.1,1255.9 L512.6,1253.0 L514.0,1250.7 L514.7,1249.8 L515.5,1249.0 L516.2,1248.4 L516.9,1247.9 L517.7,1247.4 L518.5,1247.0 L519.3,1246.7 L520.1,1246.4 L520.9,1246.1 L521.7,1246.0 L522.5,1245.9 L523.3,1246.0 L524.0,1246.2 L524.6,1246.5 L525.2,1247.0 L525.8,1247.5 L526.4,1248.0 L527.0,1248.5 L527.7,1249.2 L528.4,1249.9 L529.0,1250.7 L529.7,1251.5 L530.5,1252.3 L531.4,1253.0 L533.0,1254.1 L534.9,1255.2 L537.0,1256.3 L539.1,1257.3 L541.2,1258.2 L543.0,1258.8 L544.1,1259.1 L545.1,1259.2 L546.1,1259.3 L547.1,1259.4 L548.0,1259.4 L549.0,1259.5 L550.0,1259.6 L550.9,1259.6 L551.9,1259.7 L552.8,1259.7 L553.8,1259.8 L554.7,1260.0 L555.6,1260.2 L556.5,1260.5 L557.5,1260.8 L558.3,1261.1 L559.2,1261.5 L560.0,1262.0 L560.7,1262.5 L561.4,1263.0 L562.0,1263.6 L562.6,1264.2 L563.3,1264.9 L564.0,1265.8 L565.6,1267.9 L567.4,1270.6 L569.4,1273.7 L571.4,1276.9 L573.5,1280.0 L575.6,1283.0 L577.8,1285.9 L580.1,1288.8 L582.5,1291.7 L584.9,1294.5 L587.3,1297.1 L589.5,1299.5 L591.1,1301.1 L592.7,1302.5 L594.2,1303.9 L595.7,1305.1 L597.2,1306.4 L598.8,1307.8 L600.3,1309.1 L601.8,1310.5 L603.4,1311.8 L604.9,1313.2 L606.4,1314.6 L608.0,1316.0 L609.7,1317.5 L611.3,1319.1 L613.0,1320.7 L614.6,1322.3 L616.3,1323.9 L618.0,1325.5 L619.6,1327.0 L621.2,1328.4 L622.8,1329.9 L624.4,1331.4 L626.2,1332.9 L628.0,1334.5 L630.8,1337.0 L633.8,1339.8 L637.0,1342.7 L640.2,1345.5 L643.3,1347.9 L646.0,1349.7 L647.5,1350.5 L648.9,1351.1 L650.2,1351.5 L651.5,1351.9 L652.7,1352.2 L654.0,1352.5 L655.1,1352.8 L656.1,1353.1 L657.1,1353.3 L658.1,1353.4 L659.1,1353.5 L660.0,1353.3 L660.9,1352.9 L661.8,1352.3 L662.7,1351.6 L663.5,1350.7 L664.3,1349.9 L665.0,1349.0 L665.6,1348.1 L666.1,1347.2 L666.6,1346.2 L667.0,1345.2 L667.5,1344.1 L668.0,1343.0 L668.8,1341.4 L669.6,1339.7 L670.4,1337.8 L671.2,1335.9 L672.0,1333.9 L672.8,1331.8 L673.7,1328.7 L674.7,1325.2 L675.5,1321.5 L676.4,1318.0 L677.2,1314.7 L678.0,1312.0 L678.4,1310.8 L678.8,1309.7 L679.2,1308.7 L679.6,1307.7 L680.0,1306.9 L680.5,1306.0 L681.0,1305.2 L681.5,1304.5 L682.0,1303.7 L682.5,1303.1 L683.1,1302.5 L683.6,1302.0 L684.0,1301.7 L684.4,1301.5 L684.8,1301.3 L685.2,1301.1 L685.6,1301.0 L686.0,1301.0 L686.5,1301.0 L687.0,1301.1 L687.5,1301.3 L688.0,1301.5 L688.5,1301.8 L689.0,1302.0 L689.6,1302.3 L690.3,1302.6 L690.9,1302.9 L691.6,1303.3 L692.3,1303.6 L693.0,1304.0 L693.8,1304.4 L694.6,1304.9 L695.4,1305.4 L696.2,1305.8 L697.1,1306.3 L698.0,1306.7 L699.2,1307.1 L700.5,1307.6 L701.9,1307.9 L703.3,1308.3 L704.6,1308.6 L706.0,1309.0 L707.4,1309.4 L708.8,1309.8 L710.2,1310.3 L711.6,1310.7 L712.9,1310.9 L714.0,1311.0 L714.7,1310.9 L715.3,1310.8 L715.9,1310.7 L716.4,1310.4 L717.0,1310.2 L717.5,1310.0 L718.0,1309.7 L718.5,1309.4 L719.0,1309.0 L719.5,1308.7 L720.0,1308.5 L720.4,1308.5 L720.8,1308.8 L721.2,1309.2 L721.5,1309.8 L721.9,1310.5 L722.2,1311.3 L722.5,1312.0 L722.9,1313.0 L723.3,1314.1 L723.7,1315.3 L724.1,1316.6 L724.5,1317.8 L724.9,1319.0 L725.4,1320.2 L725.8,1321.4 L726.3,1322.6 L726.9,1323.7 L727.4,1324.9 L728.0,1326.0 L728.6,1327.0 L729.2,1328.1 L729.9,1329.0 L730.5,1330.0 L731.3,1330.9 L732.0,1331.8 L732.8,1332.6 L733.6,1333.3 L734.4,1334.1 L735.2,1334.7 L736.1,1335.4 L737.0,1336.0 L737.9,1336.6 L738.9,1337.1 L739.9,1337.6 L740.9,1338.1 L741.8,1338.5 L742.8,1339.0 L743.7,1339.4 L744.5,1339.9 L745.4,1340.3 L746.3,1340.7 L747.1,1341.1 L748.0,1341.5 L748.9,1341.9 L749.8,1342.2 L750.7,1342.5 L751.7,1342.8 L752.6,1343.2 L753.6,1343.5 L754.8,1343.9 L756.1,1344.2 L757.4,1344.6 L758.6,1345.0 L759.8,1345.5 L760.8,1346.0 L761.5,1346.5 L762.0,1347.0 L762.5,1347.6 L763.0,1348.2 L763.5,1348.8 L764.0,1349.5 L764.6,1350.3 L765.3,1351.1 L765.9,1352.0 L766.5,1352.9 L767.2,1353.9 L768.0,1355.0 L769.5,1357.2 L771.1,1359.8 L772.9,1362.7 L774.8,1365.6 L776.8,1368.4 L778.7,1371.0 L780.5,1373.2 L782.4,1375.3 L784.3,1377.3 L786.2,1379.3 L788.1,1381.2 L790.0,1383.0 L791.7,1384.6 L793.3,1386.1 L795.0,1387.5 L796.6,1388.9 L798.3,1390.2 L800.0,1391.5 L801.6,1392.7 L803.3,1393.9 L804.9,1395.0 L806.6,1396.1 L808.3,1397.1 L810.0,1398.0 L811.6,1398.7 L813.2,1399.4 L814.8,1400.0 L816.5,1400.5 L818.2,1401.0 L820.0,1401.5 L822.3,1402.0 L824.8,1402.5 L827.3,1403.0 L829.9,1403.4 L832.5,1403.7 L835.0,1404.0 L837.5,1404.2 L840.0,1404.4 L842.5,1404.5 L845.0,1404.7 L847.5,1404.8 L850.0,1404.9 L852.5,1405.1 L855.0,1405.2 L857.5,1405.4 L860.0,1405.5 L862.5,1405.7 L865.0,1405.8 L867.4,1405.9 L869.9,1406.0 L872.3,1406.1 L874.7,1406.2 L877.1,1406.3 L879.5,1406.4 L881.9,1406.5 L884.3,1406.6 L886.8,1406.7 L889.2,1406.8 L891.6,1406.9 L894.0,1407.0" fill="none" stroke="#ff0000" stroke-width="8" stroke-linejoin="round" stroke-linecap="butt" clip-path="url(#cb)"/>
<path d="M171.0,1396.5 L171.8,1396.2 L172.7,1395.9 L173.5,1395.6 L174.4,1395.3 L175.2,1394.9 L176.0,1394.5 L176.8,1394.0 L177.6,1393.6 L178.4,1393.0 L179.2,1392.4 L179.9,1391.8 L180.5,1391.0 L181.2,1389.8 L181.7,1388.4 L182.2,1386.9 L182.5,1385.3 L182.9,1383.7 L183.3,1382.0 L183.8,1380.0 L184.2,1377.9 L184.6,1375.7 L185.0,1373.4 L185.4,1371.2 L185.7,1369.0 L186.0,1366.9 L186.2,1364.7 L186.4,1362.6 L186.6,1360.5 L186.8,1358.3 L186.9,1356.2 L187.2,1354.1 L187.4,1351.9 L187.6,1349.8 L187.8,1347.7 L188.0,1345.5 L188.2,1343.4 L188.3,1341.2 L188.5,1339.1 L188.6,1336.9 L188.7,1334.8 L188.7,1332.6 L188.8,1330.5 L189.0,1328.3 L189.1,1326.1 L189.2,1324.0 L189.3,1321.8 L189.4,1319.7 L189.5,1317.5 L189.6,1315.3 L189.7,1313.2 L189.8,1311.0 L189.9,1308.9 L190.0,1306.7 L190.1,1304.6 L190.3,1302.5 L190.4,1300.3 L190.5,1298.2 L190.6,1296.0 L190.7,1293.9 L190.8,1291.7 L190.9,1289.5 L190.9,1287.4 L190.9,1285.2 L190.9,1283.1 L191.0,1280.9 L191.0,1278.8 L191.0,1276.6 L191.0,1274.5 L191.1,1272.3 L191.1,1270.2 L191.1,1268.0 L191.2,1265.8 L191.2,1263.7 L191.2,1261.5 L191.2,1259.4 L191.3,1257.2 L191.3,1255.1 L191.3,1252.9 L191.4,1250.8 L191.4,1248.6 L191.4,1246.5 L191.4,1244.3 L191.5,1242.2 L191.5,1240.0 L191.5,1237.9 L191.6,1235.7 L191.6,1233.6 L191.7,1231.4 L191.7,1229.3 L191.8,1227.1 L191.8,1225.0 L191.9,1222.9 L191.9,1220.7 L192.0,1218.6 L192.0,1216.4 L192.1,1214.3 L192.1,1212.1 L192.2,1210.0 L192.2,1207.9 L192.3,1205.7 L192.3,1203.6 L192.4,1201.4 L192.4,1199.3 L192.5,1197.1 L192.5,1195.0 L192.5,1192.9 L192.6,1190.7 L192.6,1188.6 L192.7,1186.4 L192.7,1184.3 L192.8,1182.1 L192.8,1180.0 L192.9,1177.9 L192.9,1175.7 L193.0,1173.6 L193.0,1171.4 L193.1,1169.3 L193.1,1167.1 L193.2,1165.0 L193.2,1162.9 L193.3,1160.7 L193.3,1158.6 L193.4,1156.4 L193.4,1154.3 L193.5,1152.1 L193.5,1150.0 L193.5,1147.9 L193.6,1145.8 L193.6,1143.7 L193.7,1141.7 L193.7,1139.6 L193.8,1137.5 L193.8,1135.4 L193.9,1133.3 L193.9,1131.2 L194.0,1129.2 L194.0,1127.1 L194.1,1125.0 L194.1,1122.9 L194.2,1120.8 L194.2,1118.8 L194.3,1116.7 L194.3,1114.6 L194.4,1112.5 L194.4,1110.4 L194.5,1108.3 L194.5,1106.2 L194.6,1104.2 L194.6,1102.1 L194.7,1100.0 L194.7,1097.9 L194.7,1095.8 L194.8,1093.8 L194.8,1091.7 L194.9,1089.6 L194.9,1087.5 L195.0,1085.4 L195.0,1083.3 L195.1,1081.2 L195.1,1079.2 L195.2,1077.1 L195.2,1075.0 L195.3,1072.9 L195.3,1070.8 L195.4,1068.8 L195.4,1066.7 L195.5,1064.6 L195.5,1062.5 L195.6,1060.4 L195.6,1058.3 L195.7,1056.3 L195.7,1054.2 L195.7,1052.1 L195.8,1050.0 L195.9,1047.9 L195.9,1045.7 L196.0,1043.6 L196.0,1041.4 L196.1,1039.3 L196.1,1037.1 L196.2,1035.0 L196.3,1032.9 L196.3,1030.7 L196.4,1028.6 L196.4,1026.4 L196.5,1024.3 L196.5,1022.1 L196.6,1020.0 L196.7,1017.9 L196.7,1015.7 L196.8,1013.6 L196.8,1011.4 L196.9,1009.3 L196.9,1007.1 L197.0,1005.0 L197.1,1002.9 L197.1,1000.7 L197.2,998.6 L197.2,996.4 L197.3,994.3 L197.3,992.1 L197.4,990.0 L197.5,987.9 L197.5,985.7 L197.6,983.6 L197.6,981.4 L197.7,979.3 L197.7,977.1 L197.8,975.0 L197.9,972.9 L197.9,970.7 L198.0,968.6 L198.0,966.4 L198.1,964.3 L198.1,962.2 L198.2,960.0 L198.3,957.8 L198.3,955.6 L198.4,953.3 L198.5,951.1 L198.6,948.9 L198.6,946.7 L198.7,944.4 L198.8,942.2 L198.8,940.0 L198.9,937.8 L199.0,935.6 L199.1,933.3 L199.1,931.2 L199.2,929.0 L199.2,926.9 L199.3,924.7 L199.4,922.4 L199.5,920.0 L199.7,916.4 L199.9,912.3 L200.1,908.1 L200.4,904.0 L200.7,900.2 L201.0,897.0 L201.2,895.5 L201.4,894.1 L201.6,892.8 L201.8,891.6 L202.1,890.5 L202.5,889.5 L202.8,888.8 L203.2,888.1 L203.6,887.4 L204.0,886.8 L204.5,886.3 L205.0,885.8 L205.5,885.4 L206.1,885.1 L206.7,884.9 L207.4,884.6 L208.2,884.5 L209.0,884.3 L210.7,884.1 L212.8,884.1 L215.0,884.1 L217.4,884.2 L219.7,884.3 L222.0,884.3 L224.2,884.3 L226.3,884.3 L228.5,884.3 L230.7,884.3 L232.8,884.3 L235.0,884.3 L237.2,884.3 L239.3,884.3 L241.5,884.3 L243.7,884.3 L245.8,884.3 L248.0,884.3 L250.2,884.3 L252.3,884.3 L254.5,884.3 L256.7,884.3 L258.8,884.3 L261.0,884.3 L263.2,884.3 L265.3,884.3 L267.5,884.3 L269.7,884.3 L271.8,884.3 L274.0,884.3 L276.2,884.3 L278.3,884.3 L280.5,884.3 L282.7,884.3 L284.8,884.3 L287.0,884.3 L289.2,884.3 L291.4,884.3 L293.5,884.3 L295.7,884.3 L297.9,884.3 L300.0,884.3 L302.0,884.3 L304.0,884.3 L306.0,884.3 L308.0,884.3 L310.0,884.3 L312.0,884.3 L314.0,884.3 L316.0,884.3 L318.0,884.3 L320.0,884.3 L322.0,884.3 L324.0,884.3 L326.0,884.3 L328.0,884.3 L330.0,884.3 L332.0,884.3 L334.0,884.3 L336.0,884.3 L338.0,884.3 L340.0,884.3 L342.0,884.3 L344.0,884.3 L346.0,884.3 L348.0,884.3 L350.0,884.3 L352.0,884.3 L354.0,884.3 L356.0,884.3 L358.0,884.3 L360.0,884.3 L362.0,884.3 L364.0,884.3 L366.0,884.3 L368.0,884.3 L370.0,884.3 L372.0,884.3 L374.0,884.3 L376.0,884.3 L378.0,884.3 L380.0,884.3 L382.0,884.3 L384.0,884.3 L386.0,884.3 L388.0,884.3 L390.0,884.3 L392.0,884.3 L394.0,884.3 L396.0,884.3 L398.0,884.3 L400.0,884.3 L402.0,884.3 L404.0,884.3 L406.0,884.3 L408.0,884.3 L410.0,884.3 L412.0,884.3 L414.0,884.3 L416.0,884.3 L418.0,884.3 L420.0,884.3 L422.0,884.3 L424.0,884.3 L426.0,884.3 L428.0,884.3 L430.0,884.3 L432.0,884.3 L434.0,884.3 L436.0,884.3 L438.0,884.3 L440.0,884.3 L442.0,884.3 L444.0,884.3 L446.1,884.2 L448.4,884.1 L450.6,884.0 L452.7,883.9 L454.6,884.0 L456.0,884.3 L456.5,884.5 L456.9,884.7 L457.3,885.0 L457.6,885.3 L457.9,885.6 L458.2,886.0 L458.6,886.7 L458.8,887.6 L459.0,888.5 L459.2,889.6 L459.3,890.7 L459.5,892.0 L459.8,894.7 L460.0,897.9 L460.1,901.4 L460.3,905.0 L460.4,908.5 L460.5,911.7 L460.6,914.0 L460.7,916.2 L460.7,918.3 L460.8,920.4 L460.9,922.5 L460.9,924.6 L461.0,926.7 L461.1,928.9 L461.1,931.0 L461.2,933.2 L461.3,935.3 L461.3,937.5 L461.4,939.6 L461.5,941.8 L461.5,943.9 L461.6,946.1 L461.7,948.2 L461.8,950.4 L461.8,952.5 L461.9,954.6 L462.0,956.8 L462.0,958.9 L462.1,961.1 L462.2,963.2 L462.2,965.4 L462.3,967.5 L462.4,969.7 L462.4,971.8 L462.5,974.0 L462.6,976.1 L462.7,978.3 L462.7,980.4 L462.8,982.5 L462.9,984.7 L462.9,986.8 L463.0,989.0 L463.1,991.3 L463.1,993.7 L463.2,996.1 L463.3,998.4 L463.4,1000.8 L463.4,1003.2 L463.5,1005.6 L463.6,1007.9 L463.7,1010.3 L463.7,1012.7 L463.8,1015.0 L463.9,1017.4 L464.0,1019.8 L464.0,1022.1 L464.1,1024.5 L464.2,1026.9 L464.2,1029.2 L464.3,1031.6 L464.4,1034.0 L464.5,1036.3 L464.5,1038.7 L464.6,1041.1 L464.7,1043.4 L464.8,1045.8 L464.8,1048.2 L464.9,1050.6 L465.0,1053.0 L465.1,1055.4 L465.1,1057.7 L465.2,1060.0 L465.3,1062.1 L465.3,1064.1 L465.3,1066.1 L465.4,1068.0 L465.4,1070.0 L465.5,1072.0 L465.5,1074.0 L465.5,1076.0 L465.6,1078.0 L465.6,1080.0 L465.7,1082.0 L465.7,1084.0 L465.8,1086.0 L465.8,1088.0 L465.9,1090.0 L465.9,1092.0 L465.9,1094.0 L466.0,1096.0 L466.0,1098.0 L466.1,1100.0 L466.1,1102.0 L466.2,1104.0 L466.2,1106.0 L466.2,1108.0 L466.3,1110.0 L466.3,1112.0 L466.4,1113.9 L466.4,1115.9 L466.4,1117.9 L466.5,1120.0 L466.6,1122.3 L466.7,1124.6 L466.7,1126.9 L466.8,1129.3 L466.9,1131.7 L467.0,1134.0 L467.1,1136.3 L467.2,1138.7 L467.3,1141.0 L467.4,1143.3 L467.5,1145.7 L467.6,1148.0 L467.6,1150.3 L467.7,1152.7 L467.8,1155.0 L467.9,1157.3 L468.0,1159.7 L468.1,1162.0 L468.2,1164.3 L468.2,1166.7 L468.3,1169.0 L468.4,1171.4 L468.5,1173.7 L468.6,1176.0 L468.7,1178.3 L468.8,1180.5 L468.9,1182.8 L469.0,1185.0 L469.1,1187.3 L469.2,1189.5 L469.3,1191.8 L469.4,1194.0 L469.5,1196.2 L469.6,1198.5 L469.7,1200.8 L469.8,1203.0 L469.9,1205.2 L470.0,1207.5 L470.1,1209.8 L470.2,1212.0 L470.3,1214.2 L470.4,1216.5 L470.5,1218.8 L470.6,1221.0 L470.7,1223.3 L470.8,1225.5 L470.9,1227.8 L471.0,1230.0 L471.1,1232.2 L471.2,1234.4 L471.3,1236.5 L471.4,1238.7 L471.6,1240.8 L471.7,1243.0 L471.8,1245.2 L471.9,1247.3 L472.0,1249.5 L472.1,1251.7 L472.2,1253.8 L472.3,1256.0 L472.4,1258.2 L472.5,1260.3 L472.6,1262.4 L472.7,1264.6 L472.8,1266.8 L473.0,1269.0 L473.2,1271.5 L473.4,1274.1 L473.7,1276.7 L474.0,1279.3 L474.2,1281.9 L474.5,1284.5 L474.7,1287.1 L475.0,1289.6 L475.2,1292.1 L475.4,1294.7 L475.7,1297.3 L476.0,1300.0 L476.4,1303.3 L476.8,1306.9 L477.2,1310.6 L477.7,1314.1 L478.3,1317.5 L479.0,1320.5 L479.5,1322.5 L480.1,1324.3 L480.7,1326.1 L481.4,1327.7 L482.1,1329.2 L483.0,1330.5 L483.8,1331.4 L484.7,1332.3 L485.6,1333.1 L486.5,1333.8 L487.5,1334.2 L488.4,1334.4 L489.2,1334.3 L490.0,1334.1 L490.7,1333.6 L491.5,1333.1 L492.3,1332.6 L493.0,1332.0 L493.8,1331.4 L494.6,1330.8 L495.3,1330.1 L496.1,1329.3 L496.9,1328.4 L497.7,1327.4 L499.2,1325.3 L500.7,1322.6 L502.3,1319.7 L503.9,1316.7 L505.4,1313.7 L507.0,1311.0 L508.4,1308.7 L509.7,1306.3 L511.1,1303.9 L512.4,1301.7 L513.7,1299.9 L515.0,1298.4 L515.7,1297.8 L516.3,1297.3 L517.0,1296.9 L517.6,1296.6 L518.3,1296.3 L519.0,1296.0 L519.7,1295.7 L520.4,1295.5 L521.2,1295.2 L521.9,1295.1 L522.6,1295.0 L523.3,1295.0 L523.9,1295.2 L524.6,1295.4 L525.2,1295.7 L525.8,1296.1 L526.4,1296.6 L527.0,1297.0 L527.7,1297.5 L528.4,1298.1 L529.1,1298.7 L529.8,1299.4 L530.6,1300.0 L531.4,1300.7 L532.7,1301.7 L534.2,1302.7 L535.8,1303.8 L537.4,1304.9 L539.1,1305.8 L540.7,1306.5 L542.1,1306.9 L543.5,1307.2 L544.8,1307.4 L546.2,1307.5 L547.6,1307.6 L549.0,1307.8 L550.4,1308.0 L551.8,1308.1 L553.1,1308.2 L554.5,1308.3 L555.8,1308.5 L557.0,1308.8 L557.9,1309.1 L558.8,1309.5 L559.6,1310.0 L560.5,1310.4 L561.2,1310.9 L562.0,1311.5 L562.7,1312.1 L563.4,1312.7 L564.1,1313.4 L564.7,1314.1 L565.5,1314.9 L566.3,1315.8 L568.1,1317.9 L570.2,1320.6 L572.4,1323.5 L574.8,1326.5 L577.4,1329.4 L580.0,1332.0 L582.9,1334.3 L586.1,1336.5 L589.4,1338.6 L592.7,1340.5 L595.9,1342.3 L598.8,1344.0 L600.8,1345.2 L602.8,1346.2 L604.7,1347.2 L606.6,1348.1 L608.3,1349.0 L610.0,1350.0 L611.3,1350.8 L612.5,1351.7 L613.7,1352.5 L614.9,1353.3 L616.1,1354.2 L617.4,1355.0 L619.0,1356.0 L620.7,1356.9 L622.4,1357.9 L624.2,1358.9 L626.0,1359.9 L628.0,1361.0 L630.8,1362.6 L633.9,1364.4 L637.1,1366.3 L640.3,1368.1 L643.3,1369.7 L646.0,1371.0 L647.5,1371.6 L648.9,1372.1 L650.2,1372.6 L651.5,1372.9 L652.8,1373.2 L654.0,1373.5 L655.0,1373.7 L656.1,1373.9 L657.1,1374.0 L658.1,1374.1 L659.1,1374.1 L660.0,1374.0 L660.9,1373.8 L661.8,1373.6 L662.6,1373.3 L663.4,1372.9 L664.2,1372.5 L665.0,1372.0 L665.7,1371.5 L666.4,1370.9 L667.1,1370.2 L667.7,1369.5 L668.3,1368.6 L669.0,1367.7 L670.2,1365.7 L671.5,1363.3 L672.8,1360.6 L674.0,1357.8 L675.3,1355.3 L676.4,1353.3 L677.0,1352.3 L677.6,1351.4 L678.2,1350.6 L678.8,1349.8 L679.4,1349.1 L680.0,1348.5 L680.6,1348.0 L681.1,1347.5 L681.7,1347.1 L682.3,1346.7 L682.9,1346.3 L683.6,1346.0 L684.5,1345.7 L685.6,1345.4 L686.7,1345.2 L687.8,1345.1 L688.9,1344.9 L690.0,1344.8 L691.0,1344.7 L692.0,1344.5 L692.9,1344.4 L693.9,1344.3 L694.9,1344.3 L696.0,1344.4 L697.7,1344.7 L699.5,1345.3 L701.5,1346.0 L703.4,1346.7 L705.3,1347.4 L707.0,1348.0 L708.3,1348.4 L709.6,1348.8 L710.8,1349.2 L712.0,1349.5 L713.0,1349.7 L714.0,1349.7 L714.6,1349.6 L715.1,1349.3 L715.6,1349.0 L716.1,1348.7 L716.5,1348.3 L717.0,1348.0 L717.4,1347.6 L717.9,1347.2 L718.3,1346.7 L718.7,1346.3 L719.1,1346.1 L719.5,1346.0 L719.9,1346.2 L720.4,1346.6 L720.8,1347.1 L721.2,1347.7 L721.6,1348.4 L722.0,1349.0 L722.4,1349.6 L722.7,1350.3 L723.0,1351.0 L723.3,1351.7 L723.6,1352.5 L724.0,1353.3 L724.6,1354.7 L725.2,1356.2 L725.9,1357.9 L726.7,1359.5 L727.5,1361.0 L728.4,1362.3 L729.2,1363.1 L730.1,1363.8 L731.0,1364.4 L731.9,1365.0 L732.9,1365.5 L734.0,1366.0 L735.3,1366.5 L736.7,1367.0 L738.2,1367.4 L739.8,1367.8 L741.3,1368.2 L742.8,1368.6 L744.3,1369.1 L745.9,1369.6 L747.4,1370.1 L748.9,1370.5 L750.5,1371.0 L752.0,1371.5 L753.5,1371.9 L755.1,1372.3 L756.7,1372.7 L758.2,1373.1 L759.6,1373.5 L760.8,1374.0 L761.5,1374.4 L762.2,1374.8 L762.8,1375.2 L763.4,1375.6 L763.9,1376.0 L764.5,1376.5 L765.1,1377.0 L765.6,1377.5 L766.1,1378.1 L766.7,1378.7 L767.3,1379.3 L768.0,1380.0 L769.6,1381.5 L771.6,1383.4 L773.8,1385.4 L776.1,1387.4 L778.4,1389.3 L780.5,1391.0 L782.1,1392.2 L783.6,1393.3 L785.1,1394.4 L786.6,1395.4 L788.3,1396.4 L790.0,1397.3 L792.3,1398.4 L794.7,1399.5 L797.2,1400.5 L799.8,1401.4 L802.4,1402.3 L805.0,1403.0 L807.5,1403.6 L810.0,1404.1 L812.5,1404.5 L815.0,1404.9 L817.5,1405.2 L820.0,1405.5 L822.5,1405.7 L825.0,1405.9 L827.5,1406.0 L830.0,1406.1 L832.5,1406.1 L835.0,1406.2 L837.5,1406.4 L840.0,1406.5 L842.5,1406.7 L845.0,1406.8 L847.5,1406.9 L850.0,1407.0 L852.5,1407.1 L854.9,1407.1 L857.3,1407.2 L859.8,1407.2 L862.2,1407.3 L864.7,1407.3 L867.1,1407.4 L869.6,1407.4 L872.0,1407.5 L874.4,1407.6 L876.9,1407.6 L879.3,1407.7 L881.8,1407.7 L884.2,1407.8 L886.7,1407.8 L889.1,1407.9 L891.6,1407.9 L894.0,1408.0" fill="none" stroke="#660088" stroke-width="8" stroke-linejoin="round" stroke-linecap="butt" clip-path="url(#cb)"/>
<path d="M171.0,1377.0 L172.3,1374.6 L173.7,1372.2 L175.1,1369.9 L176.5,1367.5 L177.6,1365.1 L178.6,1362.7 L179.2,1360.6 L179.7,1358.4 L180.1,1356.3 L180.4,1354.1 L180.6,1352.0 L181.0,1349.8 L181.4,1347.7 L181.9,1345.6 L182.3,1343.4 L182.7,1341.3 L183.1,1339.2 L183.4,1337.0 L183.6,1334.8 L183.8,1332.7 L183.9,1330.5 L184.0,1328.3 L184.1,1326.2 L184.3,1324.0 L184.4,1321.8 L184.6,1319.7 L184.7,1317.5 L184.8,1315.3 L185.0,1313.2 L185.1,1311.0 L185.3,1308.8 L185.4,1306.7 L185.6,1304.5 L185.7,1302.4 L185.9,1300.2 L186.0,1298.0 L186.1,1295.6 L186.2,1293.2 L186.3,1290.8 L186.4,1288.4 L186.5,1285.9 L186.6,1283.5 L186.7,1281.1 L186.8,1278.7 L186.9,1276.2 L187.0,1273.8 L187.1,1271.4 L187.2,1269.0 L187.4,1266.6 L187.5,1264.2 L187.6,1261.8 L187.7,1259.3 L187.8,1256.9 L187.9,1254.5 L188.0,1252.1 L188.1,1249.6 L188.2,1247.2 L188.3,1244.8 L188.4,1242.4 L188.5,1240.0 L188.5,1237.8 L188.6,1235.7 L188.6,1233.6 L188.6,1231.5 L188.6,1229.4 L188.6,1227.3 L188.7,1225.2 L188.7,1223.0 L188.7,1220.9 L188.7,1218.8 L188.8,1216.7 L188.8,1214.5 L188.8,1212.4 L188.8,1210.3 L188.8,1208.2 L188.9,1206.1 L188.9,1203.9 L188.9,1201.8 L188.9,1199.7 L189.0,1197.6 L189.0,1195.5 L189.0,1193.3 L189.0,1191.2 L189.0,1189.1 L189.1,1187.0 L189.1,1184.8 L189.1,1182.7 L189.1,1180.6 L189.2,1178.5 L189.2,1176.4 L189.2,1174.2 L189.2,1172.1 L189.2,1170.0 L189.3,1167.9 L189.3,1165.8 L189.3,1163.6 L189.3,1161.5 L189.4,1159.4 L189.4,1157.3 L189.4,1155.2 L189.4,1153.0 L189.5,1150.9 L189.5,1148.8 L189.5,1146.7 L189.5,1144.5 L189.5,1142.4 L189.6,1140.3 L189.6,1138.2 L189.6,1136.1 L189.6,1133.9 L189.7,1131.8 L189.7,1129.7 L189.7,1127.6 L189.7,1125.5 L189.8,1123.3 L189.8,1121.2 L189.8,1119.1 L189.8,1117.0 L189.8,1114.8 L189.9,1112.7 L189.9,1110.6 L189.9,1108.5 L189.9,1106.4 L190.0,1104.2 L190.0,1102.1 L190.0,1100.0 L190.0,1097.9 L190.0,1095.8 L190.0,1093.6 L190.1,1091.5 L190.1,1089.4 L190.1,1087.3 L190.1,1085.2 L190.1,1083.0 L190.1,1080.9 L190.2,1078.8 L190.2,1076.7 L190.2,1074.5 L190.2,1072.4 L190.2,1070.3 L190.2,1068.2 L190.2,1066.1 L190.3,1063.9 L190.3,1061.8 L190.3,1059.7 L190.3,1057.6 L190.3,1055.5 L190.3,1053.3 L190.3,1051.2 L190.4,1049.1 L190.4,1047.0 L190.4,1044.8 L190.4,1042.7 L190.4,1040.6 L190.4,1038.5 L190.5,1036.4 L190.5,1034.2 L190.5,1032.1 L190.5,1030.0 L190.5,1027.9 L190.5,1025.8 L190.5,1023.6 L190.6,1021.5 L190.6,1019.4 L190.6,1017.3 L190.6,1015.2 L190.6,1013.0 L190.6,1010.9 L190.7,1008.8 L190.7,1006.7 L190.7,1004.5 L190.7,1002.4 L190.7,1000.3 L190.7,998.2 L190.7,996.1 L190.8,993.9 L190.8,991.8 L190.8,989.7 L190.8,987.6 L190.8,985.5 L190.8,983.3 L190.8,981.2 L190.9,979.1 L190.9,977.0 L190.9,974.8 L190.9,972.7 L190.9,970.6 L190.9,968.5 L191.0,966.3 L191.0,964.2 L191.0,962.1 L191.0,960.0 L191.0,958.0 L191.0,956.0 L191.0,954.0 L191.1,952.0 L191.1,950.0 L191.1,948.0 L191.1,946.0 L191.1,944.0 L191.1,942.0 L191.2,940.0 L191.2,938.0 L191.2,936.0 L191.2,934.0 L191.2,932.0 L191.2,930.0 L191.3,928.0 L191.3,926.0 L191.3,924.0 L191.3,922.0 L191.3,920.0 L191.4,918.0 L191.4,916.0 L191.4,914.0 L191.4,912.0 L191.4,910.0 L191.4,908.0 L191.4,906.0 L191.4,904.0 L191.5,902.0 L191.5,900.0 L191.5,897.9 L191.5,895.7 L191.5,893.6 L191.6,891.5 L191.7,889.6 L192.0,888.0 L192.2,887.1 L192.5,886.4 L192.8,885.6 L193.1,885.0 L193.5,884.4 L194.0,884.0 L194.6,883.7 L195.2,883.5 L195.9,883.4 L196.7,883.4 L197.6,883.3 L198.5,883.3 L200.2,883.2 L202.2,883.2 L204.4,883.2 L206.7,883.2 L209.0,883.3 L211.2,883.3 L213.3,883.3 L215.4,883.3 L217.5,883.3 L219.6,883.3 L221.8,883.3 L223.9,883.3 L226.0,883.3 L228.1,883.3 L230.2,883.3 L232.3,883.3 L234.4,883.3 L236.6,883.3 L238.7,883.3 L240.8,883.3 L242.9,883.3 L245.0,883.3 L247.1,883.3 L249.2,883.3 L251.4,883.3 L253.5,883.3 L255.6,883.3 L257.7,883.3 L259.8,883.3 L261.9,883.3 L264.1,883.3 L266.2,883.3 L268.3,883.3 L270.4,883.3 L272.5,883.3 L274.6,883.3 L276.7,883.3 L278.9,883.3 L281.0,883.3 L283.1,883.3 L285.2,883.3 L287.3,883.3 L289.4,883.3 L291.5,883.3 L293.7,883.3 L295.8,883.3 L297.9,883.3 L300.0,883.3 L302.1,883.3 L304.2,883.3 L306.3,883.3 L308.4,883.3 L310.5,883.3 L312.6,883.3 L314.7,883.3 L316.9,883.3 L319.0,883.3 L321.1,883.3 L323.2,883.3 L325.3,883.3 L327.4,883.3 L329.5,883.3 L331.6,883.3 L333.7,883.3 L335.8,883.3 L337.9,883.3 L340.0,883.3 L342.1,883.3 L344.2,883.3 L346.3,883.3 L348.4,883.3 L350.6,883.3 L352.7,883.3 L354.8,883.3 L356.9,883.3 L359.0,883.3 L361.1,883.3 L363.2,883.3 L365.3,883.3 L367.4,883.3 L369.5,883.3 L371.6,883.3 L373.7,883.3 L375.8,883.3 L377.9,883.3 L380.0,883.3 L382.1,883.3 L384.3,883.3 L386.4,883.3 L388.5,883.3 L390.6,883.3 L392.7,883.3 L394.8,883.3 L396.9,883.3 L399.0,883.3 L401.1,883.3 L403.2,883.3 L405.3,883.3 L407.4,883.3 L409.5,883.3 L411.6,883.3 L413.7,883.3 L415.9,883.3 L418.0,883.3 L420.1,883.3 L422.2,883.3 L424.3,883.3 L426.4,883.3 L428.5,883.3 L430.6,883.3 L432.7,883.3 L434.8,883.3 L436.9,883.3 L439.0,883.3 L441.1,883.3 L443.2,883.3 L445.3,883.3 L447.4,883.3 L449.6,883.3 L451.7,883.3 L453.9,883.3 L456.3,883.2 L458.7,883.1 L460.9,883.0 L462.8,883.1 L464.3,883.3 L464.8,883.4 L465.2,883.6 L465.5,883.7 L465.8,883.9 L466.0,884.2 L466.3,884.5 L466.7,885.1 L466.9,885.9 L467.1,886.9 L467.3,887.9 L467.4,888.9 L467.6,890.0 L467.8,891.5 L467.9,893.1 L468.0,894.7 L468.1,896.5 L468.2,898.2 L468.3,900.0 L468.4,902.0 L468.5,904.1 L468.5,906.3 L468.6,908.4 L468.6,910.6 L468.7,912.7 L468.8,914.8 L468.9,917.0 L468.9,919.1 L469.0,921.2 L469.1,923.3 L469.1,925.4 L469.2,927.5 L469.3,929.7 L469.3,931.8 L469.4,933.9 L469.5,936.0 L469.5,938.1 L469.6,940.3 L469.7,942.4 L469.8,944.5 L469.8,946.6 L469.9,948.7 L470.0,950.9 L470.0,953.0 L470.1,955.1 L470.2,957.2 L470.2,959.3 L470.3,961.5 L470.4,963.6 L470.4,965.7 L470.5,967.8 L470.6,969.9 L470.6,972.0 L470.7,974.2 L470.8,976.3 L470.9,978.4 L470.9,980.5 L471.0,982.6 L471.1,984.7 L471.1,986.8 L471.2,989.0 L471.3,991.3 L471.3,993.7 L471.4,996.1 L471.4,998.4 L471.5,1000.8 L471.6,1003.2 L471.6,1005.6 L471.7,1007.9 L471.7,1010.3 L471.8,1012.7 L471.9,1015.0 L471.9,1017.4 L472.0,1019.8 L472.0,1022.1 L472.1,1024.5 L472.2,1026.9 L472.2,1029.2 L472.3,1031.6 L472.3,1034.0 L472.4,1036.3 L472.5,1038.7 L472.5,1041.1 L472.6,1043.4 L472.6,1045.8 L472.7,1048.2 L472.8,1050.6 L472.8,1053.0 L472.9,1055.3 L472.9,1057.7 L473.0,1060.0 L473.1,1062.1 L473.2,1064.2 L473.2,1066.3 L473.3,1068.4 L473.4,1070.4 L473.5,1072.5 L473.6,1074.6 L473.7,1076.7 L473.8,1078.8 L473.8,1080.8 L473.9,1082.9 L474.0,1085.0 L474.1,1087.1 L474.2,1089.2 L474.2,1091.2 L474.3,1093.3 L474.4,1095.4 L474.5,1097.5 L474.6,1099.6 L474.7,1101.6 L474.7,1103.7 L474.8,1105.8 L474.9,1107.9 L475.0,1110.0 L475.1,1112.3 L475.3,1114.7 L475.5,1117.1 L475.6,1119.5 L475.8,1121.9 L476.0,1124.3 L476.2,1126.7 L476.3,1129.1 L476.5,1131.5 L476.7,1133.9 L476.8,1136.3 L477.0,1138.7 L477.2,1141.1 L477.3,1143.5 L477.5,1145.9 L477.7,1148.3 L477.9,1150.7 L478.0,1153.0 L478.1,1155.1 L478.2,1157.2 L478.3,1159.2 L478.5,1161.3 L478.6,1163.3 L478.7,1165.3 L478.8,1167.4 L478.9,1169.4 L479.0,1171.5 L479.1,1173.6 L479.2,1175.6 L479.3,1177.7 L479.4,1179.7 L479.5,1181.7 L479.6,1183.8 L479.7,1185.8 L479.9,1187.9 L480.0,1190.0 L480.2,1192.3 L480.4,1194.6 L480.6,1196.9 L480.8,1199.3 L481.1,1201.7 L481.3,1204.0 L481.5,1206.3 L481.7,1208.7 L481.9,1211.1 L482.1,1213.4 L482.3,1215.7 L482.6,1218.0 L482.9,1220.1 L483.2,1222.3 L483.5,1224.5 L483.9,1226.5 L484.4,1228.4 L485.0,1230.0 L485.5,1231.0 L486.0,1232.0 L486.6,1232.9 L487.2,1233.6 L487.8,1234.1 L488.4,1234.4 L489.0,1234.4 L489.6,1234.1 L490.2,1233.7 L490.8,1233.2 L491.4,1232.6 L492.0,1232.0 L492.8,1231.1 L493.6,1230.1 L494.4,1228.9 L495.1,1227.7 L495.8,1226.4 L496.5,1225.0 L497.2,1223.1 L497.8,1221.1 L498.4,1218.9 L498.9,1216.7 L499.4,1214.4 L500.0,1212.2 L500.6,1210.1 L501.2,1208.0 L501.7,1205.9 L502.3,1203.8 L502.9,1201.7 L503.5,1199.5 L504.2,1197.0 L504.8,1194.5 L505.5,1192.0 L506.2,1189.4 L506.9,1186.8 L507.6,1184.2 L508.2,1181.6 L508.8,1178.9 L509.4,1176.2 L510.1,1173.6 L510.8,1171.2 L511.6,1169.0 L512.2,1167.6 L512.9,1166.2 L513.6,1165.0 L514.3,1163.8 L515.1,1162.8 L516.0,1162.0 L516.8,1161.4 L517.6,1160.9 L518.5,1160.4 L519.4,1160.1 L520.2,1160.0 L521.0,1160.0 L521.7,1160.3 L522.4,1160.8 L523.1,1161.5 L523.8,1162.3 L524.4,1163.2 L525.0,1164.0 L525.7,1165.1 L526.3,1166.2 L526.9,1167.4 L527.6,1168.8 L528.2,1170.1 L529.0,1171.6 L530.3,1174.1 L531.8,1177.0 L533.5,1180.1 L535.2,1183.1 L536.8,1185.8 L538.4,1188.0 L539.3,1189.1 L540.3,1190.0 L541.2,1190.9 L542.1,1191.6 L543.0,1192.3 L544.0,1193.0 L545.0,1193.6 L546.0,1194.1 L547.0,1194.6 L548.0,1195.0 L549.0,1195.5 L550.0,1196.0 L551.0,1196.6 L552.0,1197.2 L553.1,1197.8 L554.1,1198.5 L555.1,1199.2 L556.0,1200.0 L557.0,1200.9 L558.0,1201.9 L558.9,1203.0 L559.9,1204.1 L560.8,1205.3 L561.6,1206.5 L562.4,1207.8 L563.2,1209.1 L563.9,1210.5 L564.6,1212.0 L565.3,1213.5 L566.0,1215.0 L566.8,1216.9 L567.7,1218.9 L568.5,1221.0 L569.3,1223.2 L570.1,1225.3 L571.0,1227.4 L571.9,1229.5 L572.9,1231.7 L573.9,1233.8 L574.8,1235.9 L575.8,1238.1 L576.8,1240.2 L577.7,1242.3 L578.6,1244.5 L579.5,1246.6 L580.5,1248.7 L581.5,1250.9 L582.6,1253.0 L584.0,1255.3 L585.4,1257.7 L587.0,1260.0 L588.6,1262.3 L590.2,1264.7 L591.8,1267.0 L593.3,1269.3 L594.9,1271.7 L596.4,1274.1 L597.9,1276.4 L599.4,1278.7 L601.0,1281.0 L602.5,1283.1 L604.0,1285.1 L605.6,1287.1 L607.1,1289.0 L608.6,1291.0 L610.0,1293.0 L611.3,1295.0 L612.5,1296.9 L613.7,1298.9 L614.9,1300.9 L616.1,1302.9 L617.4,1305.0 L619.0,1307.5 L620.8,1310.2 L622.6,1312.9 L624.4,1315.6 L626.2,1318.1 L628.0,1320.5 L629.5,1322.4 L631.0,1324.1 L632.5,1325.7 L634.0,1327.4 L635.5,1329.0 L637.0,1330.7 L638.5,1332.4 L640.0,1334.2 L641.4,1336.0 L642.9,1337.7 L644.4,1339.3 L646.0,1340.8 L647.5,1342.0 L649.0,1343.0 L650.5,1344.0 L652.0,1345.0 L653.5,1345.8 L655.0,1346.5 L656.2,1347.1 L657.4,1347.6 L658.6,1348.2 L659.8,1348.5 L660.9,1348.8 L662.0,1348.8 L662.9,1348.6 L663.8,1348.3 L664.7,1347.9 L665.5,1347.3 L666.3,1346.7 L667.0,1346.0 L667.8,1345.1 L668.5,1344.0 L669.1,1342.9 L669.7,1341.6 L670.3,1340.3 L671.0,1339.0 L671.9,1337.3 L672.8,1335.6 L673.7,1333.8 L674.6,1331.9 L675.5,1330.0 L676.4,1328.2 L677.3,1326.4 L678.1,1324.6 L679.0,1322.9 L679.9,1321.1 L680.8,1319.3 L681.8,1317.4 L683.2,1315.0 L684.7,1312.4 L686.3,1309.8 L687.9,1307.2 L689.5,1304.9 L690.8,1303.0 L691.5,1302.1 L692.1,1301.2 L692.7,1300.4 L693.3,1299.7 L693.9,1299.1 L694.5,1298.5 L695.1,1298.1 L695.6,1297.6 L696.2,1297.3 L696.8,1297.0 L697.4,1296.8 L698.0,1296.8 L698.6,1297.0 L699.2,1297.3 L699.8,1297.8 L700.4,1298.3 L700.9,1298.9 L701.5,1299.5 L702.1,1300.2 L702.7,1301.0 L703.2,1301.8 L703.8,1302.6 L704.4,1303.3 L705.0,1304.0 L705.6,1304.5 L706.3,1305.0 L707.0,1305.4 L707.7,1305.8 L708.3,1306.2 L709.0,1306.5 L709.6,1306.8 L710.1,1307.1 L710.7,1307.3 L711.3,1307.5 L711.8,1307.6 L712.3,1307.6 L712.7,1307.5 L713.1,1307.3 L713.5,1307.0 L713.9,1306.7 L714.2,1306.4 L714.5,1306.0 L714.8,1305.6 L715.1,1305.1 L715.3,1304.6 L715.5,1304.1 L715.7,1303.6 L715.9,1303.0 L716.2,1302.2 L716.4,1301.4 L716.7,1300.5 L716.9,1299.6 L717.2,1298.8 L717.5,1298.0 L717.8,1297.4 L718.1,1296.7 L718.4,1296.1 L718.8,1295.6 L719.1,1295.2 L719.5,1295.0 L719.9,1295.1 L720.3,1295.4 L720.7,1295.8 L721.2,1296.4 L721.6,1296.9 L722.0,1297.5 L722.5,1298.3 L723.1,1299.1 L723.6,1300.0 L724.1,1301.0 L724.5,1302.0 L724.9,1303.0 L725.3,1304.1 L725.5,1305.2 L725.8,1306.4 L726.0,1307.6 L726.2,1308.8 L726.5,1310.0 L726.8,1311.3 L727.0,1312.6 L727.3,1313.9 L727.6,1315.2 L727.9,1316.4 L728.4,1317.4 L728.9,1318.1 L729.5,1318.8 L730.1,1319.4 L730.7,1319.9 L731.4,1320.5 L732.0,1321.0 L732.6,1321.5 L733.2,1321.9 L733.7,1322.3 L734.3,1322.7 L735.0,1323.1 L735.6,1323.7 L736.7,1324.7 L737.8,1326.0 L739.0,1327.3 L740.2,1328.7 L741.5,1330.2 L742.8,1331.8 L744.5,1333.9 L746.3,1336.2 L748.1,1338.6 L750.0,1341.1 L751.8,1343.6 L753.6,1346.0 L755.3,1348.4 L757.0,1350.8 L758.7,1353.2 L760.4,1355.6 L762.2,1358.1 L764.0,1360.5 L766.0,1363.2 L768.2,1366.0 L770.3,1368.8 L772.5,1371.6 L774.7,1374.2 L777.0,1376.7 L779.1,1378.8 L781.2,1380.9 L783.3,1382.8 L785.5,1384.7 L787.7,1386.5 L790.0,1388.3 L792.4,1390.1 L794.8,1391.8 L797.3,1393.5 L799.8,1395.2 L802.3,1396.6 L804.9,1398.0 L807.3,1399.1 L809.8,1400.2 L812.3,1401.1 L814.8,1402.0 L817.3,1402.7 L819.8,1403.3 L822.3,1403.8 L824.8,1404.1 L827.3,1404.3 L829.8,1404.5 L832.3,1404.6 L834.8,1404.8 L837.3,1405.0 L839.8,1405.1 L842.3,1405.2 L844.8,1405.3 L847.3,1405.4 L849.8,1405.5 L852.2,1405.7 L854.7,1405.8 L857.2,1405.9 L859.7,1406.1 L862.2,1406.2 L864.7,1406.3 L867.1,1406.4 L869.6,1406.5 L872.0,1406.6 L874.4,1406.7 L876.8,1406.8 L879.2,1406.9 L881.7,1407.0 L884.1,1407.1 L886.5,1407.2 L889.0,1407.3 L891.4,1407.4 L893.8,1407.5" fill="none" stroke="#d830ff" stroke-width="8" stroke-linejoin="round" stroke-linecap="butt" clip-path="url(#cb)"/>
<line x1="716" y1="995.8" x2="784.3" y2="995.8" stroke="#000000" stroke-width="7" stroke-linecap="round"/>
<text transform="translate(792.3,1005.8) scale(1,1.045)" class="lg" font-size="30.2">FMNH 17797</text>
<line x1="716" y1="1032.9" x2="784.3" y2="1032.9" stroke="#0000ff" stroke-width="7" stroke-linecap="round"/>
<text transform="translate(792.3,1042.9) scale(1,1.045)" class="lg" font-size="30.2">FMNH 73067</text>
<line x1="716" y1="1070.0" x2="784.3" y2="1070.0" stroke="#ff0000" stroke-width="7" stroke-linecap="round"/>
<text transform="translate(792.3,1080.0) scale(1,1.045)" class="lg" font-size="30.2">FMNH 73068</text>
<line x1="716" y1="1107.1" x2="784.3" y2="1107.1" stroke="#660088" stroke-width="7" stroke-linecap="round"/>
<text transform="translate(792.3,1117.1) scale(1,1.045)" class="lg" font-size="30.2">FMNH 73069</text>
<line x1="716" y1="1144.2" x2="784.3" y2="1144.2" stroke="#d830ff" stroke-width="7" stroke-linecap="round"/>
<text transform="translate(792.3,1154.2) scale(1,1.045)" class="lg" font-size="30.2">FMNH 153118</text>
</svg>
</body></html>
